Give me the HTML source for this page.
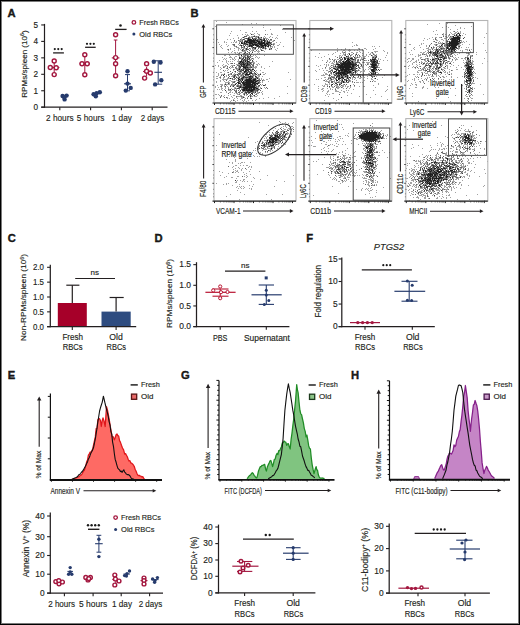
<!DOCTYPE html>
<html><head><meta charset="utf-8"><style>
html,body{margin:0;padding:0;background:#fff;}
body{width:520px;height:625px;overflow:hidden;}
svg{display:block;}
text{font-family:"Liberation Sans", sans-serif;fill:#231f20;stroke:#231f20;stroke-width:0.15px;}
text[font-weight=bold]{stroke:#000;stroke-width:0.35px;}
</style></head><body>
<svg width="520" height="625" viewBox="0 0 520 625">
<rect x="0" y="0" width="520" height="625" fill="#fff"/>
<text x="7.6" y="17.4" font-size="11.2" font-weight="bold" fill="#000">A</text>
<line x1="44.5" y1="23.9" x2="44.5" y2="107.8" stroke="#231f20" stroke-width="1.2"/>
<line x1="41.2" y1="107.2" x2="167.5" y2="107.2" stroke="#231f20" stroke-width="1.2"/>
<line x1="41.2" y1="107.2" x2="44.5" y2="107.2" stroke="#231f20" stroke-width="1.1"/>
<text x="38" y="110.1" font-size="8.2" text-anchor="end">0</text>
<line x1="41.2" y1="90.75" x2="44.5" y2="90.75" stroke="#231f20" stroke-width="1.1"/>
<text x="38" y="93.65" font-size="8.2" text-anchor="end">1</text>
<line x1="41.2" y1="74.3" x2="44.5" y2="74.3" stroke="#231f20" stroke-width="1.1"/>
<text x="38" y="77.2" font-size="8.2" text-anchor="end">2</text>
<line x1="41.2" y1="57.85" x2="44.5" y2="57.85" stroke="#231f20" stroke-width="1.1"/>
<text x="38" y="60.75" font-size="8.2" text-anchor="end">3</text>
<line x1="41.2" y1="41.4" x2="44.5" y2="41.4" stroke="#231f20" stroke-width="1.1"/>
<text x="38" y="44.3" font-size="8.2" text-anchor="end">4</text>
<line x1="41.2" y1="24.95" x2="44.5" y2="24.95" stroke="#231f20" stroke-width="1.1"/>
<text x="38" y="27.85" font-size="8.2" text-anchor="end">5</text>
<text x="26.6" y="64" font-size="7.9" text-anchor="middle" textLength="67.5" lengthAdjust="spacingAndGlyphs" transform="rotate(-90 26.6 64)">RPMs/spleen (10<tspan dy="-2.4" font-size="5.4">6</tspan><tspan dy="2.4">)</tspan></text>
<line x1="59.8" y1="107.2" x2="59.8" y2="110.2" stroke="#231f20" stroke-width="1.1"/>
<line x1="90.6" y1="107.2" x2="90.6" y2="110.2" stroke="#231f20" stroke-width="1.1"/>
<line x1="121.4" y1="107.2" x2="121.4" y2="110.2" stroke="#231f20" stroke-width="1.1"/>
<line x1="152.2" y1="107.2" x2="152.2" y2="110.2" stroke="#231f20" stroke-width="1.1"/>
<text x="59.8" y="120.8" font-size="9.4" text-anchor="middle" textLength="27.5" lengthAdjust="spacingAndGlyphs">2 hours</text>
<text x="90.6" y="120.8" font-size="9.4" text-anchor="middle" textLength="27.5" lengthAdjust="spacingAndGlyphs">5 hours</text>
<text x="121.8" y="120.8" font-size="9.4" text-anchor="middle" textLength="20" lengthAdjust="spacingAndGlyphs">1 day</text>
<text x="152.4" y="120.8" font-size="9.4" text-anchor="middle" textLength="23.5" lengthAdjust="spacingAndGlyphs">2 days</text>
<circle cx="133.9" cy="22.4" r="1.8" fill="#fff" stroke="#a3173f" stroke-width="1.3"/>
<text x="139.3" y="25.1" font-size="7.9" textLength="39.5" lengthAdjust="spacingAndGlyphs">Fresh RBCs</text>
<circle cx="133.9" cy="33.9" r="1.5" fill="#263b6d"/>
<text x="139.3" y="36.6" font-size="7.9" textLength="33" lengthAdjust="spacingAndGlyphs">Old RBCs</text>
<line x1="54.2" y1="61" x2="54.2" y2="74.6" stroke="#a3173f" stroke-width="1"/>
<line x1="54.2" y1="61" x2="54.2" y2="61" stroke="#a3173f" stroke-width="1"/>
<line x1="54.2" y1="74.6" x2="54.2" y2="74.6" stroke="#a3173f" stroke-width="1"/>
<line x1="49" y1="67.5" x2="59.4" y2="67.5" stroke="#a3173f" stroke-width="1.1"/>
<circle cx="54.2" cy="61" r="2" fill="#fff" stroke="#a3173f" stroke-width="1.45"/>
<circle cx="50.3" cy="67.4" r="2" fill="#fff" stroke="#a3173f" stroke-width="1.45"/>
<circle cx="56.2" cy="67.8" r="2" fill="#fff" stroke="#a3173f" stroke-width="1.45"/>
<circle cx="54.2" cy="74.6" r="2" fill="#fff" stroke="#a3173f" stroke-width="1.45"/>
<circle cx="62.6" cy="96" r="2.2" fill="#263b6d"/>
<circle cx="66.6" cy="95.6" r="2.2" fill="#263b6d"/>
<circle cx="64.6" cy="99.4" r="2.2" fill="#263b6d"/>
<circle cx="64.3" cy="97.2" r="2.2" fill="#263b6d"/>
<line x1="53.1" y1="52.9" x2="63.9" y2="52.9" stroke="#231f20" stroke-width="1.3"/>
<circle cx="54.8" cy="49.1" r="1.1" fill="#1a1a1a"/>
<circle cx="58.25" cy="49.1" r="1.1" fill="#1a1a1a"/>
<circle cx="61.7" cy="49.1" r="1.1" fill="#1a1a1a"/>
<line x1="84.8" y1="54.8" x2="84.8" y2="74.8" stroke="#a3173f" stroke-width="1"/>
<line x1="84.8" y1="54.8" x2="84.8" y2="54.8" stroke="#a3173f" stroke-width="1"/>
<line x1="84.8" y1="74.8" x2="84.8" y2="74.8" stroke="#a3173f" stroke-width="1"/>
<line x1="79.6" y1="63.7" x2="90" y2="63.7" stroke="#a3173f" stroke-width="1.1"/>
<circle cx="84.8" cy="54.8" r="2" fill="#fff" stroke="#a3173f" stroke-width="1.45"/>
<circle cx="82" cy="63.7" r="2" fill="#fff" stroke="#a3173f" stroke-width="1.45"/>
<circle cx="87.2" cy="63.7" r="2" fill="#fff" stroke="#a3173f" stroke-width="1.45"/>
<circle cx="84.8" cy="74.8" r="2" fill="#fff" stroke="#a3173f" stroke-width="1.45"/>
<circle cx="93.6" cy="94.3" r="2.2" fill="#263b6d"/>
<circle cx="96.6" cy="93.2" r="2.2" fill="#263b6d"/>
<circle cx="99.8" cy="92.2" r="2.2" fill="#263b6d"/>
<circle cx="95.8" cy="96.2" r="2.2" fill="#263b6d"/>
<line x1="85.1" y1="47.3" x2="95.7" y2="47.3" stroke="#231f20" stroke-width="1.3"/>
<circle cx="87" cy="43.8" r="1.1" fill="#1a1a1a"/>
<circle cx="90.4" cy="43.8" r="1.1" fill="#1a1a1a"/>
<circle cx="93.8" cy="43.8" r="1.1" fill="#1a1a1a"/>
<line x1="115.6" y1="40" x2="115.6" y2="75.8" stroke="#a3173f" stroke-width="1"/>
<line x1="113.8" y1="40" x2="117.4" y2="40" stroke="#a3173f" stroke-width="1"/>
<line x1="113.8" y1="75.8" x2="117.4" y2="75.8" stroke="#a3173f" stroke-width="1"/>
<line x1="111.8" y1="57.9" x2="119.4" y2="57.9" stroke="#a3173f" stroke-width="1.1"/>
<circle cx="115.6" cy="34.8" r="2" fill="#fff" stroke="#a3173f" stroke-width="1.45"/>
<circle cx="115.6" cy="57.6" r="2" fill="#fff" stroke="#a3173f" stroke-width="1.45"/>
<circle cx="115.6" cy="63.7" r="2" fill="#fff" stroke="#a3173f" stroke-width="1.45"/>
<circle cx="115.6" cy="75.8" r="2" fill="#fff" stroke="#a3173f" stroke-width="1.45"/>
<line x1="127.5" y1="74.6" x2="127.5" y2="90.8" stroke="#263b6d" stroke-width="1"/>
<line x1="125" y1="74.6" x2="130" y2="74.6" stroke="#263b6d" stroke-width="1"/>
<line x1="125" y1="90.8" x2="130" y2="90.8" stroke="#263b6d" stroke-width="1"/>
<line x1="124" y1="83.8" x2="131" y2="83.8" stroke="#263b6d" stroke-width="1.1"/>
<circle cx="127.5" cy="71.2" r="2.2" fill="#263b6d"/>
<circle cx="127.5" cy="83.6" r="2.2" fill="#263b6d"/>
<circle cx="130.7" cy="87.9" r="2.2" fill="#263b6d"/>
<circle cx="125.8" cy="90.6" r="2.2" fill="#263b6d"/>
<line x1="115.2" y1="29.4" x2="126.6" y2="29.4" stroke="#231f20" stroke-width="1.3"/>
<circle cx="120.5" cy="25.5" r="1.3" fill="#1a1a1a"/>
<line x1="146.6" y1="67" x2="146.6" y2="76.3" stroke="#a3173f" stroke-width="1"/>
<line x1="146.6" y1="67" x2="146.6" y2="67" stroke="#a3173f" stroke-width="1"/>
<line x1="146.6" y1="76.3" x2="146.6" y2="76.3" stroke="#a3173f" stroke-width="1"/>
<line x1="143.1" y1="71.5" x2="150.1" y2="71.5" stroke="#a3173f" stroke-width="1.1"/>
<circle cx="146.6" cy="63.7" r="2" fill="#fff" stroke="#a3173f" stroke-width="1.45"/>
<circle cx="146.6" cy="71.2" r="2" fill="#fff" stroke="#a3173f" stroke-width="1.45"/>
<circle cx="150.3" cy="72.9" r="2" fill="#fff" stroke="#a3173f" stroke-width="1.45"/>
<circle cx="144.6" cy="78.1" r="2" fill="#fff" stroke="#a3173f" stroke-width="1.45"/>
<line x1="158.2" y1="60.8" x2="158.2" y2="84.2" stroke="#263b6d" stroke-width="1"/>
<line x1="154.2" y1="60.8" x2="162.2" y2="60.8" stroke="#263b6d" stroke-width="1"/>
<line x1="154.2" y1="84.2" x2="162.2" y2="84.2" stroke="#263b6d" stroke-width="1"/>
<line x1="154.4" y1="72.3" x2="162" y2="72.3" stroke="#263b6d" stroke-width="1.1"/>
<circle cx="153.8" cy="61.7" r="2.2" fill="#263b6d"/>
<circle cx="160.5" cy="62.5" r="2.2" fill="#263b6d"/>
<circle cx="161.3" cy="80.2" r="2.2" fill="#263b6d"/>
<circle cx="155.1" cy="84.4" r="2.2" fill="#263b6d"/>
<text x="190.5" y="17.4" font-size="11.2" font-weight="bold" fill="#000">B</text>
<g transform="translate(214 20.5)"><path d="M2 1h1m9 1h1m24 1h1m4 0h1m-15 1h1m20 1h1m16 0h1m-66 1h1m36 1h1m10 0h1m6 2h1m11 0h1m-43 1h1m24 0h1m-35 1h1m20 0h1m3 0h1m-12 1h2m38 0h1m-56 1h1m19 0h1m3 0h1m2 0h1m13 0h1m-30 1h1m2 0h1m1 0h1m4 0h2m4 0h2m7 0h1m3 0h2m-44 1h1m7 0h1m8 0h3m5 0h1m4 0h1m17 0h1m-29 1h1m1 0h2m2 0h1m1 0h1m6 0h1m5 0h1m-33 1h1m3 0h1m1 0h1m5 0h2m3 0h3m1 0h2m2 0h1m1 0h1m3 0h1m2 0h1m3 0h1m14 0h1m-59 1h1m4 0h1m2 0h1m2 0h1m5 0h1m2 0h1m6 0h2m3 0h3m7 0h1m1 0h1m-61 1h1m9 0h1m2 0h1m10 0h2m9 0h1m3 0h1m5 0h1m-47 1h1m22 0h3m2 0h1m1 0h1m13 0h1m5 0h1m2 0h3m1 0h1m20 0h1m-71 1h1m9 0h1m1 0h1m2 0h1m1 0h1m24 0h1m1 0h1m3 0h2m-56 1h1m5 0h1m1 0h1m4 0h1m1 0h1m1 0h2m2 0h1m3 0h1m1 0h1m11 0h1m7 0h1m10 0h1m3 0h1m-34 1h2m22 0h1m1 0h2m-56 1h1m6 0h1m5 0h1m5 0h1m1 0h1m7 0h1m14 0h1m6 0h1m1 0h1m1 0h1m4 0h1m-59 1h1m6 0h1m4 0h1m5 0h1m2 0h1m4 0h2m5 0h1m4 0h1m7 0h1m5 0h1m3 0h2m-59 1h1m6 0h1m6 0h2m7 0h1m2 0h2m16 0h1m1 0h1m4 0h2m1 0h1m8 0h1m-68 1h1m4 0h1m14 0h3m4 0h1m7 0h1m4 0h1m7 0h1m3 0h1m1 0h1m1 0h1m1 0h1m-53 1h1m7 0h1m3 0h1m3 0h2m1 0h1m1 0h3m1 0h1m2 0h1m2 0h1m6 0h1m3 0h1m1 0h1m2 0h2m6 0h1m-51 1h1m2 0h1m7 0h1m1 0h1m4 0h1m4 0h1m1 0h4m1 0h1m2 0h2m3 0h1m4 0h2m3 0h1m-48 1h1m5 0h1m3 0h1m2 0h1m1 0h1m1 0h2m4 0h2m5 0h1m4 0h1m12 0h1m-45 1h1m9 0h4m4 0h1m1 0h1m1 0h2m1 0h3m4 0h1m-37 1h1m2 0h1m2 0h2m1 0h1m1 0h3m2 0h1m3 0h1m9 0h1m-24 1h1m2 0h1m4 0h1m1 0h2m4 0h1m5 0h1m1 0h1m-31 1h1m2 0h1m3 0h1m1 0h3m3 0h1m1 0h2m2 0h1m-27 1h2m3 0h1m8 0h2m3 0h2m1 0h1m1 0h1m4 0h1m1 0h1m8 0h1m-35 1h1m4 0h2m2 0h1m1 0h3m1 0h1m4 0h3m3 0h1m-35 1h1m6 0h3m2 0h1m5 0h2m2 0h1m1 0h1m2 0h1m5 0h1m1 0h1m1 0h1m-36 1h1m1 0h1m5 0h1m1 0h1m6 0h1m4 0h1m1 0h1m2 0h1m1 0h1m4 0h1m-36 1h1m1 0h1m4 0h1m1 0h2m1 0h1m2 0h1m4 0h1m2 0h1m3 0h2m1 0h1m-35 1h1m6 0h1m7 0h1m3 0h1m3 0h1m6 0h1m-28 1h1m3 0h1m1 0h1m1 0h1m1 0h1m4 0h2m5 0h1m1 0h1m6 0h1m2 0h1m15 0h1m-56 1h1m8 0h1m11 0h1m6 0h1m6 0h3m-28 1h1m2 0h1m20 0h1m2 0h1m3 0h1m-36 1h1m4 0h1m7 0h4m10 0h1m1 0h1m3 0h2m1 0h1m-45 1h1m2 0h1m3 0h1m2 0h2m4 0h3m6 0h1m1 0h1m14 0h1m-40 1h1m4 0h3m4 0h1m5 0h1m1 0h1m9 0h2m1 0h2m2 0h2m4 0h1m7 0h1m-50 1h1m3 0h1m2 0h1m3 0h3m2 0h1m1 0h1m13 0h5m4 0h1m-48 1h1m6 0h1m4 0h1m3 0h1m4 0h1m1 0h2m1 0h1m1 0h1m6 0h2m1 0h2m1 0h1m8 0h1m-45 1h1m7 0h1m5 0h1m1 0h2m2 0h1m1 0h1m1 0h1m6 0h1m-27 1h1m1 0h1m5 0h1m4 0h2m12 0h1m3 0h1m3 0h1m-37 1h1m9 0h1m3 0h1m4 0h1m3 0h1m2 0h1m1 0h2m-38 1h1m3 0h2m5 0h1m7 0h1m1 0h1m1 0h5m4 0h1m7 0h1m5 0h2m24 0h1m-71 1h1m5 0h1m5 0h1m3 0h1m9 0h2m7 0h1m3 0h1m2 0h1m4 0h1m-48 1h1m2 0h3m5 0h2m2 0h2m1 0h1m1 0h1m1 0h2m1 0h2m5 0h1m2 0h2m4 0h1m3 0h2m-47 1h1m7 0h1m5 0h2m3 0h1m2 0h1m1 0h1m8 0h2m1 0h2m1 0h3m-44 1h2m2 0h1m5 0h1m4 0h2m2 0h2m1 0h5m2 0h3m5 0h1m4 0h2m2 0h1m-44 1h1m3 0h2m12 0h2m2 0h1m11 0h1m1 0h1m2 0h1m-43 1h2m2 0h1m2 0h1m3 0h3m1 0h1m2 0h1m2 0h1m1 0h2m3 0h2m1 0h1m4 0h1m3 0h1m1 0h2m1 0h1m7 0h1m-48 1h6m5 0h1m2 0h1m6 0h2m11 0h1m1 0h1m2 0h1m1 0h1m2 0h2m22 0h1m-71 1h1m2 0h1m5 0h2m5 0h2m1 0h1m1 0h1m21 0h2m-49 1h1m3 0h1m3 0h1m3 0h1m2 0h3m1 0h1m4 0h1m17 0h1m3 0h1m5 0h1m-53 1h1m8 0h5m2 0h1m7 0h1m15 0h2m2 0h1m1 0h1m-38 1h1m3 0h1m2 0h1m2 0h1m15 0h1m7 0h1m-40 1h3m1 0h1m1 0h4m2 0h3m2 0h2m3 0h1m13 0h1m5 0h1m-46 1h1m3 0h2m1 0h1m1 0h1m3 0h3m3 0h1m2 0h1m2 0h1m13 0h1m4 0h1m3 0h1m-51 1h1m4 0h1m3 0h1m2 0h1m4 0h1m3 0h1m5 0h1m12 0h1m1 0h1m1 0h1m27 0h1m-73 1h1m2 0h1m2 0h1m3 0h1m2 0h1m5 0h2m2 0h1m18 0h2m1 0h1m3 0h1m-44 1h2m2 0h1m2 0h1m2 0h1m2 0h1m1 0h1m4 0h2m9 0h1m5 0h1m1 0h1m4 0h1m-49 1h1m1 0h1m1 0h1m2 0h1m4 0h1m3 0h2m1 0h1m2 0h1m-18 1h1m5 0h4m3 0h1m22 0h1m-33 1h1m3 0h1m8 0h2m1 0h1m1 0h1m1 0h1m7 0h1m1 0h1m5 0h1m-43 1h2m4 0h1m2 0h2m1 0h1m2 0h1m8 0h1m6 0h1m2 0h1m2 0h2m2 0h1m-28 1h1m1 0h2m1 0h2m2 0h1m1 0h1m3 0h1m4 0h1m1 0h3m3 0h1m24 0h1m-73 1h2m1 0h1m11 0h1m6 0h2m4 0h1m2 0h1m8 0h1m6 0h1m-44 1h1m4 0h1m3 0h1m4 0h2m5 0h2m2 0h1m1 0h1m2 0h1m1 0h1m1 0h1m3 0h1m-38 1h2m1 0h1m7 0h1m5 0h4m1 0h2m7 0h2m1 0h3m22 0h1m-53 1h1m4 0h1m3 0h1m4 0h2m1 0h1m2 0h1m2 0h1m17 0h1m-53 1h1m10 0h1m1 0h1m4 0h1m2 0h1m3 0h2m2 0h1m13 0h1m3 0h1m10 0h1m-42 1h1m6 0h1m3 0h1m11 0h1m-26 1h1m2 0h1m2 0h1m4 0h1m1 0h1m3 0h1m3 0h1m2 0h1m-26 1h1m4 0h1m7 0h1m2 0h1" stroke="#a2a2a2" stroke-width="1"/><path d="M51 14h1m-22 2h3m6 0h1m2 0h1m1 0h1m-11 1h2m2 0h1m-8 1h1m1 0h1m1 0h1m4 0h3m1 0h2m3 0h2m-25 1h1m3 0h1m2 0h1m6 0h1m2 0h3m3 0h1m2 0h1m1 0h1m1 0h2m-38 1h1m3 0h1m3 0h1m2 0h1m12 0h2m2 0h1m2 0h1m1 0h1m6 0h1m-35 1h1m1 0h1m5 0h1m6 0h2m3 0h1m1 0h1m2 0h1m3 0h1m-28 1h1m23 0h1m3 0h2m-33 1h1m3 0h1m2 0h1m6 0h1m2 0h1m8 0h1m3 0h1m-37 1h2m8 0h3m5 0h1m6 0h1m7 0h1m2 0h1m3 0h1m-40 1h1m5 0h1m2 0h1m1 0h1m23 0h1m-34 1h1m4 0h1m6 0h1m1 0h1m5 0h1m3 0h1m9 0h1m-30 1h2m1 0h1m2 0h1m4 0h1m1 0h1m3 0h3m1 0h1m2 0h1m-17 1h1m2 0h1m1 0h1m3 0h1m3 0h2m-36 1h1m13 0h2m3 0h2m-5 1h1m4 0h1m3 0h1m2 0h1m5 0h1m-16 1h1m1 1h1m-11 1h1m7 0h1m1 0h1m-13 1h1m10 0h1m2 0h1m-7 1h1m1 0h1m-4 1h1m3 0h2m-3 1h1m2 0h1m-11 1h1m1 0h1m9 0h1m-12 1h1m3 0h1m2 0h2m-6 1h1m1 0h1m3 0h1m-12 1h1m2 0h1m6 0h1m2 0h1m-14 1h1m1 0h1m2 0h1m1 0h1m1 0h1m1 0h2m-21 1h2m1 0h1m3 0h1m1 0h1m1 0h1m1 0h1m1 0h1m1 0h2m3 0h1m-9 1h2m4 0h1m1 0h1m-20 1h1m2 0h3m5 0h1m2 0h3m1 0h2m-27 1h1m4 0h1m7 0h2m5 0h1m2 0h1m2 0h1m-31 1h1m5 0h1m5 0h1m3 0h1m8 0h3m-24 1h1m8 0h1m6 0h2m1 0h3m-16 1h1m4 0h1m6 0h1m4 0h1m-28 1h1m16 0h2m9 0h1m-22 1h1m8 0h1m1 0h1m7 0h1m1 0h1m3 0h1m-28 1h1m3 0h1m12 0h2m2 0h1m4 0h1m-24 1h1m6 0h3m1 0h1m4 0h1m4 0h1m1 0h1m-27 1h1m2 0h1m3 0h1m3 0h1m2 0h1m9 0h1m2 0h1m2 0h1m-38 1h1m6 0h1m6 0h1m2 0h1m2 0h1m1 0h1m2 0h3m1 0h1m2 0h1m-30 1h1m4 0h1m3 0h1m14 0h1m7 0h1m-37 1h1m7 0h1m4 0h1m10 0h1m3 0h1m2 0h1m5 0h1m-26 1h1m2 0h1m7 0h1m2 0h1m1 0h1m4 0h2m-23 1h1m1 0h1m5 0h2m3 0h1m5 0h2m6 0h1m-34 1h1m17 0h1m11 0h1m2 0h2m1 0h1m-29 1h1m3 0h1m5 0h2m8 0h1m2 0h1m1 0h1m-27 1h2m4 0h1m1 0h1m17 0h1m-29 2h1m8 0h2m11 0h1m6 0h1m4 0h1m-33 1h2m2 0h2m1 0h2m16 0h1m-38 1h1m3 0h1m12 0h2m1 0h1m1 0h2m11 0h1m1 0h1m-18 1h1m14 0h1m9 0h1m-32 1h1m3 0h1m8 0h1m6 0h1m11 0h1m-40 1h1m3 0h1m8 0h1m13 0h3m1 0h1m-26 1h1m1 0h1m1 0h1m15 0h3m3 0h1m-26 1h2m6 0h1m1 0h1m3 0h1m3 0h1m1 0h1m1 0h1m-22 1h1m1 0h2m1 0h2m4 0h1m2 0h1m1 0h2m5 0h1m-32 1h1m15 0h1m3 0h1m-10 1h1m7 0h1m8 0h1m-36 1h1m28 0h1m-15 1h1m4 0h1m-22 1h1m3 0h1m1 0h1m20 1h1m2 0h2m-19 2h1" stroke="#666" stroke-width="1"/><path d="M37 14h1m2 2h1m-12 1h1m17 0h1m-16 1h1m-4 1h1m7 0h1m9 0h1m-15 1h1m7 0h1m5 0h1m-18 1h1m2 1h1m4 0h1m7 0h1m1 0h1m4 0h1m-23 1h1m8 0h2m1 0h1m10 0h1m1 0h1m-25 1h1m2 0h2m6 0h1m4 0h1m5 0h1m2 0h1m-20 1h1m7 0h1m5 0h1m3 0h1m-27 1h1m7 0h1m5 0h1m2 0h1m1 0h1m3 0h1m-13 1h1m-10 1h1m18 0h1m5 0h1m-26 1h1m22 0h1m-28 1h1m18 0h1m-17 2h1m6 0h1m-9 1h1m0 1h1m3 0h1m0 1h1m-4 1h1m-9 1h1m3 0h1m1 0h1m2 0h1m-10 1h1m3 0h1m1 0h1m1 0h1m-6 1h1m1 0h1m2 0h1m-7 1h1m1 0h1m1 0h1m1 0h1m4 0h1m-10 1h1m-1 1h1m3 0h1m1 0h1m-9 1h1m3 0h1m4 0h1m-11 1h3m5 0h2m-7 1h2m2 0h1m-9 1h1m2 0h1m1 0h3m-7 1h1m5 0h1m4 0h1m-13 1h1m1 1h1m1 0h1m3 0h2m4 0h1m-17 1h1m4 0h2m2 0h3m1 0h1m-16 1h1m4 0h1m5 0h1m1 0h1m-2 1h1m2 0h2m-9 1h1m5 0h2m4 0h1m-32 1h1m12 0h1m18 0h1m-23 1h1m10 0h1m-12 1h1m8 0h2m6 0h2m-19 1h1m1 0h1m2 0h1m2 0h1m2 0h3m1 0h2m1 0h1m3 0h1m-15 1h1m7 0h1m4 0h1m-18 1h1m1 1h1m11 0h1m2 0h1m2 0h1m-20 1h1m-3 1h1m6 0h1m13 0h1m-31 1h1m7 0h1m3 0h1m1 0h1m2 0h1m9 0h1m2 0h1m-34 1h1m31 0h1m-15 1h1m1 0h1m5 0h1m1 0h1m1 0h1m3 0h1m3 0h2m-35 1h1m2 0h1m3 0h1m1 1h1m2 0h1m-6 1h2m4 0h1m6 0h1m10 0h1m-32 1h1m11 0h1m2 0h1m1 0h1m2 0h1m7 0h1m-34 1h1m14 0h1m1 0h1m2 0h1m7 0h1m3 0h1m-11 1h2m1 0h1m1 0h1m-8 1h2m1 0h1m6 0h1m-10 1h1m5 0h1m-9 1h1m5 0h1m1 0h1m1 1h1m-7 1h1m1 0h1m-8 1h1" stroke="#3c3c3c" stroke-width="1"/><path d="M44 17h1m-11 1h1m3 0h1m-5 1h3m2 0h1m1 0h1m4 0h1m3 0h1m-17 1h7m1 0h2m5 0h2m-20 1h3m1 0h6m2 0h3m1 0h1m2 0h1m2 0h1m-27 1h1m2 0h1m1 0h1m1 0h4m1 0h4m1 0h2m1 0h1m1 0h2m3 0h2m-29 1h2m1 0h1m4 0h4m5 0h7m1 0h2m-21 1h1m4 0h5m2 0h3m2 0h2m1 0h1m-27 1h1m7 0h3m1 0h1m1 0h4m2 0h5m2 0h1m-20 1h1m1 0h1m5 0h1m1 0h1m2 0h1m2 0h1m2 0h1m-16 1h1m7 0h1m1 0h1m-9 1h1m-13 6h1m-3 1h1m7 3h1m-10 3h2m3 0h1m1 0h2m-9 1h1m1 0h1m-4 1h1m3 0h1m3 0h1m-5 1h2m2 0h1m-7 1h1m4 0h1m-4 1h1m-1 1h3m1 0h1m-3 1h1m-7 1h1m6 0h1m2 0h1m2 0h1m-8 1h1m8 0h1m-11 1h2m-2 1h1m1 1h1m4 0h1m-7 1h5m10 0h1m-38 1h1m25 1h2m4 0h1m-13 1h1m-14 1h1m7 0h1m2 0h1m7 0h1m1 0h1m5 0h1m-19 1h1m2 0h1m3 0h5m2 0h3m-18 1h1m3 0h1m2 0h7m1 0h2m2 0h1m-17 1h1m1 0h1m2 0h8m1 0h2m-19 1h1m3 0h2m1 0h11m-18 1h2m3 0h2m1 0h5m1 0h3m1 0h2m-23 1h1m7 0h10m1 0h2m-12 1h1m1 0h5m1 0h1m1 0h1m-15 1h1m4 0h10m-15 1h1m2 0h13m-12 1h4m1 0h1m1 0h1m1 0h2m1 0h2m-15 1h2m1 0h1m1 0h2m1 0h4m-12 1h2m1 0h7m-2 1h1m-3 1h1m1 1h1" stroke="#1e1e1e" stroke-width="1"/></g>
<rect x="214" y="20.5" width="82" height="82.5" fill="none" stroke="#b5b5b5" stroke-width="1.1"/>
<line x1="212.5" y1="103" x2="296" y2="103" stroke="#2a2a2a" stroke-width="1.15"/>
<line x1="212.4" y1="28.8" x2="214" y2="28.8" stroke="#333" stroke-width="0.9"/>
<line x1="213.1" y1="34.8" x2="214" y2="34.8" stroke="#555" stroke-width="0.7"/>
<line x1="213.1" y1="39.3" x2="214" y2="39.3" stroke="#555" stroke-width="0.7"/>
<line x1="213.1" y1="42.3" x2="214" y2="42.3" stroke="#555" stroke-width="0.7"/>
<line x1="212.4" y1="47.6" x2="214" y2="47.6" stroke="#333" stroke-width="0.9"/>
<line x1="213.1" y1="53.6" x2="214" y2="53.6" stroke="#555" stroke-width="0.7"/>
<line x1="213.1" y1="58.1" x2="214" y2="58.1" stroke="#555" stroke-width="0.7"/>
<line x1="213.1" y1="61.1" x2="214" y2="61.1" stroke="#555" stroke-width="0.7"/>
<line x1="212.4" y1="66.4" x2="214" y2="66.4" stroke="#333" stroke-width="0.9"/>
<line x1="213.1" y1="72.4" x2="214" y2="72.4" stroke="#555" stroke-width="0.7"/>
<line x1="213.1" y1="76.9" x2="214" y2="76.9" stroke="#555" stroke-width="0.7"/>
<line x1="213.1" y1="79.9" x2="214" y2="79.9" stroke="#555" stroke-width="0.7"/>
<line x1="212.4" y1="85.2" x2="214" y2="85.2" stroke="#333" stroke-width="0.9"/>
<line x1="213.1" y1="91.2" x2="214" y2="91.2" stroke="#555" stroke-width="0.7"/>
<line x1="213.1" y1="95.7" x2="214" y2="95.7" stroke="#555" stroke-width="0.7"/>
<line x1="213.1" y1="98.7" x2="214" y2="98.7" stroke="#555" stroke-width="0.7"/>
<line x1="214.5" y1="103" x2="214.5" y2="105" stroke="#222" stroke-width="1"/>
<line x1="220.4" y1="103" x2="220.4" y2="104.4" stroke="#333" stroke-width="0.7"/>
<line x1="223.9" y1="103" x2="223.9" y2="104.4" stroke="#333" stroke-width="0.7"/>
<line x1="226.3" y1="103" x2="226.3" y2="104.4" stroke="#333" stroke-width="0.7"/>
<line x1="228.2" y1="103" x2="228.2" y2="104.4" stroke="#333" stroke-width="0.7"/>
<line x1="229.8" y1="103" x2="229.8" y2="104.4" stroke="#333" stroke-width="0.7"/>
<line x1="231.1" y1="103" x2="231.1" y2="104.4" stroke="#333" stroke-width="0.7"/>
<line x1="232.3" y1="103" x2="232.3" y2="104.4" stroke="#333" stroke-width="0.7"/>
<line x1="234" y1="103" x2="234" y2="105" stroke="#222" stroke-width="1"/>
<line x1="239.9" y1="103" x2="239.9" y2="104.4" stroke="#333" stroke-width="0.7"/>
<line x1="243.4" y1="103" x2="243.4" y2="104.4" stroke="#333" stroke-width="0.7"/>
<line x1="245.8" y1="103" x2="245.8" y2="104.4" stroke="#333" stroke-width="0.7"/>
<line x1="247.7" y1="103" x2="247.7" y2="104.4" stroke="#333" stroke-width="0.7"/>
<line x1="249.3" y1="103" x2="249.3" y2="104.4" stroke="#333" stroke-width="0.7"/>
<line x1="250.6" y1="103" x2="250.6" y2="104.4" stroke="#333" stroke-width="0.7"/>
<line x1="251.8" y1="103" x2="251.8" y2="104.4" stroke="#333" stroke-width="0.7"/>
<line x1="253.5" y1="103" x2="253.5" y2="105" stroke="#222" stroke-width="1"/>
<line x1="259.4" y1="103" x2="259.4" y2="104.4" stroke="#333" stroke-width="0.7"/>
<line x1="262.9" y1="103" x2="262.9" y2="104.4" stroke="#333" stroke-width="0.7"/>
<line x1="265.3" y1="103" x2="265.3" y2="104.4" stroke="#333" stroke-width="0.7"/>
<line x1="267.2" y1="103" x2="267.2" y2="104.4" stroke="#333" stroke-width="0.7"/>
<line x1="268.8" y1="103" x2="268.8" y2="104.4" stroke="#333" stroke-width="0.7"/>
<line x1="270.1" y1="103" x2="270.1" y2="104.4" stroke="#333" stroke-width="0.7"/>
<line x1="271.3" y1="103" x2="271.3" y2="104.4" stroke="#333" stroke-width="0.7"/>
<line x1="273" y1="103" x2="273" y2="105" stroke="#222" stroke-width="1"/>
<line x1="278.9" y1="103" x2="278.9" y2="104.4" stroke="#333" stroke-width="0.7"/>
<line x1="282.4" y1="103" x2="282.4" y2="104.4" stroke="#333" stroke-width="0.7"/>
<line x1="284.8" y1="103" x2="284.8" y2="104.4" stroke="#333" stroke-width="0.7"/>
<line x1="286.7" y1="103" x2="286.7" y2="104.4" stroke="#333" stroke-width="0.7"/>
<line x1="288.3" y1="103" x2="288.3" y2="104.4" stroke="#333" stroke-width="0.7"/>
<line x1="289.6" y1="103" x2="289.6" y2="104.4" stroke="#333" stroke-width="0.7"/>
<line x1="290.8" y1="103" x2="290.8" y2="104.4" stroke="#333" stroke-width="0.7"/>
<line x1="292.5" y1="103" x2="292.5" y2="105" stroke="#222" stroke-width="1"/>
<rect x="216.6" y="24.9" width="76.8" height="29.4" fill="none" stroke="#555" stroke-width="1"/>
<g transform="translate(310 20.5)"><path d="M42 22h1m3 2h1m-3 1h1m1 0h2m-6 1h1m19 0h1m1 0h1m4 0h1m-43 2h1m7 0h1m12 0h2m4 0h2m9 0h1m-35 1h1m3 0h1m3 0h1m12 0h1m3 0h1m6 0h1m-63 1h1m25 0h1m5 0h2m3 0h3m3 0h1m2 0h1m4 0h1m20 0h1m-47 1h1m4 0h1m2 0h1m3 0h1m9 0h1m14 0h4m6 0h1m-50 1h1m6 0h2m1 0h1m5 0h2m3 0h2m2 0h1m7 0h1m2 0h1m3 0h1m11 0h1m-69 1h1m13 0h1m6 0h1m2 0h1m1 0h1m2 0h1m7 0h1m5 0h1m7 0h1m1 0h2m13 0h1m-60 1h1m3 0h1m10 0h2m2 0h1m3 0h2m2 0h1m2 0h1m7 0h1m2 0h2m3 0h1m1 0h1m-38 1h2m1 0h1m1 0h1m3 0h1m2 0h1m10 0h1m3 0h1m5 0h1m1 0h1m1 0h1m9 0h1m-72 1h1m8 0h1m10 0h1m3 0h1m1 0h1m8 0h1m4 0h1m1 0h1m1 0h2m3 0h2m2 0h1m3 0h4m-58 1h1m2 0h1m17 0h2m2 0h1m1 0h3m1 0h2m1 0h1m2 0h2m1 0h2m1 0h1m2 0h1m9 0h1m10 0h1m-46 1h1m5 0h1m2 0h1m4 0h1m1 0h1m4 0h1m3 0h1m7 0h1m4 0h1m-50 1h2m3 0h2m1 0h2m11 0h1m6 0h1m2 0h2m9 0h1m4 0h1m1 0h1m1 0h1m-59 1h1m4 0h1m5 0h1m2 0h1m6 0h2m6 0h4m10 0h2m8 0h1m7 0h1m3 0h1m-61 1h1m2 0h1m2 0h2m4 0h1m4 0h1m5 0h1m2 0h3m2 0h1m20 0h1m-51 1h1m2 0h1m1 0h1m2 0h2m3 0h1m11 0h1m7 0h1m1 0h1m1 0h4m-39 1h3m4 0h1m17 0h1m2 0h2m6 0h2m1 0h2m7 0h1m-56 1h1m1 0h1m1 0h1m4 0h3m22 0h1m1 0h1m4 0h1m2 0h1m9 0h1m-63 1h1m3 0h1m5 0h1m1 0h1m3 0h2m3 0h1m18 0h1m6 0h1m2 0h1m10 0h2m-61 1h1m7 0h1m3 0h1m3 0h1m1 0h1m18 0h1m4 0h3m7 0h1m-42 1h1m2 0h4m26 0h1m5 0h1m1 0h1m7 0h2m-58 1h1m2 0h1m3 0h1m6 0h1m13 0h1m6 0h1m2 0h1m8 0h2m5 0h1m-58 1h1m9 0h1m1 0h2m1 0h1m23 0h1m4 0h1m1 0h1m2 0h1m1 0h1m9 0h2m-67 1h1m7 0h1m2 0h2m2 0h1m6 0h1m13 0h1m5 0h1m1 0h1m4 0h1m11 0h2m-62 1h1m11 0h1m11 0h1m11 0h1m1 0h1m1 0h2m2 0h2m2 0h1m4 0h1m1 0h1m3 0h1m-52 1h1m3 0h1m1 0h1m4 0h1m16 0h1m1 0h1m1 0h1m3 0h1m10 0h2m1 0h1m1 0h2m-53 1h2m3 0h1m2 0h1m16 0h1m2 0h1m3 0h1m5 0h1m4 0h2m8 0h1m-56 1h1m1 0h3m3 0h1m1 0h1m1 0h1m1 0h1m9 0h1m1 0h1m3 0h1m2 0h2m2 0h1m10 0h1m2 0h1m2 0h1m-57 1h4m3 0h1m1 0h1m5 0h1m3 0h1m7 0h1m5 0h1m3 0h3m1 0h2m5 0h1m14 0h1m-56 1h1m2 0h3m5 0h1m2 0h2m3 0h1m2 0h1m11 0h1m3 0h1m5 0h1m2 0h1m-53 1h2m2 0h2m1 0h1m5 0h1m2 0h1m3 0h3m1 0h1m3 0h2m1 0h1m1 0h2m1 0h2m2 0h1m17 0h1m-62 1h1m7 0h1m1 0h1m1 0h2m1 0h1m4 0h1m4 0h1m5 0h1m2 0h1m3 0h2m6 0h1m3 0h1m2 0h1m-59 1h1m1 0h1m6 0h1m1 0h2m1 0h1m1 0h2m1 0h1m5 0h1m7 0h1m2 0h1m1 0h1m16 0h2m4 0h1m-55 1h1m2 0h1m2 0h3m2 0h1m4 0h3m2 0h2m2 0h1m1 0h1m5 0h1m7 0h1m8 0h1m-49 1h5m3 0h2m1 0h1m1 0h2m4 0h1m4 0h2m23 0h2m-47 1h1m4 0h3m2 0h2m1 0h1m2 0h2m5 0h1m3 0h3m1 0h1m1 0h1m-38 1h1m3 0h1m3 0h1m5 0h2m37 0h1m-65 1h1m10 0h3m1 0h1m4 0h1m1 0h1m6 0h1m9 0h1m24 0h1m-57 1h1m1 0h1m2 0h1m7 0h3m1 0h1m2 0h2m1 0h1m27 0h1m-56 1h1m4 0h2m6 0h2m3 0h3m1 0h1m1 0h2m1 0h1m1 0h2m1 0h1m3 0h1m4 0h1m3 0h2m22 0h1m-59 1h1m2 0h2m3 0h3m2 0h1m4 0h1m2 0h1m24 0h1m-58 1h1m3 0h2m3 0h1m2 0h1m4 0h1m1 0h2m4 0h1m5 0h1m-29 1h2m7 0h1m1 0h1m20 0h1m33 0h1m-70 1h1m4 0h1m4 0h1m6 0h2m4 0h1m4 0h1m1 0h1m24 0h1m12 0h1m-65 1h1m4 0h2m6 0h4m4 0h2m40 0h1m-59 1h1m11 0h2m3 0h1m2 0h1m-22 1h1m5 0h2m17 0h1m-25 1h1m1 0h1m36 0h1m8 0h1m-51 1h1m21 0h1m-20 1h1m30 0h1m21 0h1m-12 1h1m-38 1h1m4 1h1m48 0h1m-64 1h1m11 0h1" stroke="#a2a2a2" stroke-width="1"/><path d="M49 29h1m-16 3h1m27 0h1m-24 1h1m3 0h1m-9 1h1m27 0h1m-29 1h1m4 0h1m4 0h1m1 0h1m1 0h1m15 0h1m-29 1h2m4 0h1m-17 1h1m10 0h1m2 0h1m5 0h1m14 0h1m3 0h1m-48 1h1m9 0h1m2 0h1m12 0h1m7 0h2m7 0h1m1 0h1m-43 1h1m7 0h3m8 0h1m2 0h2m2 0h1m3 0h2m-30 1h1m4 0h3m7 0h1m5 0h1m1 0h2m1 0h1m3 0h1m3 0h1m1 0h1m1 0h1m3 0h1m-39 1h1m1 0h1m16 0h1m12 0h1m5 0h1m-51 1h1m9 0h1m2 0h3m9 0h1m1 0h1m1 0h5m3 0h1m7 0h1m3 0h1m-40 1h2m16 0h1m21 0h3m-39 1h1m20 0h1m5 0h1m2 0h1m-40 1h1m3 0h1m15 0h1m19 0h1m-39 1h1m17 0h1m2 0h1m3 0h1m10 0h1m5 0h3m-53 1h1m5 0h1m4 0h2m16 0h2m2 0h2m11 0h1m5 0h1m-48 1h1m4 0h1m2 0h2m4 0h1m9 0h2m3 0h1m-22 1h1m14 0h3m19 0h1m-45 1h2m17 0h1m3 0h3m1 0h1m16 0h1m-47 1h2m1 0h1m3 0h1m14 0h1m-21 1h1m4 0h1m14 0h1m18 0h1m-40 1h1m3 0h1m12 0h2m1 0h2m2 0h1m16 0h1m1 0h1m-46 1h1m4 0h1m4 0h1m2 0h1m7 0h2m6 0h2m12 0h1m2 0h1m-42 1h1m7 0h1m1 0h3m4 0h2m17 0h2m-41 1h1m4 0h1m4 0h1m4 0h1m11 0h1m12 0h2m-43 1h1m1 0h3m3 0h1m4 0h1m6 0h1m3 0h1m17 0h1m-45 1h1m6 0h1m6 0h1m5 0h1m1 0h1m-12 1h1m2 0h1m2 0h2m1 0h1m-25 1h1m22 0h1m1 0h1m-19 1h2m8 0h2m5 0h1m3 0h1m17 0h1m1 0h1m-45 1h1m2 0h2m4 0h2m2 0h1m2 0h1m2 0h2m5 0h1m-24 2h1m8 0h1m3 0h1m1 0h1m-6 1h1m12 0h1m-28 1h1m6 0h1m1 1h1m4 0h1m4 1h1m-12 1h1m3 5h1m1 3h1" stroke="#666" stroke-width="1"/><path d="M46 34h1m14 1h1m4 1h1m-36 1h1m12 0h1m18 0h1m1 0h1m-31 1h1m1 0h1m4 0h1m22 0h1m-32 1h1m7 0h1m17 0h1m4 0h1m-26 1h1m22 0h1m3 0h1m-36 1h1m4 0h1m3 0h1m19 0h2m4 0h1m-32 1h1m25 0h1m3 0h2m-38 1h2m9 0h3m1 0h1m17 0h3m-40 1h1m17 0h2m20 0h1m-39 1h2m3 0h1m6 0h1m3 0h2m1 0h2m2 0h1m14 0h1m-40 1h2m17 0h1m14 0h2m-21 1h2m22 0h1m-44 1h1m3 0h1m3 0h1m7 0h1m3 0h1m19 0h1m-38 1h1m3 0h1m11 0h1m18 0h1m2 0h1m3 0h1m-39 1h1m2 0h1m3 0h1m1 0h1m24 0h1m4 0h1m-46 1h1m3 0h1m2 0h3m4 0h1m-12 1h1m1 0h1m5 0h2m8 0h1m17 0h1m-37 1h1m3 0h1m4 0h1m26 0h1m-38 1h1m1 0h1m-10 1h1m5 0h1m1 0h2m4 0h1m6 0h1m-14 1h3m2 0h1m4 0h1m12 0h1m13 0h1m-36 1h1m-10 1h1m9 0h1m6 0h1m-17 1h1m4 0h1m-2 4h2m0 1h1m-7 1h1m18 0h1m-22 1h1" stroke="#3c3c3c" stroke-width="1"/><path d="M39 34h1m-4 2h1m-3 1h1m-1 1h1m3 0h1m1 0h2m-7 1h1m1 0h3m3 0h1m18 0h3m-29 1h3m22 0h1m2 0h1m-39 1h1m6 0h1m1 0h2m1 0h2m2 0h1m20 0h3m-33 1h3m1 0h4m1 0h1m20 0h2m-33 1h9m21 0h1m-36 1h3m1 0h13m2 0h1m14 0h5m-36 1h3m1 0h6m2 0h2m18 0h4m-41 1h1m3 0h12m1 0h2m19 0h2m-37 1h14m20 0h4m-42 1h1m5 0h1m1 0h2m1 0h4m2 0h2m3 0h1m17 0h2m-41 1h1m1 0h1m3 0h11m20 0h2m2 0h1m-41 1h1m1 0h2m1 0h2m1 0h3m1 0h1m3 0h2m17 0h3m-39 1h1m3 0h1m4 0h4m1 0h2m4 0h1m16 0h3m-42 1h2m3 0h1m1 0h5m2 0h4m2 0h1m21 0h1m-40 1h1m1 0h3m1 0h4m1 0h1m23 0h1m3 0h1m-36 1h2m1 0h4m5 0h1m20 0h1m-35 1h1m1 0h1m5 0h1m-3 1h1m7 0h1m-18 1h1m4 0h2m4 0h1m1 0h1m-12 1h2m3 0h1m31 0h1m-38 1h1m5 0h1m-9 1h2m4 0h1m3 0h1m-4 1h1m2 0h1m-4 1h1m-3 1h1m-10 1h1m6 0h1" stroke="#1e1e1e" stroke-width="1"/></g>
<rect x="309.8" y="20.5" width="82" height="82.5" fill="none" stroke="#b5b5b5" stroke-width="1.1"/>
<line x1="308.3" y1="103" x2="391.8" y2="103" stroke="#2a2a2a" stroke-width="1.15"/>
<line x1="308.2" y1="28.8" x2="309.8" y2="28.8" stroke="#333" stroke-width="0.9"/>
<line x1="308.9" y1="34.8" x2="309.8" y2="34.8" stroke="#555" stroke-width="0.7"/>
<line x1="308.9" y1="39.3" x2="309.8" y2="39.3" stroke="#555" stroke-width="0.7"/>
<line x1="308.9" y1="42.3" x2="309.8" y2="42.3" stroke="#555" stroke-width="0.7"/>
<line x1="308.2" y1="47.6" x2="309.8" y2="47.6" stroke="#333" stroke-width="0.9"/>
<line x1="308.9" y1="53.6" x2="309.8" y2="53.6" stroke="#555" stroke-width="0.7"/>
<line x1="308.9" y1="58.1" x2="309.8" y2="58.1" stroke="#555" stroke-width="0.7"/>
<line x1="308.9" y1="61.1" x2="309.8" y2="61.1" stroke="#555" stroke-width="0.7"/>
<line x1="308.2" y1="66.4" x2="309.8" y2="66.4" stroke="#333" stroke-width="0.9"/>
<line x1="308.9" y1="72.4" x2="309.8" y2="72.4" stroke="#555" stroke-width="0.7"/>
<line x1="308.9" y1="76.9" x2="309.8" y2="76.9" stroke="#555" stroke-width="0.7"/>
<line x1="308.9" y1="79.9" x2="309.8" y2="79.9" stroke="#555" stroke-width="0.7"/>
<line x1="308.2" y1="85.2" x2="309.8" y2="85.2" stroke="#333" stroke-width="0.9"/>
<line x1="308.9" y1="91.2" x2="309.8" y2="91.2" stroke="#555" stroke-width="0.7"/>
<line x1="308.9" y1="95.7" x2="309.8" y2="95.7" stroke="#555" stroke-width="0.7"/>
<line x1="308.9" y1="98.7" x2="309.8" y2="98.7" stroke="#555" stroke-width="0.7"/>
<line x1="310.3" y1="103" x2="310.3" y2="105" stroke="#222" stroke-width="1"/>
<line x1="316.2" y1="103" x2="316.2" y2="104.4" stroke="#333" stroke-width="0.7"/>
<line x1="319.7" y1="103" x2="319.7" y2="104.4" stroke="#333" stroke-width="0.7"/>
<line x1="322.1" y1="103" x2="322.1" y2="104.4" stroke="#333" stroke-width="0.7"/>
<line x1="324" y1="103" x2="324" y2="104.4" stroke="#333" stroke-width="0.7"/>
<line x1="325.6" y1="103" x2="325.6" y2="104.4" stroke="#333" stroke-width="0.7"/>
<line x1="326.9" y1="103" x2="326.9" y2="104.4" stroke="#333" stroke-width="0.7"/>
<line x1="328.1" y1="103" x2="328.1" y2="104.4" stroke="#333" stroke-width="0.7"/>
<line x1="329.8" y1="103" x2="329.8" y2="105" stroke="#222" stroke-width="1"/>
<line x1="335.7" y1="103" x2="335.7" y2="104.4" stroke="#333" stroke-width="0.7"/>
<line x1="339.2" y1="103" x2="339.2" y2="104.4" stroke="#333" stroke-width="0.7"/>
<line x1="341.6" y1="103" x2="341.6" y2="104.4" stroke="#333" stroke-width="0.7"/>
<line x1="343.5" y1="103" x2="343.5" y2="104.4" stroke="#333" stroke-width="0.7"/>
<line x1="345.1" y1="103" x2="345.1" y2="104.4" stroke="#333" stroke-width="0.7"/>
<line x1="346.4" y1="103" x2="346.4" y2="104.4" stroke="#333" stroke-width="0.7"/>
<line x1="347.6" y1="103" x2="347.6" y2="104.4" stroke="#333" stroke-width="0.7"/>
<line x1="349.3" y1="103" x2="349.3" y2="105" stroke="#222" stroke-width="1"/>
<line x1="355.2" y1="103" x2="355.2" y2="104.4" stroke="#333" stroke-width="0.7"/>
<line x1="358.7" y1="103" x2="358.7" y2="104.4" stroke="#333" stroke-width="0.7"/>
<line x1="361.1" y1="103" x2="361.1" y2="104.4" stroke="#333" stroke-width="0.7"/>
<line x1="363" y1="103" x2="363" y2="104.4" stroke="#333" stroke-width="0.7"/>
<line x1="364.6" y1="103" x2="364.6" y2="104.4" stroke="#333" stroke-width="0.7"/>
<line x1="365.9" y1="103" x2="365.9" y2="104.4" stroke="#333" stroke-width="0.7"/>
<line x1="367.1" y1="103" x2="367.1" y2="104.4" stroke="#333" stroke-width="0.7"/>
<line x1="368.8" y1="103" x2="368.8" y2="105" stroke="#222" stroke-width="1"/>
<line x1="374.7" y1="103" x2="374.7" y2="104.4" stroke="#333" stroke-width="0.7"/>
<line x1="378.2" y1="103" x2="378.2" y2="104.4" stroke="#333" stroke-width="0.7"/>
<line x1="380.6" y1="103" x2="380.6" y2="104.4" stroke="#333" stroke-width="0.7"/>
<line x1="382.5" y1="103" x2="382.5" y2="104.4" stroke="#333" stroke-width="0.7"/>
<line x1="384.1" y1="103" x2="384.1" y2="104.4" stroke="#333" stroke-width="0.7"/>
<line x1="385.4" y1="103" x2="385.4" y2="104.4" stroke="#333" stroke-width="0.7"/>
<line x1="386.6" y1="103" x2="386.6" y2="104.4" stroke="#333" stroke-width="0.7"/>
<line x1="388.3" y1="103" x2="388.3" y2="105" stroke="#222" stroke-width="1"/>
<line x1="309.8" y1="49.9" x2="363.2" y2="49.9" stroke="#555" stroke-width="1"/>
<line x1="363.2" y1="49.9" x2="363.2" y2="103" stroke="#555" stroke-width="1"/>
<g transform="translate(406 20.5)"><path d="M33 3h1m7 0h1m-21 1h1m27 1h1m-10 1h1m24 0h1m-30 1h1m5 0h1m11 0h1m-1 1h1m3 0h1m-15 1h1m6 0h1m-22 1h1m-4 1h1m19 0h1m3 0h1m2 0h1m-11 1h1m4 0h2m1 0h1m1 0h1m-18 1h1m7 0h1m2 0h2m3 0h2m2 0h1m22 0h1m-52 1h1m1 0h1m5 0h1m1 0h1m6 0h3m2 0h1m7 0h1m-23 1h1m4 0h2m5 0h1m1 0h2m3 0h1m-18 1h2m1 0h1m2 0h1m3 0h2m2 0h2m-29 1h1m2 0h2m2 0h2m5 0h2m1 0h4m7 0h1m23 0h1m-61 1h1m4 0h1m14 0h2m3 0h2m9 0h1m-34 1h1m5 0h1m2 0h1m4 0h2m-20 1h1m12 0h2m5 0h1m2 0h2m10 0h1m2 0h1m-29 1h1m5 0h1m6 0h1m1 0h1m1 0h1m10 0h1m1 0h1m2 0h1m-32 1h1m2 0h1m1 0h1m1 0h1m3 0h2m13 0h2m1 0h1m-44 1h1m1 0h1m14 0h5m3 0h1m13 0h1m22 0h1m-75 1h2m10 0h1m8 0h1m3 0h2m1 0h1m3 0h1m2 0h2m13 0h1m2 0h1m6 0h1m3 0h1m-55 1h1m6 0h1m8 0h1m3 0h1m2 0h1m2 0h1m11 0h4m-35 1h1m6 0h1m3 0h3m1 0h1m2 0h2m4 0h1m5 0h1m-43 1h1m5 0h1m7 0h1m5 0h1m5 0h4m14 0h2m1 0h1m4 0h1m1 0h1m-56 1h1m12 0h3m2 0h3m4 0h1m16 0h1m2 0h2m-46 1h1m8 0h1m4 0h3m3 0h2m2 0h1m1 0h1m1 0h3m13 0h1m6 0h3m1 0h1m1 0h1m-61 1h1m15 0h2m1 0h1m2 0h1m1 0h1m3 0h1m4 0h1m5 0h1m5 0h1m3 0h1m1 0h1m4 0h1m17 0h1m-61 1h1m5 0h2m3 0h1m7 0h2m1 0h1m5 0h1m8 0h1m7 0h1m-62 1h1m10 0h2m1 0h2m2 0h2m3 0h1m5 0h1m2 0h2m1 0h1m2 0h1m4 0h1m9 0h1m3 0h1m1 0h1m7 0h1m9 0h1m-65 1h2m2 0h1m4 0h2m9 0h2m1 0h1m2 0h3m2 0h1m5 0h1m6 0h2m1 0h1m-60 1h1m1 0h1m5 0h1m1 0h1m2 0h1m1 0h2m2 0h2m2 0h1m3 0h3m2 0h1m1 0h3m1 0h2m4 0h1m2 0h1m10 0h2m6 0h1m-59 1h3m5 0h2m2 0h1m1 0h1m5 0h1m4 0h1m5 0h2m1 0h1m2 0h1m11 0h2m1 0h2m-57 1h1m2 0h1m6 0h1m3 0h1m1 0h1m2 0h1m3 0h4m2 0h1m1 0h1m4 0h1m15 0h1m3 0h2m-53 1h2m10 0h1m1 0h1m3 0h1m4 0h1m5 0h1m3 0h1m1 0h1m2 0h1m7 0h1m1 0h1m-61 1h2m2 0h2m6 0h1m4 0h2m1 0h1m3 0h3m5 0h1m1 0h1m5 0h1m1 0h1m3 0h1m1 0h1m4 0h2m1 0h2m6 0h1m11 0h1m-78 1h1m4 0h2m4 0h1m4 0h1m1 0h1m1 0h2m6 0h3m6 0h1m4 0h1m5 0h3m7 0h1m3 0h2m-60 1h1m4 0h1m1 0h1m5 0h2m5 0h1m1 0h1m1 0h2m3 0h1m1 0h3m7 0h1m2 0h1m7 0h1m2 0h2m1 0h1m2 0h1m-65 1h1m1 0h1m4 0h2m4 0h1m3 0h2m2 0h2m1 0h2m5 0h1m7 0h1m1 0h1m1 0h1m14 0h2m4 0h2m13 0h1m-81 1h1m5 0h2m1 0h1m4 0h2m1 0h1m2 0h1m4 0h1m3 0h1m1 0h1m1 0h2m3 0h1m1 0h1m2 0h1m2 0h1m9 0h1m1 0h1m3 0h1m1 0h2m-61 1h1m14 0h2m1 0h1m3 0h1m4 0h1m1 0h2m4 0h1m16 0h1m5 0h1m1 0h1m9 0h1m-71 1h1m3 0h1m2 0h1m2 0h2m1 0h2m7 0h4m1 0h1m2 0h1m2 0h1m5 0h1m13 0h1m5 0h3m-65 1h1m7 0h1m10 0h1m1 0h2m3 0h2m4 0h2m3 0h2m5 0h1m4 0h1m5 0h1m4 0h1m-62 1h1m4 0h1m2 0h1m2 0h1m4 0h1m6 0h1m1 0h2m4 0h2m6 0h1m2 0h1m13 0h2m7 0h1m-62 1h1m1 0h1m8 0h1m2 0h1m1 0h1m1 0h1m2 0h2m8 0h2m2 0h1m8 0h1m4 0h1m3 0h2m6 0h1m-66 1h1m6 0h1m2 0h1m3 0h4m1 0h1m1 0h2m2 0h1m3 0h1m1 0h1m1 0h1m2 0h2m1 0h1m24 0h2m-53 1h2m2 0h1m2 0h1m2 0h1m1 0h1m1 0h1m1 0h2m3 0h2m5 0h1m6 0h2m5 0h1m1 0h2m7 0h1m-57 1h4m1 0h2m5 0h1m1 0h1m2 0h1m1 0h1m1 0h1m2 0h1m9 0h1m12 0h2m-50 1h1m7 0h1m4 0h2m4 0h1m3 0h1m2 0h1m1 0h1m3 0h1m-33 1h2m2 0h2m1 0h1m2 0h1m2 0h1m3 0h3m1 0h1m5 0h2m1 0h1m1 0h1m24 0h1m-50 1h3m7 0h1m11 0h1m3 0h1m12 0h1m1 0h1m5 0h2m1 0h1m-67 1h1m3 0h2m2 0h1m1 0h1m8 0h1m1 0h1m3 0h3m3 0h1m4 0h1m2 0h1m2 0h1m13 0h1m2 0h1m-62 1h1m13 0h2m3 0h1m1 0h2m6 0h1m1 0h1m25 0h2m1 0h1m4 0h2m-68 1h1m8 0h1m1 0h1m13 0h3m2 0h1m2 0h1m2 0h2m2 0h1m4 0h1m10 0h1m2 0h2m3 0h1m1 0h1m-57 1h1m10 0h1m1 0h1m13 0h2m6 0h1m5 0h1m14 0h1m2 0h1m-62 1h1m6 0h1m3 0h1m1 0h1m6 0h1m30 0h1m5 0h1m5 0h1m-66 1h1m1 0h1m3 0h1m5 0h1m13 0h1m2 0h1m1 0h1m5 0h1m1 0h1m21 0h1m-66 1h1m5 0h1m11 0h1m5 0h1m1 0h1m10 0h1m5 0h1m12 0h1m-58 1h1m11 0h2m2 0h1m4 0h1m14 0h1m20 0h1m3 0h1m2 0h1m-57 1h1m4 0h1m2 0h1m16 0h1m7 0h1m15 0h1m4 0h1m2 0h1m-62 1h1m26 0h1m25 0h1m6 0h4m-63 1h1m2 0h2m16 0h2m36 0h1m8 0h1m-71 1h1m5 0h1m17 0h1m4 0h1m22 0h1m3 0h3m-46 1h1m10 0h1m14 0h1m-35 1h2m5 0h2m11 0h1m2 0h1m27 0h2m1 0h1m2 0h1m-64 1h1m12 0h1m4 0h1m22 0h1m4 0h1m8 0h1m7 0h1m1 0h1m-7 1h1m1 0h1m-4 1h1m2 0h2m-35 1h1m27 0h2m3 0h2m-4 1h1m2 0h1m-60 1h1m56 0h2m-3 1h1m14 0h1m-29 1h1m9 0h1m3 0h2m1 0h1m-61 1h1m53 0h2m-20 1h1m21 0h1m-35 1h1m27 0h1m2 0h1m3 0h2m-5 1h1m-2 1h1m3 0h1m-54 1h1m31 0h1" stroke="#a2a2a2" stroke-width="1"/><path d="M48 11h1m2 2h1m-16 1h1m6 0h1m-7 2h1m6 0h1m1 0h1m-12 1h1m22 0h1m-30 1h1m-1 1h1m24 1h1m-27 1h1m1 1h1m21 0h2m-29 1h1m12 0h1m2 0h1m11 0h1m-24 1h1m9 0h1m1 0h1m9 0h1m-30 1h1m6 0h1m7 0h1m1 0h1m-18 1h1m12 0h1m5 0h1m9 0h1m-26 1h1m2 0h1m2 0h1m8 0h1m-13 1h1m3 0h1m1 0h3m1 0h1m2 0h1m6 0h1m-25 1h1m8 0h1m8 0h1m-14 1h2m1 0h1m5 0h1m1 0h2m2 0h2m-26 1h1m11 0h2m6 0h3m3 0h2m-25 1h1m4 0h1m2 0h2m4 0h2m6 0h1m16 0h1m-43 1h1m1 0h1m3 0h1m1 0h1m1 0h2m1 0h1m4 0h2m4 0h1m15 0h1m-47 1h1m1 0h1m7 0h1m17 0h2m-23 1h1m3 0h2m1 0h1m2 0h1m1 0h1m5 0h2m23 0h1m-46 1h1m17 0h1m2 0h1m1 0h1m1 0h1m17 0h1m-34 1h1m1 0h1m2 0h1m2 0h2m1 0h1m16 0h1m1 0h1m-41 1h1m9 0h1m7 0h2m2 0h1m20 0h1m-50 1h2m1 0h1m5 0h1m3 0h1m4 0h1m12 0h1m15 0h1m-42 1h2m3 0h1m1 0h1m4 0h1m5 0h1m22 0h1m-35 1h1m2 0h1m3 0h1m1 0h2m3 0h1m21 0h1m-52 1h1m15 0h1m10 0h1m20 0h2m-48 1h1m2 0h1m1 0h1m2 0h1m2 0h1m4 0h1m5 0h1m1 0h1m3 0h1m16 0h1m1 0h2m1 0h1m-44 1h1m2 0h2m8 0h1m24 0h1m2 0h1m-45 1h1m1 0h1m-8 1h1m4 0h1m3 0h1m6 0h2m3 0h1m24 0h2m-53 1h1m1 0h1m6 0h1m4 0h1m6 0h3m1 0h1m30 0h1m-52 1h1m11 0h1m3 0h1m33 0h2m-49 1h1m3 0h1m1 0h1m6 0h1m35 0h1m-48 1h1m3 0h1m8 0h1m5 0h1m6 0h1m17 0h1m1 0h1m-45 1h3m3 0h2m2 0h2m26 0h1m7 0h1m-42 1h2m5 0h1m24 0h1m2 0h1m3 0h1m-50 1h1m10 0h2m1 0h1m4 0h1m-10 1h1m31 0h1m2 0h1m4 0h1m-49 1h1m7 0h1m38 0h1m-51 1h1m49 0h1m-54 1h1m21 0h1m23 0h1m2 0h3m3 0h1m-42 1h1m5 0h1m28 0h1m4 0h1m-47 1h1m6 0h1m34 0h2m1 0h1m-50 1h1m48 0h1m1 0h1m-9 1h1m1 0h1m1 0h2m2 0h1m-8 1h2m-44 1h1m24 0h1m17 0h1m2 0h1m-39 1h1m32 0h3m1 0h1m-1 1h1m-2 1h2m0 1h1m-5 1h1m3 0h1m-5 1h1m5 0h1m-5 1h1m-1 1h1m3 0h1m-7 3h1m4 0h1m-3 2h1m-2 2h1m-1 3h1" stroke="#666" stroke-width="1"/><path d="M50 14h1m-3 1h1m3 1h1m-8 2h1m11 0h1m-16 1h1m1 0h2m4 0h1m-6 1h1m-5 1h1m1 0h1m10 1h1m-13 1h1m-7 1h1m4 0h1m2 0h1m-4 1h2m-9 1h1m6 0h1m11 0h1m-29 1h1m19 0h1m-11 1h1m6 0h1m2 0h1m5 0h1m-22 1h2m1 0h1m8 0h1m4 0h3m-20 1h1m6 0h1m1 0h1m1 0h1m21 0h1m-40 1h1m4 0h1m2 0h1m3 0h2m2 0h1m5 0h1m-24 1h1m3 0h3m7 0h1m11 0h1m-23 1h1m1 0h1m1 0h1m13 0h1m-18 1h2m4 0h1m6 0h1m-13 1h1m4 0h1m1 0h1m2 0h1m-4 1h2m-4 1h1m3 0h1m25 0h1m-36 1h2m1 0h1m4 0h1m-3 1h1m1 0h1m23 0h1m-31 1h1m8 0h1m23 0h1m-43 1h1m7 0h1m31 0h2m-37 1h1m9 0h1m22 0h1m3 0h1m-48 1h1m7 0h1m1 0h1m2 0h1m1 0h1m1 0h1m9 0h1m16 1h2m1 0h1m-45 1h1m2 0h1m7 0h1m2 0h1m24 0h1m1 0h1m3 0h1m-27 1h1m24 1h1m-36 1h1m5 1h1m29 0h1m-46 1h1m44 1h1m-31 1h1m24 0h1m5 0h1m-8 1h1m4 0h2m-50 1h1m26 0h1m14 2h1m2 0h1m-2 1h1m3 0h1m-41 2h1m35 0h1m1 1h1m-3 1h1m1 2h2m-4 3h1m1 1h1m2 1h1m-3 1h1m-3 3h1m1 0h1" stroke="#3c3c3c" stroke-width="1"/><path d="M52 13h1m0 1h1m-4 1h1m2 0h2m-8 1h1m3 0h1m-5 1h7m-8 1h8m-8 1h4m1 0h3m-8 1h6m1 0h1m-9 1h9m-11 1h9m-15 1h1m5 0h10m-10 1h1m1 0h7m-17 1h1m7 0h8m-8 1h1m1 0h5m-10 1h2m2 0h1m1 0h5m-10 1h1m2 0h1m1 0h3m-9 1h1m2 0h1m1 0h2m-2 1h1m2 0h1m-18 1h1m13 0h1m-22 1h1m6 0h1m12 0h1m-7 1h1m-9 1h1m4 0h1m-5 1h1m-2 1h2m3 1h1m2 1h1m22 0h2m-37 1h2m4 0h1m1 0h1m-1 2h1m-11 1h1m6 0h1m-3 1h1m31 0h1m-28 1h1m25 1h1m1 0h1m-39 1h1m37 0h4m-33 1h1m27 0h3m2 0h1m-35 1h1m27 0h4m-3 1h4m-4 1h2m1 0h1m-4 1h4m-31 1h1m27 0h3m-4 1h3m-1 1h3m-6 1h1m1 0h3m-3 1h2m-2 2h3m-1 1h1m-5 1h2m1 0h2m-1 2h1m-1 3h1m-2 5h1m-1 1h1" stroke="#1e1e1e" stroke-width="1"/></g>
<rect x="405.8" y="20.5" width="82" height="82.5" fill="none" stroke="#b5b5b5" stroke-width="1.1"/>
<line x1="404.3" y1="103" x2="487.8" y2="103" stroke="#2a2a2a" stroke-width="1.15"/>
<line x1="404.2" y1="28.8" x2="405.8" y2="28.8" stroke="#333" stroke-width="0.9"/>
<line x1="404.9" y1="34.8" x2="405.8" y2="34.8" stroke="#555" stroke-width="0.7"/>
<line x1="404.9" y1="39.3" x2="405.8" y2="39.3" stroke="#555" stroke-width="0.7"/>
<line x1="404.9" y1="42.3" x2="405.8" y2="42.3" stroke="#555" stroke-width="0.7"/>
<line x1="404.2" y1="47.6" x2="405.8" y2="47.6" stroke="#333" stroke-width="0.9"/>
<line x1="404.9" y1="53.6" x2="405.8" y2="53.6" stroke="#555" stroke-width="0.7"/>
<line x1="404.9" y1="58.1" x2="405.8" y2="58.1" stroke="#555" stroke-width="0.7"/>
<line x1="404.9" y1="61.1" x2="405.8" y2="61.1" stroke="#555" stroke-width="0.7"/>
<line x1="404.2" y1="66.4" x2="405.8" y2="66.4" stroke="#333" stroke-width="0.9"/>
<line x1="404.9" y1="72.4" x2="405.8" y2="72.4" stroke="#555" stroke-width="0.7"/>
<line x1="404.9" y1="76.9" x2="405.8" y2="76.9" stroke="#555" stroke-width="0.7"/>
<line x1="404.9" y1="79.9" x2="405.8" y2="79.9" stroke="#555" stroke-width="0.7"/>
<line x1="404.2" y1="85.2" x2="405.8" y2="85.2" stroke="#333" stroke-width="0.9"/>
<line x1="404.9" y1="91.2" x2="405.8" y2="91.2" stroke="#555" stroke-width="0.7"/>
<line x1="404.9" y1="95.7" x2="405.8" y2="95.7" stroke="#555" stroke-width="0.7"/>
<line x1="404.9" y1="98.7" x2="405.8" y2="98.7" stroke="#555" stroke-width="0.7"/>
<line x1="406.3" y1="103" x2="406.3" y2="105" stroke="#222" stroke-width="1"/>
<line x1="412.2" y1="103" x2="412.2" y2="104.4" stroke="#333" stroke-width="0.7"/>
<line x1="415.7" y1="103" x2="415.7" y2="104.4" stroke="#333" stroke-width="0.7"/>
<line x1="418.1" y1="103" x2="418.1" y2="104.4" stroke="#333" stroke-width="0.7"/>
<line x1="420" y1="103" x2="420" y2="104.4" stroke="#333" stroke-width="0.7"/>
<line x1="421.6" y1="103" x2="421.6" y2="104.4" stroke="#333" stroke-width="0.7"/>
<line x1="422.9" y1="103" x2="422.9" y2="104.4" stroke="#333" stroke-width="0.7"/>
<line x1="424.1" y1="103" x2="424.1" y2="104.4" stroke="#333" stroke-width="0.7"/>
<line x1="425.8" y1="103" x2="425.8" y2="105" stroke="#222" stroke-width="1"/>
<line x1="431.7" y1="103" x2="431.7" y2="104.4" stroke="#333" stroke-width="0.7"/>
<line x1="435.2" y1="103" x2="435.2" y2="104.4" stroke="#333" stroke-width="0.7"/>
<line x1="437.6" y1="103" x2="437.6" y2="104.4" stroke="#333" stroke-width="0.7"/>
<line x1="439.5" y1="103" x2="439.5" y2="104.4" stroke="#333" stroke-width="0.7"/>
<line x1="441.1" y1="103" x2="441.1" y2="104.4" stroke="#333" stroke-width="0.7"/>
<line x1="442.4" y1="103" x2="442.4" y2="104.4" stroke="#333" stroke-width="0.7"/>
<line x1="443.6" y1="103" x2="443.6" y2="104.4" stroke="#333" stroke-width="0.7"/>
<line x1="445.3" y1="103" x2="445.3" y2="105" stroke="#222" stroke-width="1"/>
<line x1="451.2" y1="103" x2="451.2" y2="104.4" stroke="#333" stroke-width="0.7"/>
<line x1="454.7" y1="103" x2="454.7" y2="104.4" stroke="#333" stroke-width="0.7"/>
<line x1="457.1" y1="103" x2="457.1" y2="104.4" stroke="#333" stroke-width="0.7"/>
<line x1="459" y1="103" x2="459" y2="104.4" stroke="#333" stroke-width="0.7"/>
<line x1="460.6" y1="103" x2="460.6" y2="104.4" stroke="#333" stroke-width="0.7"/>
<line x1="461.9" y1="103" x2="461.9" y2="104.4" stroke="#333" stroke-width="0.7"/>
<line x1="463.1" y1="103" x2="463.1" y2="104.4" stroke="#333" stroke-width="0.7"/>
<line x1="464.8" y1="103" x2="464.8" y2="105" stroke="#222" stroke-width="1"/>
<line x1="470.7" y1="103" x2="470.7" y2="104.4" stroke="#333" stroke-width="0.7"/>
<line x1="474.2" y1="103" x2="474.2" y2="104.4" stroke="#333" stroke-width="0.7"/>
<line x1="476.6" y1="103" x2="476.6" y2="104.4" stroke="#333" stroke-width="0.7"/>
<line x1="478.5" y1="103" x2="478.5" y2="104.4" stroke="#333" stroke-width="0.7"/>
<line x1="480.1" y1="103" x2="480.1" y2="104.4" stroke="#333" stroke-width="0.7"/>
<line x1="481.4" y1="103" x2="481.4" y2="104.4" stroke="#333" stroke-width="0.7"/>
<line x1="482.6" y1="103" x2="482.6" y2="104.4" stroke="#333" stroke-width="0.7"/>
<line x1="484.3" y1="103" x2="484.3" y2="105" stroke="#222" stroke-width="1"/>
<rect x="446.2" y="22.6" width="27.2" height="30" fill="none" stroke="#555" stroke-width="1"/>
<text x="442.3" y="86.2" font-size="8.2" text-anchor="middle" textLength="24.5" lengthAdjust="spacingAndGlyphs">Inverted</text>
<text x="442.3" y="95" font-size="8.2" text-anchor="middle" textLength="13" lengthAdjust="spacingAndGlyphs">gate</text>
<g transform="translate(214 119.5)"><path d="M65 2h1m-21 1h1m20 0h1m4 0h1m7 0h1m-12 1h1m5 0h1m3 0h1m-8 1h3m-20 1h1m10 0h1m5 0h1m2 0h1m-6 1h1m1 0h1m3 0h1m1 0h2m-12 1h1m4 0h1m6 0h1m-19 1h1m7 0h1m4 0h2m2 0h1m-15 1h1m5 0h2m1 0h1m1 0h3m-19 1h1m3 0h1m4 0h2m-4 1h1m1 0h2m1 0h1m4 0h1m2 0h1m-27 1h1m1 0h1m6 0h1m3 0h2m5 0h1m-16 1h2m1 0h1m3 0h2m3 0h2m1 0h2m2 0h1m-73 1h1m45 0h2m2 0h1m1 0h1m2 0h1m1 0h1m9 0h2m-19 1h1m10 0h2m1 0h1m-19 1h1m1 0h1m4 0h1m1 0h1m7 0h1m2 0h1m3 0h2m-43 1h1m17 0h1m4 0h1m11 0h1m1 0h1m2 0h1m-25 1h1m1 0h1m10 0h1m2 0h1m1 0h1m1 0h1m-24 1h1m5 0h3m13 0h1m1 0h1m2 0h1m-25 1h3m1 0h1m5 0h1m5 0h1m1 0h1m2 0h1m-29 1h1m2 0h1m1 0h1m3 0h1m10 0h3m2 0h1m-28 1h1m7 0h1m1 0h1m1 0h1m6 0h1m3 0h3m-22 1h1m1 0h1m5 0h1m1 0h1m1 0h1m1 0h1m1 0h1m3 0h1m3 0h2m-27 1h1m6 0h1m1 0h1m1 0h1m1 0h1m2 0h2m1 0h2m6 0h1m-70 1h1m42 0h1m5 0h2m1 0h2m5 0h1m5 0h1m-24 1h2m2 0h2m2 0h2m2 0h1m1 0h2m4 0h1m-16 1h1m7 0h3m-19 1h1m2 0h1m2 0h1m3 0h1m1 0h4m1 0h1m4 0h1m-20 1h1m4 0h4m3 0h1m-55 1h1m36 0h1m1 0h1m6 0h1m6 0h2m1 0h1m-40 1h1m36 0h1m-19 1h1m7 0h1m4 0h1m1 0h1m-41 1h1m10 0h1m6 0h1m5 0h1m4 0h1m2 0h1m2 0h1m-4 1h1m2 0h1m24 0h1m-54 1h1m15 0h1m2 0h1m11 0h1m-37 1h1m24 0h1m2 0h1m1 0h1m5 0h1m-32 1h1m12 1h1m-22 1h1m8 0h1m-1 1h1m-1 1h1m-7 1h1m2 0h1m8 0h2m1 0h1m5 0h1m-19 1h1m5 0h1m1 0h1m-6 2h2m3 0h1m2 0h1m2 0h2m-15 1h1m15 0h1m1 0h1m-20 1h1m5 0h1m9 0h1m2 0h1m-17 1h1m3 0h1m2 0h1m-10 1h1m7 0h1m4 0h1m3 0h1m-16 1h1m1 0h1m3 0h1m-23 1h1m13 0h1m2 0h2m11 0h1m9 0h1m-38 1h1m10 0h1m1 0h1m2 0h1m4 0h1m-16 1h1m17 0h1m-3 1h1m5 0h1m-31 1h1m25 0h1m20 0h1m25 0h1m-68 1h1m10 0h2m5 0h1m2 0h1m-24 1h1m6 0h2m13 0h1m6 0h1m-18 1h1m17 0h1m-12 1h2m15 0h1m-24 1h1m2 0h1m2 0h1m32 0h1m-41 1h1m5 0h1m1 0h1m2 0h1m3 0h1m32 0h1m-50 1h2m-21 1h1m9 0h1m1 0h1m-6 1h1m2 0h1m12 0h1m13 0h1m-22 1h1m16 0h1m-13 1h1m1 0h1m1 0h1m1 0h1m8 0h1m21 0h1m-39 1h1m3 0h1m3 0h1m-7 1h1m2 0h1m1 0h1m5 0h1m1 0h1m-1 1h1m-15 1h1m2 2h1m-11 2h1m13 0h1m21 0h1m15 0h1m-57 2h1m12 3h1m31 0h1" stroke="#a2a2a2" stroke-width="1"/><path d="M66 9h1m0 1h1m11 0h1m-7 1h2m-12 1h1m3 0h1m4 0h1m-15 1h1m2 0h1m1 0h1m-2 1h1m4 0h1m1 0h1m2 0h1m-14 1h1m1 0h1m1 0h3m2 0h2m7 0h1m-22 1h3m9 0h1m1 0h2m-16 1h1m8 0h3m1 0h1m-8 1h1m2 0h2m3 0h1m1 0h1m2 0h1m-12 1h1m4 0h1m-6 1h1m1 0h1m3 0h1m-15 1h2m5 0h3m-13 1h1m3 0h1m3 0h2m-15 1h1m3 0h1m10 0h1m-16 1h1m1 0h1m5 0h1m3 0h1m3 0h1m2 0h1m-19 1h1m2 0h1m1 0h1m1 0h1m1 0h1m3 0h1m-15 1h1m1 1h2m2 0h1m2 0h1m2 0h1m-17 1h1m2 0h1m2 0h1m2 0h1m6 0h1m-13 1h2m10 0h1m-4 1h1m-7 2h1m1 0h1m-40 15h1m16 2h1m-14 4h1m9 4h1" stroke="#666" stroke-width="1"/><path d="M62 12h1m7 0h1m-7 1h1m4 0h1m-7 1h1m2 1h1m-7 1h1m1 0h1m-6 1h1m4 0h1m1 0h1m-7 1h2m1 0h1m1 0h1m4 0h1m-14 1h2m8 0h1m2 1h1m-2 1h1m-8 1h1m5 0h1m-11 1h1m5 0h1m5 0h1m-15 1h1m3 0h1m-9 1h1m-2 1h1m6 0h1m2 0h1m-15 3h1m8 2h1m-34 30h1" stroke="#3c3c3c" stroke-width="1"/><path d="M70 13h1m0 2h1m-11 1h1m1 0h1m1 0h1m-5 1h1m1 0h1m6 0h1m-16 1h2m3 0h1m3 0h1m-8 1h6m4 0h1m-12 1h8m-11 1h1m1 0h1m2 0h2m1 0h2m-8 1h2m1 0h2m-6 1h2m1 0h3m1 0h1m-10 1h1m6 1h1m-13 1h1m2 0h1m6 0h2m-4 1h1m1 2h1" stroke="#1e1e1e" stroke-width="1"/></g>
<rect x="214" y="118.6" width="82" height="82.5" fill="none" stroke="#b5b5b5" stroke-width="1.1"/>
<line x1="212.5" y1="201.1" x2="296" y2="201.1" stroke="#2a2a2a" stroke-width="1.15"/>
<line x1="212.4" y1="126.9" x2="214" y2="126.9" stroke="#333" stroke-width="0.9"/>
<line x1="213.1" y1="132.9" x2="214" y2="132.9" stroke="#555" stroke-width="0.7"/>
<line x1="213.1" y1="137.4" x2="214" y2="137.4" stroke="#555" stroke-width="0.7"/>
<line x1="213.1" y1="140.4" x2="214" y2="140.4" stroke="#555" stroke-width="0.7"/>
<line x1="212.4" y1="145.7" x2="214" y2="145.7" stroke="#333" stroke-width="0.9"/>
<line x1="213.1" y1="151.7" x2="214" y2="151.7" stroke="#555" stroke-width="0.7"/>
<line x1="213.1" y1="156.2" x2="214" y2="156.2" stroke="#555" stroke-width="0.7"/>
<line x1="213.1" y1="159.2" x2="214" y2="159.2" stroke="#555" stroke-width="0.7"/>
<line x1="212.4" y1="164.5" x2="214" y2="164.5" stroke="#333" stroke-width="0.9"/>
<line x1="213.1" y1="170.5" x2="214" y2="170.5" stroke="#555" stroke-width="0.7"/>
<line x1="213.1" y1="175" x2="214" y2="175" stroke="#555" stroke-width="0.7"/>
<line x1="213.1" y1="178" x2="214" y2="178" stroke="#555" stroke-width="0.7"/>
<line x1="212.4" y1="183.3" x2="214" y2="183.3" stroke="#333" stroke-width="0.9"/>
<line x1="213.1" y1="189.3" x2="214" y2="189.3" stroke="#555" stroke-width="0.7"/>
<line x1="213.1" y1="193.8" x2="214" y2="193.8" stroke="#555" stroke-width="0.7"/>
<line x1="213.1" y1="196.8" x2="214" y2="196.8" stroke="#555" stroke-width="0.7"/>
<line x1="214.5" y1="201.1" x2="214.5" y2="203.1" stroke="#222" stroke-width="1"/>
<line x1="220.4" y1="201.1" x2="220.4" y2="202.5" stroke="#333" stroke-width="0.7"/>
<line x1="223.9" y1="201.1" x2="223.9" y2="202.5" stroke="#333" stroke-width="0.7"/>
<line x1="226.3" y1="201.1" x2="226.3" y2="202.5" stroke="#333" stroke-width="0.7"/>
<line x1="228.2" y1="201.1" x2="228.2" y2="202.5" stroke="#333" stroke-width="0.7"/>
<line x1="229.8" y1="201.1" x2="229.8" y2="202.5" stroke="#333" stroke-width="0.7"/>
<line x1="231.1" y1="201.1" x2="231.1" y2="202.5" stroke="#333" stroke-width="0.7"/>
<line x1="232.3" y1="201.1" x2="232.3" y2="202.5" stroke="#333" stroke-width="0.7"/>
<line x1="234" y1="201.1" x2="234" y2="203.1" stroke="#222" stroke-width="1"/>
<line x1="239.9" y1="201.1" x2="239.9" y2="202.5" stroke="#333" stroke-width="0.7"/>
<line x1="243.4" y1="201.1" x2="243.4" y2="202.5" stroke="#333" stroke-width="0.7"/>
<line x1="245.8" y1="201.1" x2="245.8" y2="202.5" stroke="#333" stroke-width="0.7"/>
<line x1="247.7" y1="201.1" x2="247.7" y2="202.5" stroke="#333" stroke-width="0.7"/>
<line x1="249.3" y1="201.1" x2="249.3" y2="202.5" stroke="#333" stroke-width="0.7"/>
<line x1="250.6" y1="201.1" x2="250.6" y2="202.5" stroke="#333" stroke-width="0.7"/>
<line x1="251.8" y1="201.1" x2="251.8" y2="202.5" stroke="#333" stroke-width="0.7"/>
<line x1="253.5" y1="201.1" x2="253.5" y2="203.1" stroke="#222" stroke-width="1"/>
<line x1="259.4" y1="201.1" x2="259.4" y2="202.5" stroke="#333" stroke-width="0.7"/>
<line x1="262.9" y1="201.1" x2="262.9" y2="202.5" stroke="#333" stroke-width="0.7"/>
<line x1="265.3" y1="201.1" x2="265.3" y2="202.5" stroke="#333" stroke-width="0.7"/>
<line x1="267.2" y1="201.1" x2="267.2" y2="202.5" stroke="#333" stroke-width="0.7"/>
<line x1="268.8" y1="201.1" x2="268.8" y2="202.5" stroke="#333" stroke-width="0.7"/>
<line x1="270.1" y1="201.1" x2="270.1" y2="202.5" stroke="#333" stroke-width="0.7"/>
<line x1="271.3" y1="201.1" x2="271.3" y2="202.5" stroke="#333" stroke-width="0.7"/>
<line x1="273" y1="201.1" x2="273" y2="203.1" stroke="#222" stroke-width="1"/>
<line x1="278.9" y1="201.1" x2="278.9" y2="202.5" stroke="#333" stroke-width="0.7"/>
<line x1="282.4" y1="201.1" x2="282.4" y2="202.5" stroke="#333" stroke-width="0.7"/>
<line x1="284.8" y1="201.1" x2="284.8" y2="202.5" stroke="#333" stroke-width="0.7"/>
<line x1="286.7" y1="201.1" x2="286.7" y2="202.5" stroke="#333" stroke-width="0.7"/>
<line x1="288.3" y1="201.1" x2="288.3" y2="202.5" stroke="#333" stroke-width="0.7"/>
<line x1="289.6" y1="201.1" x2="289.6" y2="202.5" stroke="#333" stroke-width="0.7"/>
<line x1="290.8" y1="201.1" x2="290.8" y2="202.5" stroke="#333" stroke-width="0.7"/>
<line x1="292.5" y1="201.1" x2="292.5" y2="203.1" stroke="#222" stroke-width="1"/>
<ellipse cx="274.3" cy="139.6" rx="20.5" ry="10.2" transform="rotate(-42 274.3 139.6)" fill="none" stroke="#333" stroke-width="1.0"/>
<text x="221.4" y="148.2" font-size="8.2" textLength="24.5" lengthAdjust="spacingAndGlyphs">Inverted</text>
<text x="221.4" y="156.8" font-size="8.2" textLength="30.3" lengthAdjust="spacingAndGlyphs">RPM gate</text>
<g transform="translate(310 119.5)"><path d="M6 1h1m20 0h1m15 3h1m18 0h1m-34 1h1m1 0h1m-28 2h1m57 0h1m-31 1h1m26 1h1m-27 1h1m19 0h1m1 0h2m2 0h1m1 0h1m1 0h1m-44 1h1m28 0h1m1 0h1m3 0h2m2 0h2m2 0h1m1 0h1m5 0h1m-61 1h1m16 0h1m21 0h4m13 0h1m2 0h1m-66 1h1m40 0h1m2 0h2m4 0h1m11 0h2m-56 1h1m8 0h1m15 0h1m11 0h2m15 0h1m4 0h2m-29 1h1m4 0h1m16 0h1m3 0h1m1 0h1m3 0h1m-62 1h1m1 0h1m1 0h1m14 0h1m1 0h1m7 0h1m24 0h1m4 0h1m1 0h1m-77 1h1m14 0h1m12 0h2m7 0h1m5 0h1m3 0h1m24 0h1m2 0h1m3 0h1m-67 1h1m12 0h1m15 0h1m3 0h1m25 0h1m-69 1h1m7 0h1m9 0h1m6 0h1m1 0h1m12 0h2m1 0h1m17 0h1m3 0h1m2 0h2m1 0h1m-52 1h1m2 0h1m17 0h2m20 0h2m-69 1h1m16 0h1m1 0h1m8 0h1m11 0h1m9 0h1m1 0h1m13 0h1m1 0h1m-57 1h2m10 0h1m1 0h1m5 0h1m18 0h2m2 0h1m9 0h2m2 0h1m-69 1h1m13 0h1m39 0h1m4 0h1m2 0h2m2 0h1m-58 1h1m14 0h1m14 0h1m10 0h1m1 0h1m2 0h1m1 0h1m2 0h3m-50 1h2m3 0h1m1 0h1m5 0h1m3 0h1m2 0h1m12 0h1m6 0h1m1 0h2m4 0h1m1 0h3m-67 1h1m17 0h1m4 0h1m29 0h2m2 0h1m4 0h1m-61 1h3m11 0h1m8 0h2m26 0h2m1 0h1m3 0h1m1 0h2m-51 1h1m47 0h3m1 0h1m-54 1h1m4 0h1m18 0h1m15 0h2m3 0h1m2 0h1m2 0h3m-56 1h1m11 0h1m29 0h1m1 0h1m1 0h2m4 0h1m-50 1h1m7 0h1m12 0h1m18 0h2m8 0h1m7 0h1m-57 1h1m1 0h1m2 0h1m10 0h1m12 0h1m9 0h2m5 0h1m3 0h2m-57 1h1m17 0h1m2 0h1m11 0h1m7 0h1m3 0h1m8 0h1m3 0h1m4 0h1m4 0h1m-63 1h1m8 0h1m8 0h1m7 0h1m9 0h1m2 0h3m2 0h1m1 0h1m-43 1h1m2 0h2m2 0h1m3 0h1m5 0h1m17 0h1m6 0h2m-31 1h2m4 0h1m13 0h1m8 0h1m4 0h2m-50 1h1m2 0h1m3 0h2m1 0h1m2 0h2m9 0h2m8 0h1m3 0h1m5 0h1m-51 1h1m5 0h1m7 0h1m3 0h1m1 0h1m1 0h2m2 0h1m1 0h1m8 0h1m2 0h2m3 0h1m17 0h1m-58 1h1m2 0h1m8 0h5m3 0h1m10 0h1m1 0h1m2 0h1m3 0h1m1 0h3m2 0h1m-60 1h1m12 0h1m3 0h1m1 0h3m8 0h3m17 0h1m3 0h1m1 0h1m1 0h1m-42 1h1m1 0h1m5 0h1m4 0h1m7 0h1m6 0h1m1 0h1m11 0h1m-65 1h1m2 0h1m13 0h1m8 0h1m6 0h2m1 0h2m13 0h1m5 0h2m4 0h1m-47 1h1m2 0h2m4 0h1m1 0h2m4 0h2m1 0h1m1 0h1m10 0h1m7 0h1m1 0h2m-44 1h2m2 0h1m1 0h1m5 0h3m2 0h1m2 0h1m11 0h1m1 0h2m6 0h1m1 0h1m-54 1h1m8 0h1m3 0h1m1 0h2m8 0h1m17 0h1m1 0h1m1 0h1m1 0h1m3 0h1m1 0h1m-48 1h1m1 0h3m4 0h1m2 0h3m2 0h4m1 0h1m3 0h1m9 0h2m1 0h1m3 0h1m2 0h1m-48 1h1m4 0h1m1 0h1m1 0h4m7 0h1m2 0h1m10 0h1m2 0h1m6 0h1m1 0h2m-51 1h3m1 0h2m1 0h1m2 0h2m1 0h1m3 0h2m6 0h2m11 0h3m5 0h1m2 0h1m-46 1h2m3 0h1m3 0h1m1 0h1m1 0h1m2 0h1m4 0h1m16 0h1m1 0h2m2 0h1m1 0h1m-46 1h2m1 0h1m1 0h1m3 0h3m1 0h1m7 0h1m6 0h1m8 0h1m1 0h1m3 0h2m-53 1h1m6 0h1m2 0h1m4 0h3m2 0h1m4 0h2m1 0h2m3 0h1m12 0h2m2 0h1m-42 1h1m1 0h2m5 0h3m1 0h2m3 0h1m2 0h1m9 0h3m2 0h1m4 0h1m1 0h1m-45 1h1m2 0h1m6 0h1m3 0h1m1 0h1m1 0h2m1 0h1m1 0h1m1 0h1m7 0h3m2 0h1m9 0h1m-44 1h2m2 0h3m3 0h2m4 0h1m2 0h1m12 0h1m1 0h1m1 0h1m-56 1h1m10 0h1m11 0h2m1 0h2m1 0h1m1 0h3m11 0h1m7 0h1m2 0h1m-45 1h1m8 0h2m1 0h1m3 0h1m4 0h1m1 0h4m1 0h1m1 0h1m3 0h1m1 0h2m1 0h1m1 0h1m3 0h1m1 0h1m-41 1h1m3 0h3m1 0h1m2 0h1m6 0h1m11 0h1m4 0h3m-44 1h1m3 0h1m5 0h1m3 0h2m1 0h3m12 0h1m1 0h1m7 0h1m-40 1h1m1 0h1m7 0h2m18 0h4m3 0h1m1 0h2m16 0h1m-59 1h1m1 0h1m1 0h1m3 0h1m5 0h1m1 0h1m19 0h4m1 0h1m-38 1h1m4 0h1m2 0h1m1 0h1m18 0h2m3 0h2m1 0h1m1 0h1m-38 1h2m2 0h2m1 0h1m4 0h1m2 0h1m9 0h1m2 0h1m1 0h1m2 0h3m3 0h1m-36 1h1m23 0h1m1 0h2m2 0h2m1 0h1m1 0h1m-38 1h1m22 0h1m4 0h1m-2 1h2m3 0h1m1 0h1m1 0h1m-9 1h2m2 0h2m2 0h1m-45 1h1m15 0h1m20 0h1m1 1h1m11 0h1m-22 1h1m3 0h1m1 0h1m1 0h1m-15 1h1m4 0h1m3 0h1m1 0h1m4 0h1m-12 1h1m6 0h1m1 0h2m4 0h1m-8 1h1m6 1h1m-39 1h1m30 0h1m-5 1h1m-53 1h1m61 1h1m-6 1h1m1 0h1" stroke="#a2a2a2" stroke-width="1"/><path d="M60 6h1m-4 5h1m3 0h2m-9 1h1m1 0h1m4 0h1m2 0h2m-18 1h1m3 0h3m13 1h3m-2 1h2m-2 2h1m2 0h1m-24 1h1m19 0h1m1 0h1m-28 1h1m4 0h2m21 0h1m-22 1h2m14 0h1m-2 1h1m-12 1h1m1 0h2m3 0h1m5 0h1m-10 1h1m-4 1h1m1 0h1m2 0h1m8 0h1m-12 1h1m1 0h1m-44 1h1m34 0h1m3 0h1m1 0h1m2 0h1m3 1h1m-12 1h1m2 0h1m0 2h1m4 0h1m-3 1h2m-7 1h1m5 0h1m0 1h1m1 0h2m-8 1h1m1 0h1m-5 1h1m-26 1h1m21 0h2m1 0h1m-3 1h2m3 0h2m-36 1h1m11 0h1m23 0h3m-36 1h1m24 0h1m1 0h1m1 0h1m1 0h1m-31 1h1m2 0h1m22 0h1m1 0h1m1 0h1m-39 1h1m6 0h1m27 0h1m1 0h2m-31 1h1m2 0h1m3 0h1m14 0h1m4 0h1m3 0h4m-41 1h1m7 0h1m10 0h1m7 0h1m1 0h2m1 0h1m4 0h1m2 0h1m-43 1h1m13 0h1m16 0h1m2 0h1m-39 1h1m14 0h1m3 0h3m1 0h1m15 0h1m1 0h1m1 0h1m-37 1h3m1 0h2m26 0h1m1 0h1m4 0h1m-41 1h1m1 0h1m4 0h1m2 0h1m4 0h1m14 0h1m4 0h1m1 0h1m-38 1h1m2 0h1m2 0h1m6 0h1m18 0h3m1 0h1m1 0h1m-45 1h1m2 0h1m7 0h1m1 0h1m18 0h1m4 0h1m2 0h1m3 0h1m-31 1h1m1 0h2m1 0h1m1 0h1m2 0h1m12 0h1m4 0h1m-36 1h1m5 0h1m1 0h1m26 0h1m-36 1h2m1 0h1m7 0h1m3 0h1m14 0h1m2 0h1m-42 1h1m6 0h1m2 0h1m28 0h2m5 0h1m-44 1h1m3 0h1m3 0h1m9 0h1m19 0h1m1 0h1m1 0h2m-33 1h1m2 0h1m7 0h1m12 0h1m-32 1h1m4 0h1m2 0h1m4 0h1m22 0h1m1 0h1m-7 1h1m2 0h1m6 0h1m-39 1h1m29 0h1m1 0h1m-27 1h1m-4 2h1m29 0h1m-8 4h1m5 1h1m2 0h1" stroke="#666" stroke-width="1"/><path d="M57 12h1m-6 2h2m11 0h2m-19 1h1m3 0h1m15 0h1m-1 1h1m4 0h1m-4 1h1m-1 1h1m1 0h1m-6 1h3m-17 1h1m10 0h1m-10 1h3m3 0h1m1 0h1m1 0h1m-6 1h1m8 0h1m-10 2h1m4 0h1m-4 1h1m-3 1h1m-5 1h1m2 0h1m2 0h1m-7 2h2m2 0h1m-1 1h3m-5 2h3m-4 1h1m1 0h1m1 0h2m-8 1h1m3 0h1m-1 1h1m1 0h1m-5 1h1m3 0h2m-3 1h1m-5 1h3m2 0h2m-5 1h1m6 0h1m-10 2h2m4 0h1m-31 1h2m-4 1h1m4 0h1m3 0h1m18 1h1m-30 1h1m2 0h2m1 0h1m20 0h1m4 1h2m-6 1h1m1 0h1m4 1h1m-37 1h1m5 0h1m5 0h1m-14 1h3m25 0h1m3 0h1m2 0h1m-27 1h1m21 0h1m3 0h1m-42 1h1m8 0h1m3 0h1m27 0h1m-36 1h1m2 0h1m3 0h1m27 0h1m-35 1h1m28 1h1m1 2h1m1 7h1" stroke="#3c3c3c" stroke-width="1"/><path d="M55 12h1m3 0h1m2 0h1m-7 1h11m2 0h1m-16 1h11m-14 1h1m1 0h14m-18 1h19m1 0h1m-21 1h20m-19 1h19m-18 1h15m5 0h1m-18 1h10m1 0h2m-13 1h1m3 0h3m1 0h1m1 0h1m-6 1h1m1 0h1m1 0h1m1 0h1m-6 3h1m0 1h1m-4 1h1m1 0h1m-5 1h2m2 0h2m-3 1h1m2 0h1m-6 2h1m1 0h3m-1 1h1m-4 1h1m1 0h1m-4 2h1m4 0h1m-4 1h2m-2 1h1m0 1h1m-6 2h1m4 0h1m2 0h1m-5 1h1m-4 1h1m-23 1h1m21 0h1m1 0h3m-2 1h4m0 1h1m-30 2h1m26 0h1m-30 1h1m3 0h2m19 2h1m2 3h1" stroke="#1e1e1e" stroke-width="1"/></g>
<rect x="309.8" y="118.6" width="82" height="82.5" fill="none" stroke="#b5b5b5" stroke-width="1.1"/>
<line x1="308.3" y1="201.1" x2="391.8" y2="201.1" stroke="#2a2a2a" stroke-width="1.15"/>
<line x1="308.2" y1="126.9" x2="309.8" y2="126.9" stroke="#333" stroke-width="0.9"/>
<line x1="308.9" y1="132.9" x2="309.8" y2="132.9" stroke="#555" stroke-width="0.7"/>
<line x1="308.9" y1="137.4" x2="309.8" y2="137.4" stroke="#555" stroke-width="0.7"/>
<line x1="308.9" y1="140.4" x2="309.8" y2="140.4" stroke="#555" stroke-width="0.7"/>
<line x1="308.2" y1="145.7" x2="309.8" y2="145.7" stroke="#333" stroke-width="0.9"/>
<line x1="308.9" y1="151.7" x2="309.8" y2="151.7" stroke="#555" stroke-width="0.7"/>
<line x1="308.9" y1="156.2" x2="309.8" y2="156.2" stroke="#555" stroke-width="0.7"/>
<line x1="308.9" y1="159.2" x2="309.8" y2="159.2" stroke="#555" stroke-width="0.7"/>
<line x1="308.2" y1="164.5" x2="309.8" y2="164.5" stroke="#333" stroke-width="0.9"/>
<line x1="308.9" y1="170.5" x2="309.8" y2="170.5" stroke="#555" stroke-width="0.7"/>
<line x1="308.9" y1="175" x2="309.8" y2="175" stroke="#555" stroke-width="0.7"/>
<line x1="308.9" y1="178" x2="309.8" y2="178" stroke="#555" stroke-width="0.7"/>
<line x1="308.2" y1="183.3" x2="309.8" y2="183.3" stroke="#333" stroke-width="0.9"/>
<line x1="308.9" y1="189.3" x2="309.8" y2="189.3" stroke="#555" stroke-width="0.7"/>
<line x1="308.9" y1="193.8" x2="309.8" y2="193.8" stroke="#555" stroke-width="0.7"/>
<line x1="308.9" y1="196.8" x2="309.8" y2="196.8" stroke="#555" stroke-width="0.7"/>
<line x1="310.3" y1="201.1" x2="310.3" y2="203.1" stroke="#222" stroke-width="1"/>
<line x1="316.2" y1="201.1" x2="316.2" y2="202.5" stroke="#333" stroke-width="0.7"/>
<line x1="319.7" y1="201.1" x2="319.7" y2="202.5" stroke="#333" stroke-width="0.7"/>
<line x1="322.1" y1="201.1" x2="322.1" y2="202.5" stroke="#333" stroke-width="0.7"/>
<line x1="324" y1="201.1" x2="324" y2="202.5" stroke="#333" stroke-width="0.7"/>
<line x1="325.6" y1="201.1" x2="325.6" y2="202.5" stroke="#333" stroke-width="0.7"/>
<line x1="326.9" y1="201.1" x2="326.9" y2="202.5" stroke="#333" stroke-width="0.7"/>
<line x1="328.1" y1="201.1" x2="328.1" y2="202.5" stroke="#333" stroke-width="0.7"/>
<line x1="329.8" y1="201.1" x2="329.8" y2="203.1" stroke="#222" stroke-width="1"/>
<line x1="335.7" y1="201.1" x2="335.7" y2="202.5" stroke="#333" stroke-width="0.7"/>
<line x1="339.2" y1="201.1" x2="339.2" y2="202.5" stroke="#333" stroke-width="0.7"/>
<line x1="341.6" y1="201.1" x2="341.6" y2="202.5" stroke="#333" stroke-width="0.7"/>
<line x1="343.5" y1="201.1" x2="343.5" y2="202.5" stroke="#333" stroke-width="0.7"/>
<line x1="345.1" y1="201.1" x2="345.1" y2="202.5" stroke="#333" stroke-width="0.7"/>
<line x1="346.4" y1="201.1" x2="346.4" y2="202.5" stroke="#333" stroke-width="0.7"/>
<line x1="347.6" y1="201.1" x2="347.6" y2="202.5" stroke="#333" stroke-width="0.7"/>
<line x1="349.3" y1="201.1" x2="349.3" y2="203.1" stroke="#222" stroke-width="1"/>
<line x1="355.2" y1="201.1" x2="355.2" y2="202.5" stroke="#333" stroke-width="0.7"/>
<line x1="358.7" y1="201.1" x2="358.7" y2="202.5" stroke="#333" stroke-width="0.7"/>
<line x1="361.1" y1="201.1" x2="361.1" y2="202.5" stroke="#333" stroke-width="0.7"/>
<line x1="363" y1="201.1" x2="363" y2="202.5" stroke="#333" stroke-width="0.7"/>
<line x1="364.6" y1="201.1" x2="364.6" y2="202.5" stroke="#333" stroke-width="0.7"/>
<line x1="365.9" y1="201.1" x2="365.9" y2="202.5" stroke="#333" stroke-width="0.7"/>
<line x1="367.1" y1="201.1" x2="367.1" y2="202.5" stroke="#333" stroke-width="0.7"/>
<line x1="368.8" y1="201.1" x2="368.8" y2="203.1" stroke="#222" stroke-width="1"/>
<line x1="374.7" y1="201.1" x2="374.7" y2="202.5" stroke="#333" stroke-width="0.7"/>
<line x1="378.2" y1="201.1" x2="378.2" y2="202.5" stroke="#333" stroke-width="0.7"/>
<line x1="380.6" y1="201.1" x2="380.6" y2="202.5" stroke="#333" stroke-width="0.7"/>
<line x1="382.5" y1="201.1" x2="382.5" y2="202.5" stroke="#333" stroke-width="0.7"/>
<line x1="384.1" y1="201.1" x2="384.1" y2="202.5" stroke="#333" stroke-width="0.7"/>
<line x1="385.4" y1="201.1" x2="385.4" y2="202.5" stroke="#333" stroke-width="0.7"/>
<line x1="386.6" y1="201.1" x2="386.6" y2="202.5" stroke="#333" stroke-width="0.7"/>
<line x1="388.3" y1="201.1" x2="388.3" y2="203.1" stroke="#222" stroke-width="1"/>
<rect x="353.2" y="128" width="36.6" height="72.2" fill="none" stroke="#444" stroke-width="1"/>
<text x="325.8" y="130" font-size="8.2" text-anchor="middle" textLength="24.5" lengthAdjust="spacingAndGlyphs">Inverted</text>
<text x="325.8" y="138.6" font-size="8.2" text-anchor="middle" textLength="13" lengthAdjust="spacingAndGlyphs">gate</text>
<g transform="translate(406 119.5)"><path d="M26 2h1m-5 2h1m19 0h1m-15 1h1m-26 1h1m31 0h1m19 0h1m1 0h1m7 1h1m-11 2h1m-55 1h1m49 0h1m7 0h1m2 0h1m-56 1h1m41 0h1m2 0h1m1 0h1m3 0h1m3 0h1m7 0h1m-12 1h4m1 0h1m2 0h1m-19 1h1m13 0h1m3 0h1m-18 1h1m1 0h1m2 0h4m2 0h1m4 0h1m-21 1h1m1 0h1m2 0h3m1 0h1m1 0h1m5 0h2m1 0h1m-22 1h1m11 0h1m1 0h1m1 0h1m2 0h5m4 0h1m-35 1h1m11 0h1m1 0h1m3 0h1m6 0h1m1 0h2m-37 1h1m9 0h1m4 0h1m2 0h1m1 0h1m3 0h2m6 0h2m1 0h1m1 0h1m1 0h1m-24 1h1m6 0h1m9 0h1m2 0h3m-22 1h1m8 0h1m8 0h2m-19 1h1m4 0h3m-10 1h1m2 0h2m1 0h1m3 0h2m2 0h1m2 0h1m3 0h2m1 0h1m3 0h1m3 0h1m-46 1h1m16 0h1m2 0h2m5 0h1m7 0h1m2 0h1m-42 1h1m4 0h1m11 0h1m3 0h1m5 0h1m7 0h3m1 0h1m1 0h1m1 0h1m-69 1h1m28 0h1m1 0h1m15 0h1m1 0h1m2 0h4m2 0h1m3 0h1m-57 1h1m11 0h1m6 0h1m3 0h1m5 0h1m10 0h1m4 0h1m3 0h1m5 0h1m5 0h1m-39 1h1m3 0h1m5 0h3m3 0h4m2 0h1m1 0h1m1 0h1m1 0h1m4 0h1m1 0h1m-64 1h1m17 0h1m21 0h1m2 0h1m2 0h2m4 0h1m1 0h1m18 0h1m-76 1h1m10 0h1m16 0h1m3 0h2m1 0h1m3 0h2m4 0h1m3 0h1m2 0h1m4 0h3m3 0h1m5 0h1m3 0h1m-54 1h1m1 0h1m1 0h1m3 0h1m1 0h2m1 0h1m3 0h1m8 0h1m1 0h1m3 0h2m5 0h1m1 0h3m9 0h1m-55 1h1m7 0h1m14 0h1m5 0h1m6 0h2m-39 1h1m12 0h1m7 0h1m1 0h1m2 0h3m9 0h1m5 0h1m-37 1h1m8 0h1m1 0h1m6 0h3m2 0h1m1 0h3m14 0h1m-38 1h1m2 0h2m1 0h1m11 0h1m1 0h2m6 0h1m3 0h1m-53 1h1m13 0h1m1 0h1m6 0h2m5 0h3m6 0h4m10 0h1m1 0h1m6 0h1m-59 1h1m1 0h1m6 0h2m8 0h2m2 0h2m2 0h2m4 0h1m2 0h1m5 0h1m4 0h1m6 0h1m-71 1h1m8 0h1m5 0h1m1 0h1m8 0h1m1 0h1m1 0h1m6 0h1m1 0h1m9 0h1m2 0h1m2 0h1m-43 1h1m3 0h1m4 0h1m2 0h2m9 0h1m4 0h3m3 0h1m19 0h1m2 0h1m-55 1h1m2 0h3m3 0h1m1 0h4m1 0h2m1 0h1m2 0h3m3 0h1m6 0h1m1 0h1m3 0h1m2 0h1m2 0h1m-51 1h2m5 0h1m4 0h1m1 0h2m9 0h3m2 0h2m5 0h1m7 0h1m-56 1h1m2 0h1m1 0h1m1 0h1m1 0h1m4 0h2m3 0h2m1 0h1m1 0h2m1 0h2m2 0h1m6 0h1m3 0h2m1 0h3m1 0h1m5 0h1m-54 1h2m1 0h3m2 0h1m9 0h2m10 0h3m1 0h1m2 0h1m2 0h2m2 0h1m2 0h1m4 0h1m5 0h1m13 0h1m-66 1h1m2 0h2m6 0h1m4 0h1m1 0h1m3 0h2m6 0h1m2 0h1m1 0h3m1 0h1m6 0h2m-63 1h1m1 0h1m6 0h2m2 0h2m1 0h4m3 0h2m3 0h1m1 0h1m1 0h1m1 0h2m1 0h2m2 0h1m2 0h2m4 0h2m1 0h1m2 0h1m4 0h2m1 0h1m-52 1h2m4 0h1m1 0h1m2 0h1m1 0h1m2 0h2m6 0h1m4 0h1m3 0h1m2 0h1m4 0h1m1 0h1m11 0h1m-69 1h1m6 0h1m3 0h1m6 0h1m1 0h2m6 0h1m4 0h1m6 0h1m4 0h1m2 0h2m3 0h2m1 0h1m1 0h1m1 0h1m-53 1h1m5 0h2m3 0h1m4 0h2m3 0h1m1 0h1m3 0h2m8 0h2m1 0h1m1 0h1m3 0h4m-51 1h1m3 0h1m2 0h1m1 0h1m2 0h1m12 0h1m5 0h1m1 0h1m3 0h1m2 0h1m1 0h2m1 0h1m2 0h3m9 0h1m-69 1h1m4 0h1m15 0h2m7 0h1m3 0h1m6 0h1m4 0h1m7 0h2m6 0h1m-60 1h1m2 0h3m1 0h1m6 0h2m10 0h2m4 0h1m1 0h2m2 0h1m2 0h3m6 0h1m3 0h2m3 0h1m15 0h1m-74 1h2m1 0h1m7 0h1m1 0h1m1 0h1m7 0h1m12 0h1m11 0h1m3 0h1m3 0h2m2 0h1m-61 1h1m1 0h1m4 0h1m8 0h1m29 0h1m3 0h1m3 0h1m4 0h1m-62 1h1m3 0h2m2 0h2m2 0h2m3 0h2m9 0h1m3 0h1m5 0h1m1 0h1m7 0h2m3 0h1m1 0h2m8 0h1m-66 1h1m2 0h2m2 0h2m1 0h3m1 0h1m1 0h1m1 0h1m11 0h2m1 0h1m9 0h1m2 0h2m3 0h2m5 0h1m17 0h1m-76 1h2m1 0h2m1 0h2m1 0h1m13 0h1m4 0h1m13 0h3m2 0h1m8 0h2m-57 1h2m3 0h1m4 0h1m4 0h1m6 0h1m4 0h1m6 0h1m1 0h3m1 0h4m4 0h1m7 0h1m1 0h1m-60 1h1m4 0h1m5 0h4m12 0h1m3 0h1m2 0h1m6 0h1m4 0h1m4 0h1m1 0h2m4 0h1m9 0h1m-71 1h1m2 0h1m5 0h3m1 0h2m7 0h1m5 0h1m6 0h1m3 0h2m3 0h1m1 0h1m2 0h2m2 0h1m1 0h1m-59 1h2m6 0h1m5 0h1m22 0h1m3 0h2m1 0h1m2 0h1m2 0h3m9 0h1m-57 1h3m1 0h1m1 0h1m3 0h1m8 0h1m1 0h1m1 0h1m1 0h1m2 0h1m1 0h1m6 0h2m4 0h2m1 0h1m-48 1h3m1 0h1m3 0h1m1 0h1m14 0h1m5 0h1m3 0h1m2 0h2m2 0h1m8 0h1m-57 1h1m6 0h1m4 0h1m4 0h2m7 0h1m1 0h1m4 0h1m1 0h1m4 0h1m1 0h1m3 0h3m-45 1h2m3 0h1m2 0h1m1 0h1m18 0h1m2 0h1m2 0h2m1 0h1m4 0h1m2 0h1m2 0h2m-53 1h1m1 0h2m6 0h1m1 0h1m3 0h2m15 0h1m3 0h3m1 0h1m1 0h2m1 0h1m4 0h1m-51 1h1m3 0h2m2 0h1m1 0h1m1 0h1m2 0h1m1 0h1m4 0h1m3 0h2m1 0h1m1 0h1m8 0h1m2 0h2m1 0h1m2 0h1m2 0h1m-55 1h1m1 0h2m2 0h1m1 0h2m3 0h1m1 0h1m5 0h2m5 0h1m4 0h3m1 0h1m1 0h1m2 0h1m11 0h1m6 0h1m15 0h1m-78 1h1m4 0h1m1 0h1m1 0h1m1 0h1m3 0h1m13 0h2m6 0h2m2 0h2m3 0h1m29 0h1m-69 1h2m1 0h1m3 0h2m1 0h1m5 0h1m1 0h1m3 0h1m6 0h1m1 0h2m1 0h1m1 0h1m1 0h1m2 0h1m-46 1h1m8 0h3m6 0h2m4 0h1m2 0h1m3 0h2m3 0h1m3 0h1m2 0h1m5 0h1m-55 1h1m2 0h1m3 0h1m1 0h1m2 0h1m7 0h2m2 0h1m2 0h1m1 0h4m1 0h1m2 0h1m1 0h3m3 0h1m-44 1h1m12 0h2m5 0h3m5 0h4m2 0h1m3 0h1m4 0h1m-41 1h2m4 0h1m1 0h3m1 0h1m2 0h1m1 0h3m1 0h2m5 0h1m2 0h1m2 0h3m-39 1h1m3 0h1m2 0h1m2 0h2m1 0h1m2 0h1m1 0h1m1 0h1m3 0h1m3 0h1m4 0h1m3 0h1m1 0h1m6 0h1m-45 1h1m5 0h1m6 0h1m2 0h1m6 0h1m2 0h3m-28 1h2m4 0h1m2 0h3m3 0h1m5 0h1m2 0h2m4 0h1m6 0h1m27 0h1m-68 1h1m8 0h3m1 0h3m6 0h1m13 0h1m1 0h2m16 0h1m-50 1h1m4 0h1m2 0h1m2 0h1m5 0h1m4 0h1m2 0h1m-30 1h1m2 0h3m5 0h2m11 0h1m5 0h1m2 0h1m3 0h1m-33 1h1m5 0h2m2 0h1m7 0h2m3 0h1m4 0h1m-27 1h1m36 0h1m11 0h1m-61 1h1m7 0h3m64 0h1" stroke="#a2a2a2" stroke-width="1"/><path d="M53 8h1m-3 4h1m11 0h1m-14 1h1m15 0h1m-8 1h1m4 0h1m-7 1h1m3 0h1m7 0h1m-13 1h1m4 0h1m-9 1h2m6 0h1m-10 1h1m2 0h2m6 0h1m-18 1h1m7 0h2m7 0h1m-13 1h1m2 0h1m4 0h1m1 0h1m-7 1h2m3 0h1m3 0h1m1 0h1m-15 1h1m1 0h1m2 0h2m2 0h1m10 0h1m-26 1h1m10 0h1m5 0h1m-12 1h1m3 0h1m3 0h1m1 1h1m1 0h1m-19 1h1m3 0h1m11 0h1m-2 1h1m-7 1h1m-17 1h1m16 0h2m-11 1h1m10 0h1m1 0h1m4 1h1m-15 1h1m4 0h1m-25 1h2m18 0h1m8 0h1m-34 1h1m5 0h2m7 0h1m3 1h1m-27 1h1m9 0h1m6 0h2m3 0h1m-10 1h1m4 0h1m2 0h1m1 0h1m3 0h1m13 0h1m-48 1h1m14 0h1m2 0h1m2 0h1m-10 1h1m14 0h1m5 0h2m-32 1h1m3 0h2m1 0h1m8 0h1m7 0h1m9 0h1m-48 1h1m14 0h1m1 0h1m10 0h2m1 0h1m1 0h1m1 0h1m2 0h1m-27 1h1m24 0h1m9 0h1m-42 1h1m6 0h1m9 0h1m1 0h1m1 0h1m1 0h1m3 0h1m1 0h1m3 0h1m-27 1h1m1 0h1m6 0h1m6 0h1m6 0h1m2 0h2m7 0h1m-39 1h1m2 0h1m1 0h1m2 0h1m6 0h1m1 0h3m3 0h1m2 0h2m-29 1h1m7 0h1m2 0h1m10 0h1m2 0h1m4 0h2m2 0h1m-33 1h1m1 0h1m2 0h1m3 0h1m4 0h3m3 0h2m2 0h1m1 0h1m4 0h1m1 0h1m6 0h1m-46 1h1m3 0h1m3 0h3m1 0h1m1 0h1m2 0h1m2 0h1m3 0h1m1 0h1m8 0h1m4 0h2m-42 1h1m8 0h2m1 0h2m4 0h2m2 0h1m3 0h1m4 0h1m3 0h1m2 0h1m4 0h1m1 0h1m-44 1h1m4 0h1m4 0h2m11 0h1m11 0h1m2 0h1m-42 1h2m6 0h2m1 0h1m1 0h1m2 0h1m6 0h2m1 0h1m2 0h1m5 0h1m3 0h1m-44 1h1m1 0h1m10 0h1m3 0h2m1 0h2m6 0h1m1 0h1m1 0h1m2 0h1m1 0h1m2 0h2m1 0h3m1 0h1m-44 1h1m3 0h3m3 0h1m1 0h1m8 0h1m5 0h1m6 0h4m4 0h1m-38 1h1m1 0h1m11 0h1m2 0h1m1 0h1m1 0h1m2 0h2m3 0h1m-31 1h1m1 0h1m15 0h1m3 0h2m1 0h2m-28 1h1m1 0h1m11 0h1m2 0h1m2 0h1m13 0h1m-44 1h1m3 0h1m1 0h2m6 0h1m1 0h1m2 0h1m6 0h1m3 0h1m1 0h1m2 0h2m2 0h4m4 0h1m-47 1h1m9 0h1m3 0h1m5 0h2m2 0h1m6 0h1m1 0h1m8 0h2m-47 1h1m6 0h2m6 0h2m3 0h1m12 0h3m5 0h1m-38 1h1m5 0h1m1 0h2m11 0h1m2 0h1m7 0h1m5 0h1m-34 1h1m5 0h1m5 0h1m6 0h2m7 0h1m-33 1h1m2 0h1m5 0h1m3 0h1m5 0h1m14 0h1m-32 1h1m2 0h1m3 0h1m1 0h1m1 0h1m2 0h2m12 0h1m1 0h1m2 0h1m2 0h1m-35 1h1m10 0h1m5 0h1m3 0h1m-27 1h1m3 0h1m2 0h1m1 0h1m1 0h1m5 0h2m11 0h3m1 0h1m-28 1h2m1 0h1m4 0h1m2 0h1m-27 1h1m12 0h1m2 0h1m5 0h1m1 0h1m1 0h1m4 0h2m9 0h1m-31 1h2m2 0h1m13 0h1m2 0h1m-18 1h2m1 0h1m3 0h1m1 0h2m1 0h1m2 0h1m-21 1h1m3 0h1m1 0h1m6 0h1m9 0h1m1 0h1m3 0h1m-36 1h1m3 0h1m9 0h1m4 0h2m-19 1h1m8 0h1m9 0h1m-14 1h1m9 0h1m6 0h1m-21 1h1m1 0h1m5 0h1m3 0h2m3 0h1m-21 1h1m11 1h1m-1 1h1m1 2h1" stroke="#666" stroke-width="1"/><path d="M61 15h1m-8 1h1m5 0h1m-3 1h1m6 0h1m-16 1h1m1 0h1m7 1h1m-2 1h1m4 0h2m-5 1h1m3 0h1m3 0h1m-8 1h1m3 0h1m-4 1h2m-9 1h1m6 1h1m-19 1h1m20 1h1m-11 1h1m6 0h1m-3 1h1m-38 9h1m9 0h1m5 1h1m-12 3h1m6 0h1m-12 1h2m2 0h2m9 0h1m9 0h1m-23 1h1m3 0h1m7 0h1m-12 1h1m18 0h1m-23 1h2m2 0h1m2 0h1m1 0h1m4 0h1m2 0h1m-17 1h1m1 0h1m14 0h1m-18 1h1m9 0h1m5 0h2m-29 1h1m1 0h1m1 0h1m10 0h1m5 0h1m1 0h1m3 0h1m-30 1h1m8 0h1m1 0h1m2 0h1m2 0h1m11 0h1m3 0h3m2 0h1m6 0h1m-30 1h1m1 0h1m1 0h1m15 0h1m-34 1h1m2 0h1m2 0h1m1 0h1m12 0h1m4 0h1m1 0h1m1 0h1m-24 1h1m1 0h3m8 0h3m2 0h1m2 0h1m-34 1h1m10 0h1m1 0h2m1 0h2m15 0h1m10 0h1m-42 1h2m3 0h1m9 0h2m5 0h2m5 0h2m3 0h2m-34 1h1m1 0h1m2 0h1m2 0h1m5 0h1m5 0h1m6 0h1m-26 1h1m8 0h2m4 0h1m-20 1h1m3 0h3m2 0h1m2 0h1m8 0h2m8 0h1m7 0h1m-32 1h1m3 0h1m6 0h3m-26 1h1m7 0h2m14 0h1m2 0h2m5 0h1m-34 1h1m3 0h1m1 0h1m3 0h1m2 0h1m6 0h1m4 0h1m-24 1h3m4 0h1m2 0h1m5 0h1m3 0h1m-18 1h1m7 0h1m6 0h1m1 0h1m3 0h1m-19 1h2m3 0h1m1 0h2m1 0h2m-6 1h1m6 0h1m1 0h1m-10 1h2m2 0h1m1 0h1m-13 1h4m1 0h1m3 0h1m-10 1h2m2 0h1m1 1h1m-4 1h1m-6 1h1m1 0h1m14 0h1m-24 2h1m15 3h1" stroke="#3c3c3c" stroke-width="1"/><path d="M59 15h1m2 1h1m-4 1h2m1 0h1m-4 1h4m-4 1h1m1 0h3m-6 1h1m3 0h1m-4 1h2m2 0h2m2 0h1m-10 2h2m2 0h1m2 0h1m-5 1h1m2 0h2m-25 15h1m-1 1h1m-14 3h1m7 0h1m6 1h1m2 1h1m2 0h1m-12 1h1m-8 1h1m9 0h2m-13 1h1m1 0h1m13 0h2m-23 1h1m2 0h2m5 0h1m2 0h1m5 0h1m6 0h1m-30 1h1m1 0h1m7 0h3m1 0h1m-20 1h1m1 0h1m3 0h1m1 0h1m1 0h1m3 0h1m3 0h1m4 0h1m3 0h3m-28 1h1m4 0h1m3 0h1m2 0h5m4 0h1m1 0h1m5 0h1m-20 1h2m1 0h2m2 0h1m9 0h1m-25 1h1m1 0h1m2 0h1m2 0h2m6 0h1m1 0h1m-29 1h1m5 0h1m2 0h6m1 0h2m3 0h2m1 0h1m4 0h1m-21 1h1m1 0h2m1 0h1m1 0h2m4 0h2m2 0h1m1 0h1m-19 1h1m1 0h2m1 0h1m2 0h1m1 0h1m7 0h2m-19 1h1m2 0h1m3 0h1m2 0h3m4 0h1m3 0h1m-30 1h2m1 0h2m2 0h1m1 0h1m1 0h1m1 0h6m-13 1h4m1 0h1m1 0h1m3 0h1m4 0h1m2 0h1m-24 1h1m1 0h1m1 0h1m1 0h2m2 0h3m1 0h1m3 0h1m-16 1h1m1 0h1m2 0h1m1 0h1m3 0h2m-14 1h1m1 0h1m1 0h1m5 0h1m1 0h1m-16 1h1m5 0h3m4 0h1m-7 1h2m-12 1h1m5 0h1m13 0h1m-20 1h1m10 3h1" stroke="#1e1e1e" stroke-width="1"/></g>
<rect x="405.8" y="118.6" width="82" height="82.5" fill="none" stroke="#b5b5b5" stroke-width="1.1"/>
<line x1="404.3" y1="201.1" x2="487.8" y2="201.1" stroke="#2a2a2a" stroke-width="1.15"/>
<line x1="404.2" y1="126.9" x2="405.8" y2="126.9" stroke="#333" stroke-width="0.9"/>
<line x1="404.9" y1="132.9" x2="405.8" y2="132.9" stroke="#555" stroke-width="0.7"/>
<line x1="404.9" y1="137.4" x2="405.8" y2="137.4" stroke="#555" stroke-width="0.7"/>
<line x1="404.9" y1="140.4" x2="405.8" y2="140.4" stroke="#555" stroke-width="0.7"/>
<line x1="404.2" y1="145.7" x2="405.8" y2="145.7" stroke="#333" stroke-width="0.9"/>
<line x1="404.9" y1="151.7" x2="405.8" y2="151.7" stroke="#555" stroke-width="0.7"/>
<line x1="404.9" y1="156.2" x2="405.8" y2="156.2" stroke="#555" stroke-width="0.7"/>
<line x1="404.9" y1="159.2" x2="405.8" y2="159.2" stroke="#555" stroke-width="0.7"/>
<line x1="404.2" y1="164.5" x2="405.8" y2="164.5" stroke="#333" stroke-width="0.9"/>
<line x1="404.9" y1="170.5" x2="405.8" y2="170.5" stroke="#555" stroke-width="0.7"/>
<line x1="404.9" y1="175" x2="405.8" y2="175" stroke="#555" stroke-width="0.7"/>
<line x1="404.9" y1="178" x2="405.8" y2="178" stroke="#555" stroke-width="0.7"/>
<line x1="404.2" y1="183.3" x2="405.8" y2="183.3" stroke="#333" stroke-width="0.9"/>
<line x1="404.9" y1="189.3" x2="405.8" y2="189.3" stroke="#555" stroke-width="0.7"/>
<line x1="404.9" y1="193.8" x2="405.8" y2="193.8" stroke="#555" stroke-width="0.7"/>
<line x1="404.9" y1="196.8" x2="405.8" y2="196.8" stroke="#555" stroke-width="0.7"/>
<line x1="406.3" y1="201.1" x2="406.3" y2="203.1" stroke="#222" stroke-width="1"/>
<line x1="412.2" y1="201.1" x2="412.2" y2="202.5" stroke="#333" stroke-width="0.7"/>
<line x1="415.7" y1="201.1" x2="415.7" y2="202.5" stroke="#333" stroke-width="0.7"/>
<line x1="418.1" y1="201.1" x2="418.1" y2="202.5" stroke="#333" stroke-width="0.7"/>
<line x1="420" y1="201.1" x2="420" y2="202.5" stroke="#333" stroke-width="0.7"/>
<line x1="421.6" y1="201.1" x2="421.6" y2="202.5" stroke="#333" stroke-width="0.7"/>
<line x1="422.9" y1="201.1" x2="422.9" y2="202.5" stroke="#333" stroke-width="0.7"/>
<line x1="424.1" y1="201.1" x2="424.1" y2="202.5" stroke="#333" stroke-width="0.7"/>
<line x1="425.8" y1="201.1" x2="425.8" y2="203.1" stroke="#222" stroke-width="1"/>
<line x1="431.7" y1="201.1" x2="431.7" y2="202.5" stroke="#333" stroke-width="0.7"/>
<line x1="435.2" y1="201.1" x2="435.2" y2="202.5" stroke="#333" stroke-width="0.7"/>
<line x1="437.6" y1="201.1" x2="437.6" y2="202.5" stroke="#333" stroke-width="0.7"/>
<line x1="439.5" y1="201.1" x2="439.5" y2="202.5" stroke="#333" stroke-width="0.7"/>
<line x1="441.1" y1="201.1" x2="441.1" y2="202.5" stroke="#333" stroke-width="0.7"/>
<line x1="442.4" y1="201.1" x2="442.4" y2="202.5" stroke="#333" stroke-width="0.7"/>
<line x1="443.6" y1="201.1" x2="443.6" y2="202.5" stroke="#333" stroke-width="0.7"/>
<line x1="445.3" y1="201.1" x2="445.3" y2="203.1" stroke="#222" stroke-width="1"/>
<line x1="451.2" y1="201.1" x2="451.2" y2="202.5" stroke="#333" stroke-width="0.7"/>
<line x1="454.7" y1="201.1" x2="454.7" y2="202.5" stroke="#333" stroke-width="0.7"/>
<line x1="457.1" y1="201.1" x2="457.1" y2="202.5" stroke="#333" stroke-width="0.7"/>
<line x1="459" y1="201.1" x2="459" y2="202.5" stroke="#333" stroke-width="0.7"/>
<line x1="460.6" y1="201.1" x2="460.6" y2="202.5" stroke="#333" stroke-width="0.7"/>
<line x1="461.9" y1="201.1" x2="461.9" y2="202.5" stroke="#333" stroke-width="0.7"/>
<line x1="463.1" y1="201.1" x2="463.1" y2="202.5" stroke="#333" stroke-width="0.7"/>
<line x1="464.8" y1="201.1" x2="464.8" y2="203.1" stroke="#222" stroke-width="1"/>
<line x1="470.7" y1="201.1" x2="470.7" y2="202.5" stroke="#333" stroke-width="0.7"/>
<line x1="474.2" y1="201.1" x2="474.2" y2="202.5" stroke="#333" stroke-width="0.7"/>
<line x1="476.6" y1="201.1" x2="476.6" y2="202.5" stroke="#333" stroke-width="0.7"/>
<line x1="478.5" y1="201.1" x2="478.5" y2="202.5" stroke="#333" stroke-width="0.7"/>
<line x1="480.1" y1="201.1" x2="480.1" y2="202.5" stroke="#333" stroke-width="0.7"/>
<line x1="481.4" y1="201.1" x2="481.4" y2="202.5" stroke="#333" stroke-width="0.7"/>
<line x1="482.6" y1="201.1" x2="482.6" y2="202.5" stroke="#333" stroke-width="0.7"/>
<line x1="484.3" y1="201.1" x2="484.3" y2="203.1" stroke="#222" stroke-width="1"/>
<rect x="448.5" y="118.9" width="38" height="36.5" fill="none" stroke="#555" stroke-width="1"/>
<text x="424.2" y="127.8" font-size="8.2" text-anchor="middle" textLength="24.5" lengthAdjust="spacingAndGlyphs">Inverted</text>
<text x="424.2" y="136.4" font-size="8.2" text-anchor="middle" textLength="13" lengthAdjust="spacingAndGlyphs">gate</text>
<line x1="203.4" y1="82.6" x2="203.4" y2="27.1" stroke="#231f20" stroke-width="1.1"/>
<path d="M203.4 24L205.3 27.6L201.5 27.6Z" fill="#231f20"/>
<text x="205.7" y="97.7" font-size="8.2" textLength="12.1" lengthAdjust="spacingAndGlyphs" transform="rotate(-90 205.7 97.7)">GFP</text>
<text x="215" y="114.1" font-size="8.2" textLength="20.4" lengthAdjust="spacingAndGlyphs">CD115</text>
<line x1="238.5" y1="111.2" x2="290.4" y2="111.2" stroke="#231f20" stroke-width="1.1"/>
<path d="M293.5 111.2L289.9 113.1L289.9 109.3Z" fill="#231f20"/>
<line x1="304.2" y1="82.5" x2="304.2" y2="36.1" stroke="#231f20" stroke-width="1.1"/>
<path d="M304.2 33L306.1 36.6L302.3 36.6Z" fill="#231f20"/>
<text x="306.5" y="102" font-size="8.2" textLength="16" lengthAdjust="spacingAndGlyphs" transform="rotate(-90 306.5 102)">CD3e</text>
<text x="315" y="114.1" font-size="8.2" textLength="16.5" lengthAdjust="spacingAndGlyphs">CD19</text>
<line x1="334.5" y1="111.2" x2="382.4" y2="111.2" stroke="#231f20" stroke-width="1.1"/>
<path d="M385.5 111.2L381.9 113.1L381.9 109.3Z" fill="#231f20"/>
<line x1="401.1" y1="82.2" x2="401.1" y2="33.1" stroke="#231f20" stroke-width="1.1"/>
<path d="M401.1 30L403 33.6L399.2 33.6Z" fill="#231f20"/>
<text x="403.4" y="100.1" font-size="8.2" textLength="14.4" lengthAdjust="spacingAndGlyphs" transform="rotate(-90 403.4 100.1)">Ly6G</text>
<text x="409.7" y="114.7" font-size="8.2" textLength="14.6" lengthAdjust="spacingAndGlyphs">Ly6C</text>
<line x1="427.5" y1="111.8" x2="473.9" y2="111.8" stroke="#231f20" stroke-width="1.1"/>
<path d="M477 111.8L473.4 113.7L473.4 109.9Z" fill="#231f20"/>
<line x1="203.6" y1="178.5" x2="203.6" y2="126.9" stroke="#231f20" stroke-width="1.1"/>
<path d="M203.6 123.8L205.5 127.4L201.7 127.4Z" fill="#231f20"/>
<text x="205.9" y="197" font-size="8.2" textLength="16.3" lengthAdjust="spacingAndGlyphs" transform="rotate(-90 205.9 197)">F4/80</text>
<text x="216" y="213.9" font-size="8.2" textLength="24.5" lengthAdjust="spacingAndGlyphs">VCAM-1</text>
<line x1="243" y1="211" x2="290.4" y2="211" stroke="#231f20" stroke-width="1.1"/>
<path d="M293.5 211L289.9 212.9L289.9 209.1Z" fill="#231f20"/>
<line x1="304" y1="180.7" x2="304" y2="127.9" stroke="#231f20" stroke-width="1.1"/>
<path d="M304 124.8L305.9 128.4L302.1 128.4Z" fill="#231f20"/>
<text x="306.3" y="198" font-size="8.2" textLength="13.8" lengthAdjust="spacingAndGlyphs" transform="rotate(-90 306.3 198)">Ly6C</text>
<text x="310.2" y="213.9" font-size="8.2" textLength="20.8" lengthAdjust="spacingAndGlyphs">CD11b</text>
<line x1="334" y1="211" x2="382.4" y2="211" stroke="#231f20" stroke-width="1.1"/>
<path d="M385.5 211L381.9 212.9L381.9 209.1Z" fill="#231f20"/>
<line x1="400.4" y1="171.5" x2="400.4" y2="125.1" stroke="#231f20" stroke-width="1.1"/>
<path d="M400.4 122L402.3 125.6L398.5 125.6Z" fill="#231f20"/>
<text x="402.7" y="193.8" font-size="8.2" textLength="19.8" lengthAdjust="spacingAndGlyphs" transform="rotate(-90 402.7 193.8)">CD11c</text>
<text x="409.2" y="214.1" font-size="8.2" textLength="18" lengthAdjust="spacingAndGlyphs">MHCII</text>
<line x1="430" y1="211.2" x2="480.4" y2="211.2" stroke="#231f20" stroke-width="1.1"/>
<path d="M483.5 211.2L479.9 213.1L479.9 209.3Z" fill="#231f20"/>
<line x1="282.8" y1="28.8" x2="330.5" y2="28.8" stroke="#231f20" stroke-width="1.2"/>
<path d="M334 28.8L330 30.8L330 26.8Z" fill="#231f20"/>
<line x1="353" y1="74.9" x2="396.2" y2="74.9" stroke="#231f20" stroke-width="1.2"/>
<path d="M399.7 74.9L395.7 76.9L395.7 72.9Z" fill="#231f20"/>
<line x1="461.6" y1="84" x2="461.6" y2="111.9" stroke="#231f20" stroke-width="1.2"/>
<path d="M461.6 115.4L459.6 111.4L463.6 111.4Z" fill="#231f20"/>
<line x1="423" y1="139.2" x2="396" y2="139.2" stroke="#231f20" stroke-width="1.2"/>
<path d="M392.5 139.2L396.5 137.2L396.5 141.2Z" fill="#231f20"/>
<line x1="336.3" y1="154.6" x2="288.5" y2="154.6" stroke="#231f20" stroke-width="1.2"/>
<path d="M285 154.6L289 152.6L289 156.6Z" fill="#231f20"/>
<text x="7.7" y="242.3" font-size="11.2" font-weight="bold" fill="#000">C</text>
<rect x="57.8" y="303" width="29" height="23.7" fill="#a60029"/>
<rect x="101.5" y="311.6" width="29.2" height="15.1" fill="#2e4c80"/>
<line x1="72.3" y1="303" x2="72.3" y2="285.2" stroke="#231f20" stroke-width="1.2"/>
<line x1="66.3" y1="285.2" x2="79.4" y2="285.2" stroke="#231f20" stroke-width="1.2"/>
<line x1="116.1" y1="311.6" x2="116.1" y2="297.5" stroke="#231f20" stroke-width="1.2"/>
<line x1="109.6" y1="297.5" x2="123.7" y2="297.5" stroke="#231f20" stroke-width="1.2"/>
<line x1="50.3" y1="264.8" x2="50.3" y2="327.3" stroke="#231f20" stroke-width="1.25"/>
<line x1="47.1" y1="326.7" x2="50.3" y2="326.7" stroke="#231f20" stroke-width="1.1"/>
<text x="44" y="329.5" font-size="8.4" text-anchor="end" textLength="11" lengthAdjust="spacingAndGlyphs">0.0</text>
<line x1="47.1" y1="311.85" x2="50.3" y2="311.85" stroke="#231f20" stroke-width="1.1"/>
<text x="44" y="314.65" font-size="8.4" text-anchor="end" textLength="11" lengthAdjust="spacingAndGlyphs">0.5</text>
<line x1="47.1" y1="297" x2="50.3" y2="297" stroke="#231f20" stroke-width="1.1"/>
<text x="44" y="299.8" font-size="8.4" text-anchor="end" textLength="11" lengthAdjust="spacingAndGlyphs">1.0</text>
<line x1="47.1" y1="282.15" x2="50.3" y2="282.15" stroke="#231f20" stroke-width="1.1"/>
<text x="44" y="284.95" font-size="8.4" text-anchor="end" textLength="11" lengthAdjust="spacingAndGlyphs">1.5</text>
<line x1="47.1" y1="267.3" x2="50.3" y2="267.3" stroke="#231f20" stroke-width="1.1"/>
<text x="44" y="270.1" font-size="8.4" text-anchor="end" textLength="11" lengthAdjust="spacingAndGlyphs">2.0</text>
<line x1="47.1" y1="326.7" x2="136.2" y2="326.7" stroke="#231f20" stroke-width="1.3"/>
<line x1="72.3" y1="326.7" x2="72.3" y2="329.9" stroke="#231f20" stroke-width="1.1"/>
<line x1="116.1" y1="326.7" x2="116.1" y2="329.9" stroke="#231f20" stroke-width="1.1"/>
<line x1="75.2" y1="278.5" x2="115" y2="278.5" stroke="#231f20" stroke-width="1.2"/>
<text x="94.8" y="275.3" font-size="8" text-anchor="middle">ns</text>
<text x="72.7" y="340.4" font-size="8.3" text-anchor="middle" textLength="20.6" lengthAdjust="spacingAndGlyphs">Fresh</text>
<text x="72.7" y="350.4" font-size="8.3" text-anchor="middle" textLength="20" lengthAdjust="spacingAndGlyphs">RBCs</text>
<text x="116" y="340.4" font-size="8.3" text-anchor="middle" textLength="13.5" lengthAdjust="spacingAndGlyphs">Old</text>
<text x="116.3" y="350.4" font-size="8.3" text-anchor="middle" textLength="19.5" lengthAdjust="spacingAndGlyphs">RBCs</text>
<text x="25.9" y="297.4" font-size="7.4" text-anchor="middle" textLength="87" lengthAdjust="spacingAndGlyphs" transform="rotate(-90 25.9 297.4)">Non-RPMs/spleen (10<tspan dy="-2.2" font-size="5">6</tspan><tspan dy="2.2">)</tspan></text>
<text x="154.6" y="242.3" font-size="11.2" font-weight="bold" fill="#000">D</text>
<line x1="196.5" y1="262.2" x2="196.5" y2="327.2" stroke="#231f20" stroke-width="1.25"/>
<line x1="193.3" y1="326.6" x2="196.5" y2="326.6" stroke="#231f20" stroke-width="1.1"/>
<text x="191" y="329.4" font-size="8.4" text-anchor="end" textLength="11.8" lengthAdjust="spacingAndGlyphs">0.0</text>
<line x1="193.3" y1="305.95" x2="196.5" y2="305.95" stroke="#231f20" stroke-width="1.1"/>
<text x="191" y="308.75" font-size="8.4" text-anchor="end" textLength="11.8" lengthAdjust="spacingAndGlyphs">0.5</text>
<line x1="193.3" y1="285.3" x2="196.5" y2="285.3" stroke="#231f20" stroke-width="1.1"/>
<text x="191" y="288.1" font-size="8.4" text-anchor="end" textLength="11.8" lengthAdjust="spacingAndGlyphs">1.0</text>
<line x1="193.3" y1="264.65" x2="196.5" y2="264.65" stroke="#231f20" stroke-width="1.1"/>
<text x="191" y="267.45" font-size="8.4" text-anchor="end" textLength="11.8" lengthAdjust="spacingAndGlyphs">1.5</text>
<line x1="193.3" y1="326.6" x2="289.4" y2="326.6" stroke="#231f20" stroke-width="1.3"/>
<line x1="220.2" y1="326.6" x2="220.2" y2="329.8" stroke="#231f20" stroke-width="1.1"/>
<line x1="266.3" y1="326.6" x2="266.3" y2="329.8" stroke="#231f20" stroke-width="1.1"/>
<text x="171.8" y="293.4" font-size="7.6" text-anchor="middle" textLength="69" lengthAdjust="spacingAndGlyphs" transform="rotate(-90 171.8 293.4)">RPMs/spleen (10<tspan dy="-2.2" font-size="5">6</tspan><tspan dy="2.2">)</tspan></text>
<line x1="225" y1="271.2" x2="265.4" y2="271.2" stroke="#231f20" stroke-width="1.2"/>
<text x="245.2" y="268" font-size="8" text-anchor="middle">ns</text>
<line x1="205.4" y1="292.3" x2="235.6" y2="292.3" stroke="#b81431" stroke-width="1.2"/>
<line x1="212.5" y1="289" x2="228.5" y2="289" stroke="#b81431" stroke-width="1.1"/>
<line x1="212.5" y1="296.2" x2="228.5" y2="296.2" stroke="#b81431" stroke-width="1.1"/>
<line x1="220.2" y1="289" x2="220.2" y2="296.2" stroke="#b81431" stroke-width="1.1"/>
<circle cx="220.2" cy="286.5" r="1.6" fill="#fff" stroke="#b81431" stroke-width="1"/>
<circle cx="213.2" cy="290.4" r="1.6" fill="#fff" stroke="#b81431" stroke-width="1"/>
<circle cx="221" cy="292.2" r="1.6" fill="#fff" stroke="#b81431" stroke-width="1"/>
<circle cx="227.5" cy="292" r="1.6" fill="#fff" stroke="#b81431" stroke-width="1"/>
<circle cx="220.2" cy="298.2" r="1.6" fill="#fff" stroke="#b81431" stroke-width="1"/>
<line x1="251.5" y1="294.8" x2="281.7" y2="294.8" stroke="#263b6d" stroke-width="1.2"/>
<line x1="258.7" y1="285" x2="274" y2="285" stroke="#263b6d" stroke-width="1.1"/>
<line x1="258.7" y1="304.4" x2="274" y2="304.4" stroke="#263b6d" stroke-width="1.1"/>
<line x1="266.3" y1="285" x2="266.3" y2="304.4" stroke="#263b6d" stroke-width="1.1"/>
<rect x="264.7" y="276.4" width="3" height="3" fill="#263b6d"/>
<circle cx="266.3" cy="290.2" r="1.5" fill="#263b6d"/>
<circle cx="266.3" cy="295" r="1.5" fill="#263b6d"/>
<circle cx="268.8" cy="300.4" r="1.5" fill="#263b6d"/>
<circle cx="264.3" cy="304.6" r="1.5" fill="#263b6d"/>
<text x="220.2" y="340.6" font-size="8.3" text-anchor="middle" textLength="14.5" lengthAdjust="spacingAndGlyphs">PBS</text>
<text x="266.9" y="340.6" font-size="8.3" text-anchor="middle" textLength="46" lengthAdjust="spacingAndGlyphs">Supernatant</text>
<text x="306.3" y="242.3" font-size="11.2" font-weight="bold" fill="#000">F</text>
<text x="389" y="249.5" font-size="9.8" text-anchor="middle" font-style="italic" textLength="30.5" lengthAdjust="spacingAndGlyphs">PTGS2</text>
<line x1="341.8" y1="257.6" x2="341.8" y2="327.2" stroke="#231f20" stroke-width="1.25"/>
<line x1="338.6" y1="326.6" x2="341.8" y2="326.6" stroke="#231f20" stroke-width="1.1"/>
<text x="337.6" y="329.4" font-size="8.4" text-anchor="end">0</text>
<line x1="338.6" y1="304.05" x2="341.8" y2="304.05" stroke="#231f20" stroke-width="1.1"/>
<text x="337.6" y="306.85" font-size="8.4" text-anchor="end">5</text>
<line x1="338.6" y1="281.5" x2="341.8" y2="281.5" stroke="#231f20" stroke-width="1.1"/>
<text x="337.6" y="284.3" font-size="8.4" text-anchor="end">10</text>
<line x1="338.6" y1="258.95" x2="341.8" y2="258.95" stroke="#231f20" stroke-width="1.1"/>
<text x="337.6" y="261.75" font-size="8.4" text-anchor="end">15</text>
<line x1="338.6" y1="326.6" x2="434.8" y2="326.6" stroke="#231f20" stroke-width="1.3"/>
<line x1="365" y1="326.6" x2="365" y2="329.8" stroke="#231f20" stroke-width="1.1"/>
<line x1="412.3" y1="326.6" x2="412.3" y2="329.8" stroke="#231f20" stroke-width="1.1"/>
<text x="321.4" y="291.2" font-size="8.8" text-anchor="middle" textLength="52.5" lengthAdjust="spacingAndGlyphs" transform="rotate(-90 321.4 291.2)">Fold regulation</text>
<line x1="361.8" y1="269.8" x2="411.9" y2="269.8" stroke="#231f20" stroke-width="1.3"/>
<circle cx="383.3" cy="265.2" r="1.1" fill="#1a1a1a"/>
<circle cx="386.75" cy="265.2" r="1.1" fill="#1a1a1a"/>
<circle cx="390.2" cy="265.2" r="1.1" fill="#1a1a1a"/>
<line x1="350" y1="322.6" x2="380" y2="322.6" stroke="#a3173f" stroke-width="1.2"/>
<circle cx="357.8" cy="322.6" r="1.7" fill="#a3173f"/>
<circle cx="362.6" cy="322.6" r="1.7" fill="#a3173f"/>
<circle cx="367.4" cy="322.6" r="1.7" fill="#a3173f"/>
<circle cx="372.2" cy="322.6" r="1.7" fill="#a3173f"/>
<line x1="394.4" y1="291.3" x2="425.2" y2="291.3" stroke="#263b6d" stroke-width="1.2"/>
<line x1="401.5" y1="281.3" x2="417.5" y2="281.3" stroke="#263b6d" stroke-width="1.1"/>
<line x1="401.5" y1="301.2" x2="417.5" y2="301.2" stroke="#263b6d" stroke-width="1.1"/>
<line x1="409.2" y1="281.3" x2="409.2" y2="301.2" stroke="#263b6d" stroke-width="1.1"/>
<circle cx="407.4" cy="281" r="1.5" fill="#263b6d"/>
<circle cx="412.2" cy="285.2" r="1.5" fill="#263b6d"/>
<circle cx="407.4" cy="300.2" r="1.5" fill="#263b6d"/>
<circle cx="411.6" cy="300.4" r="1.5" fill="#263b6d"/>
<text x="365" y="340.4" font-size="8.3" text-anchor="middle" textLength="20.6" lengthAdjust="spacingAndGlyphs">Fresh</text>
<text x="365" y="350.4" font-size="8.3" text-anchor="middle" textLength="20" lengthAdjust="spacingAndGlyphs">RBCs</text>
<text x="412.7" y="340.4" font-size="8.3" text-anchor="middle" textLength="13.5" lengthAdjust="spacingAndGlyphs">Old</text>
<text x="412.9" y="350.4" font-size="8.3" text-anchor="middle" textLength="19.5" lengthAdjust="spacingAndGlyphs">RBCs</text>
<text x="7.7" y="378.9" font-size="11.2" font-weight="bold" fill="#000">E</text>
<path d="M71.9 479.3 L72.72 479.04 L73.54 478.78 L74.36 478.52 L75.18 478.26 L76 478 L76.9 477.56 L77.8 476.93 L78.7 476.85 L79.6 476.06 L80.5 475.16 L81.4 475 L82.45 473.29 L83.5 471 L84.27 470.47 L85.03 468.36 L85.8 465.5 L86.65 461.85 L87.5 460 L88.35 455.24 L89.2 454.2 L90.1 452.1 L91 452 L91.85 450.57 L92.7 449 L94 443 L95.3 436.9 L96.15 428.65 L97 428.3 L97.9 419.6 L98.75 418.78 L99.6 418.7 L100.45 420.48 L101.3 426.5 L102.15 420.96 L103 417.9 L104 421 L105.2 426.5 L106.5 406.6 L107.4 409.57 L108.3 414.4 L109.3 419.91 L110.3 426.5 L111.07 430.67 L111.83 435.21 L112.6 436.9 L113.47 436.98 L114.33 439.82 L115.2 437.8 L116.1 434.77 L117 434 L117.85 435.6 L118.7 436 L119.55 440.59 L120.4 442.1 L121.45 445.21 L122.5 448 L123.6 449.87 L124.7 454.2 L125.57 453.65 L126.43 455.24 L127.3 456.8 L128.15 459.21 L129 461 L129.9 460.63 L130.8 462.9 L131.65 463.19 L132.5 464 L133.35 464.96 L134.2 466.3 L135.1 469.21 L136 471 L136.85 473.17 L137.7 475 L138.47 475.56 L139.23 475.26 L140 476 L140.97 476.16 L141.93 476.9 L142.9 476.7 L143.75 478.59 L144.6 479.3 L144.6 479.6 L71.9 479.6 Z" fill="#fe6a64"/>
<path d="M71.9 479.3 L72.72 479.04 L73.54 478.78 L74.36 478.52 L75.18 478.26 L76 478 L76.9 477.56 L77.8 476.93 L78.7 476.85 L79.6 476.06 L80.5 475.16 L81.4 475 L82.45 473.29 L83.5 471 L84.27 470.47 L85.03 468.36 L85.8 465.5 L86.65 461.85 L87.5 460 L88.35 455.24 L89.2 454.2 L90.1 452.1 L91 452 L91.85 450.57 L92.7 449 L94 443 L95.3 436.9 L96.15 428.65 L97 428.3 L97.9 419.6 L98.75 418.78 L99.6 418.7 L100.45 420.48 L101.3 426.5 L102.15 420.96 L103 417.9 L104 421 L105.2 426.5 L106.5 406.6 L107.4 409.57 L108.3 414.4 L109.3 419.91 L110.3 426.5 L111.07 430.67 L111.83 435.21 L112.6 436.9 L113.47 436.98 L114.33 439.82 L115.2 437.8 L116.1 434.77 L117 434 L117.85 435.6 L118.7 436 L119.55 440.59 L120.4 442.1 L121.45 445.21 L122.5 448 L123.6 449.87 L124.7 454.2 L125.57 453.65 L126.43 455.24 L127.3 456.8 L128.15 459.21 L129 461 L129.9 460.63 L130.8 462.9 L131.65 463.19 L132.5 464 L133.35 464.96 L134.2 466.3 L135.1 469.21 L136 471 L136.85 473.17 L137.7 475 L138.47 475.56 L139.23 475.26 L140 476 L140.97 476.16 L141.93 476.9 L142.9 476.7 L143.75 478.59 L144.6 479.3" fill="none" stroke="#e0161b" stroke-width="1.25" stroke-linejoin="round"/>
<path d="M71.9 479.3 L72.75 478.92 L73.6 478.53 L74.45 478.15 L75.3 477.84 L76.15 477.56 L77 477 L77.88 476.17 L78.77 474.77 L79.65 474.56 L80.53 473.5 L81.42 472.21 L82.3 471.5 L83.22 470.14 L84.15 468.43 L85.08 466.78 L86 465 L86.8 463.19 L87.6 461.69 L88.4 459.04 L89.2 457.7 L89.97 455.68 L90.73 453.54 L91.5 452 L92.55 450.13 L93.6 447.3 L94.55 442.68 L95.5 438 L96.25 432.92 L97 428.3 L97.75 422.52 L98.5 418 L99.6 411 L100.3 408.29 L101 406 L102.2 402.3 L103.4 396.2 L104.3 400 L105.2 404 L106.3 408.36 L107.4 412.7 L108.27 416.51 L109.13 421.8 L110 424.8 L110.87 431.37 L111.73 434.16 L112.6 442.1 L113.47 446.36 L114.33 453.5 L115.2 459.4 L116.07 462.04 L116.93 465.32 L117.8 468.1 L118.65 469.05 L119.5 469.8 L120.37 471.59 L121.23 471.07 L122.1 472.4 L122.95 470.94 L123.8 469.8 L124.67 472.1 L125.53 472.92 L126.4 474.1 L127.27 474.62 L128.13 474.53 L129 475 L129.87 475.72 L130.73 477.37 L131.6 478.5 L132.4 478.77 L133.2 479.03 L134 479.3" fill="none" stroke="#111" stroke-width="1.1" stroke-linejoin="round"/>
<line x1="50.4" y1="393.4" x2="50.4" y2="480.2" stroke="#111" stroke-width="1.2"/>
<line x1="49.8" y1="480" x2="162" y2="480" stroke="#111" stroke-width="1.9"/>
<line x1="47.8" y1="458.8" x2="50.4" y2="458.8" stroke="#111" stroke-width="1"/>
<line x1="47.8" y1="438" x2="50.4" y2="438" stroke="#111" stroke-width="1"/>
<line x1="47.8" y1="417.2" x2="50.4" y2="417.2" stroke="#111" stroke-width="1"/>
<line x1="47.8" y1="396.4" x2="50.4" y2="396.4" stroke="#111" stroke-width="1"/>
<line x1="51.4" y1="479.6" x2="51.4" y2="481.8" stroke="#111" stroke-width="0.9"/>
<line x1="57.74" y1="479.6" x2="57.74" y2="480.9" stroke="#111" stroke-width="0.7"/>
<line x1="61.45" y1="479.6" x2="61.45" y2="480.9" stroke="#111" stroke-width="0.7"/>
<line x1="64.08" y1="479.6" x2="64.08" y2="480.9" stroke="#111" stroke-width="0.7"/>
<line x1="66.12" y1="479.6" x2="66.12" y2="480.9" stroke="#111" stroke-width="0.7"/>
<line x1="67.79" y1="479.6" x2="67.79" y2="480.9" stroke="#111" stroke-width="0.7"/>
<line x1="69.19" y1="479.6" x2="69.19" y2="480.9" stroke="#111" stroke-width="0.7"/>
<line x1="70.42" y1="479.6" x2="70.42" y2="480.9" stroke="#111" stroke-width="0.7"/>
<line x1="71.49" y1="479.6" x2="71.49" y2="480.9" stroke="#111" stroke-width="0.7"/>
<line x1="72.46" y1="479.6" x2="72.46" y2="481.8" stroke="#111" stroke-width="0.9"/>
<line x1="78.8" y1="479.6" x2="78.8" y2="480.9" stroke="#111" stroke-width="0.7"/>
<line x1="82.5" y1="479.6" x2="82.5" y2="480.9" stroke="#111" stroke-width="0.7"/>
<line x1="85.13" y1="479.6" x2="85.13" y2="480.9" stroke="#111" stroke-width="0.7"/>
<line x1="87.17" y1="479.6" x2="87.17" y2="480.9" stroke="#111" stroke-width="0.7"/>
<line x1="88.84" y1="479.6" x2="88.84" y2="480.9" stroke="#111" stroke-width="0.7"/>
<line x1="90.25" y1="479.6" x2="90.25" y2="480.9" stroke="#111" stroke-width="0.7"/>
<line x1="91.47" y1="479.6" x2="91.47" y2="480.9" stroke="#111" stroke-width="0.7"/>
<line x1="92.55" y1="479.6" x2="92.55" y2="480.9" stroke="#111" stroke-width="0.7"/>
<line x1="93.51" y1="479.6" x2="93.51" y2="481.8" stroke="#111" stroke-width="0.9"/>
<line x1="99.85" y1="479.6" x2="99.85" y2="480.9" stroke="#111" stroke-width="0.7"/>
<line x1="103.56" y1="479.6" x2="103.56" y2="480.9" stroke="#111" stroke-width="0.7"/>
<line x1="106.19" y1="479.6" x2="106.19" y2="480.9" stroke="#111" stroke-width="0.7"/>
<line x1="108.23" y1="479.6" x2="108.23" y2="480.9" stroke="#111" stroke-width="0.7"/>
<line x1="109.9" y1="479.6" x2="109.9" y2="480.9" stroke="#111" stroke-width="0.7"/>
<line x1="111.31" y1="479.6" x2="111.31" y2="480.9" stroke="#111" stroke-width="0.7"/>
<line x1="112.53" y1="479.6" x2="112.53" y2="480.9" stroke="#111" stroke-width="0.7"/>
<line x1="113.61" y1="479.6" x2="113.61" y2="480.9" stroke="#111" stroke-width="0.7"/>
<line x1="114.57" y1="479.6" x2="114.57" y2="481.8" stroke="#111" stroke-width="0.9"/>
<line x1="120.91" y1="479.6" x2="120.91" y2="480.9" stroke="#111" stroke-width="0.7"/>
<line x1="124.62" y1="479.6" x2="124.62" y2="480.9" stroke="#111" stroke-width="0.7"/>
<line x1="127.25" y1="479.6" x2="127.25" y2="480.9" stroke="#111" stroke-width="0.7"/>
<line x1="129.29" y1="479.6" x2="129.29" y2="480.9" stroke="#111" stroke-width="0.7"/>
<line x1="130.96" y1="479.6" x2="130.96" y2="480.9" stroke="#111" stroke-width="0.7"/>
<line x1="132.36" y1="479.6" x2="132.36" y2="480.9" stroke="#111" stroke-width="0.7"/>
<line x1="133.59" y1="479.6" x2="133.59" y2="480.9" stroke="#111" stroke-width="0.7"/>
<line x1="134.66" y1="479.6" x2="134.66" y2="480.9" stroke="#111" stroke-width="0.7"/>
<line x1="135.63" y1="479.6" x2="135.63" y2="481.8" stroke="#111" stroke-width="0.9"/>
<line x1="141.97" y1="479.6" x2="141.97" y2="480.9" stroke="#111" stroke-width="0.7"/>
<line x1="145.67" y1="479.6" x2="145.67" y2="480.9" stroke="#111" stroke-width="0.7"/>
<line x1="148.3" y1="479.6" x2="148.3" y2="480.9" stroke="#111" stroke-width="0.7"/>
<line x1="150.34" y1="479.6" x2="150.34" y2="480.9" stroke="#111" stroke-width="0.7"/>
<line x1="152.01" y1="479.6" x2="152.01" y2="480.9" stroke="#111" stroke-width="0.7"/>
<line x1="153.42" y1="479.6" x2="153.42" y2="480.9" stroke="#111" stroke-width="0.7"/>
<line x1="154.64" y1="479.6" x2="154.64" y2="480.9" stroke="#111" stroke-width="0.7"/>
<line x1="155.72" y1="479.6" x2="155.72" y2="480.9" stroke="#111" stroke-width="0.7"/>
<line x1="156.68" y1="479.6" x2="156.68" y2="481.8" stroke="#111" stroke-width="0.9"/>
<line x1="39.2" y1="446.7" x2="39.2" y2="400.1" stroke="#231f20" stroke-width="1.1"/>
<path d="M39.2 396.4L41.4 400.6L37 400.6Z" fill="#231f20"/>
<text x="41.3" y="478.4" font-size="8" textLength="27.7" lengthAdjust="spacingAndGlyphs" transform="rotate(-90 41.3 478.4)">% of Max</text>
<text x="50.5" y="493.7" font-size="8.4" textLength="29.5" lengthAdjust="spacingAndGlyphs">Annexin V</text>
<line x1="83.5" y1="490.7" x2="153.2" y2="490.7" stroke="#231f20" stroke-width="1.1"/>
<path d="M156.3 490.7L152.7 492.5L152.7 488.9Z" fill="#231f20"/>
<line x1="130.6" y1="384.9" x2="137.8" y2="384.9" stroke="#222" stroke-width="1.5"/>
<text x="141" y="387.2" font-size="8" textLength="18.8" lengthAdjust="spacingAndGlyphs">Fresh</text>
<rect x="131.5" y="394.1" width="5.2" height="5.2" fill="#e86a6a" stroke="#5a1616" stroke-width="1.3"/>
<text x="141" y="398.9" font-size="8" textLength="12.4" lengthAdjust="spacingAndGlyphs">Old</text>
<line x1="50.3" y1="512.4" x2="50.3" y2="593.7" stroke="#231f20" stroke-width="1.25"/>
<line x1="47.1" y1="593.1" x2="50.3" y2="593.1" stroke="#231f20" stroke-width="1.1"/>
<text x="44.7" y="595.9" font-size="8.4" text-anchor="end">0</text>
<line x1="47.1" y1="574.2" x2="50.3" y2="574.2" stroke="#231f20" stroke-width="1.1"/>
<text x="44.7" y="577" font-size="8.4" text-anchor="end">10</text>
<line x1="47.1" y1="555.5" x2="50.3" y2="555.5" stroke="#231f20" stroke-width="1.1"/>
<text x="44.7" y="558.3" font-size="8.4" text-anchor="end">20</text>
<line x1="47.1" y1="536.7" x2="50.3" y2="536.7" stroke="#231f20" stroke-width="1.1"/>
<text x="44.7" y="539.5" font-size="8.4" text-anchor="end">30</text>
<line x1="47.1" y1="516" x2="50.3" y2="516" stroke="#231f20" stroke-width="1.1"/>
<text x="44.7" y="518.8" font-size="8.4" text-anchor="end">40</text>
<line x1="47.1" y1="593.1" x2="163" y2="593.1" stroke="#231f20" stroke-width="1.3"/>
<line x1="64.4" y1="593.1" x2="64.4" y2="596.3" stroke="#231f20" stroke-width="1.1"/>
<line x1="93.1" y1="593.1" x2="93.1" y2="596.3" stroke="#231f20" stroke-width="1.1"/>
<line x1="121.2" y1="593.1" x2="121.2" y2="596.3" stroke="#231f20" stroke-width="1.1"/>
<line x1="149.6" y1="593.1" x2="149.6" y2="596.3" stroke="#231f20" stroke-width="1.1"/>
<text x="61.6" y="606.8" font-size="9.4" text-anchor="middle" textLength="26.8" lengthAdjust="spacingAndGlyphs">2 hours</text>
<text x="93.1" y="606.8" font-size="9.4" text-anchor="middle" textLength="28.2" lengthAdjust="spacingAndGlyphs">5 hours</text>
<text x="122" y="606.8" font-size="9.4" text-anchor="middle" textLength="20" lengthAdjust="spacingAndGlyphs">1 day</text>
<text x="150.4" y="606.8" font-size="9.4" text-anchor="middle" textLength="23.5" lengthAdjust="spacingAndGlyphs">2 days</text>
<text x="28.6" y="548.6" font-size="8.6" text-anchor="middle" textLength="57.5" lengthAdjust="spacingAndGlyphs" transform="rotate(-90 28.6 548.6)">Annexin V<tspan dy="-2.6" font-size="5.6">+</tspan><tspan dy="2.6"> (%)</tspan></text>
<circle cx="115.6" cy="517.6" r="1.8" fill="#fff" stroke="#a3173f" stroke-width="1.3"/>
<text x="121" y="520.4" font-size="7.9" textLength="40" lengthAdjust="spacingAndGlyphs">Fresh RBCs</text>
<circle cx="115.6" cy="529.6" r="1.5" fill="#263b6d"/>
<text x="121" y="532.4" font-size="7.9" textLength="33.6" lengthAdjust="spacingAndGlyphs">Old RBCs</text>
<circle cx="55.8" cy="581.6" r="1.9" fill="#fff" stroke="#a3173f" stroke-width="1.45"/>
<circle cx="59" cy="583.8" r="1.9" fill="#fff" stroke="#a3173f" stroke-width="1.45"/>
<circle cx="62.4" cy="582" r="1.9" fill="#fff" stroke="#a3173f" stroke-width="1.45"/>
<circle cx="58.8" cy="580.6" r="1.9" fill="#fff" stroke="#a3173f" stroke-width="1.45"/>
<circle cx="70.2" cy="567.6" r="1.7" fill="#263b6d"/>
<circle cx="70.2" cy="572" r="1.7" fill="#263b6d"/>
<circle cx="68.6" cy="574.2" r="1.7" fill="#263b6d"/>
<circle cx="71.8" cy="574.2" r="1.7" fill="#263b6d"/>
<line x1="67.4" y1="571.4" x2="73" y2="571.4" stroke="#263b6d" stroke-width="1"/>
<circle cx="85.8" cy="577.4" r="1.9" fill="#fff" stroke="#a3173f" stroke-width="1.45"/>
<circle cx="88" cy="580" r="1.9" fill="#fff" stroke="#a3173f" stroke-width="1.45"/>
<circle cx="90.4" cy="577.4" r="1.9" fill="#fff" stroke="#a3173f" stroke-width="1.45"/>
<circle cx="88.8" cy="578.6" r="1.9" fill="#fff" stroke="#a3173f" stroke-width="1.45"/>
<line x1="98.9" y1="535.3" x2="98.9" y2="552.2" stroke="#263b6d" stroke-width="1"/>
<line x1="96.5" y1="535.3" x2="101.3" y2="535.3" stroke="#263b6d" stroke-width="1"/>
<line x1="96.5" y1="552.2" x2="101.3" y2="552.2" stroke="#263b6d" stroke-width="1"/>
<line x1="95.1" y1="543.7" x2="102.7" y2="543.7" stroke="#263b6d" stroke-width="1.1"/>
<circle cx="98.9" cy="539.3" r="1.7" fill="#263b6d"/>
<circle cx="98.9" cy="556.6" r="1.7" fill="#263b6d"/>
<line x1="88" y1="529.3" x2="99.4" y2="529.3" stroke="#231f20" stroke-width="1.4"/>
<circle cx="88" cy="525.3" r="1.2" fill="#1a1a1a"/>
<circle cx="91.6" cy="525.3" r="1.2" fill="#1a1a1a"/>
<circle cx="95.2" cy="525.3" r="1.2" fill="#1a1a1a"/>
<circle cx="98.8" cy="525.3" r="1.2" fill="#1a1a1a"/>
<line x1="115.8" y1="575.5" x2="115.8" y2="584" stroke="#a3173f" stroke-width="1"/>
<line x1="115.8" y1="575.5" x2="115.8" y2="575.5" stroke="#a3173f" stroke-width="1"/>
<line x1="115.8" y1="584" x2="115.8" y2="584" stroke="#a3173f" stroke-width="1"/>
<line x1="112.3" y1="579.5" x2="119.3" y2="579.5" stroke="#a3173f" stroke-width="1.1"/>
<circle cx="114.8" cy="575" r="1.9" fill="#fff" stroke="#a3173f" stroke-width="1.45"/>
<circle cx="115.4" cy="579" r="1.9" fill="#fff" stroke="#a3173f" stroke-width="1.45"/>
<circle cx="119" cy="581" r="1.9" fill="#fff" stroke="#a3173f" stroke-width="1.45"/>
<circle cx="114.8" cy="585" r="1.9" fill="#fff" stroke="#a3173f" stroke-width="1.45"/>
<circle cx="124.6" cy="575.6" r="1.7" fill="#263b6d"/>
<circle cx="127" cy="573.6" r="1.7" fill="#263b6d"/>
<circle cx="129.5" cy="571" r="1.7" fill="#263b6d"/>
<circle cx="126.4" cy="576" r="1.7" fill="#263b6d"/>
<line x1="123.5" y1="574" x2="130" y2="574" stroke="#263b6d" stroke-width="1"/>
<line x1="144" y1="578" x2="144" y2="584" stroke="#a3173f" stroke-width="1"/>
<line x1="144" y1="578" x2="144" y2="578" stroke="#a3173f" stroke-width="1"/>
<line x1="144" y1="584" x2="144" y2="584" stroke="#a3173f" stroke-width="1"/>
<line x1="140.5" y1="580.6" x2="147.5" y2="580.6" stroke="#a3173f" stroke-width="1.1"/>
<circle cx="144" cy="578" r="1.9" fill="#fff" stroke="#a3173f" stroke-width="1.45"/>
<circle cx="144" cy="580.6" r="1.9" fill="#fff" stroke="#a3173f" stroke-width="1.45"/>
<circle cx="144" cy="584" r="1.9" fill="#fff" stroke="#a3173f" stroke-width="1.45"/>
<circle cx="152.6" cy="579" r="1.7" fill="#263b6d"/>
<circle cx="155" cy="580.6" r="1.7" fill="#263b6d"/>
<circle cx="157.4" cy="577.6" r="1.7" fill="#263b6d"/>
<circle cx="154.6" cy="582.2" r="1.7" fill="#263b6d"/>
<line x1="151" y1="579.6" x2="158.6" y2="579.6" stroke="#263b6d" stroke-width="1"/>
<text x="181" y="379.1" font-size="11.2" font-weight="bold" fill="#000">G</text>
<path d="M247 478.6 L247.9 477.59 L248.8 476.4 L249.7 475.4 L250.57 474.94 L251.43 473.68 L252.3 472.7 L253.2 473.51 L254.1 475.34 L255 476.3 L255.85 477.77 L256.7 478 L257.6 475.16 L258.5 471 L259.37 468.84 L260.23 466.74 L261.1 466.6 L262 465.29 L262.9 465.45 L263.8 464.8 L264.67 464.3 L265.53 468.71 L266.4 471 L267.3 467.08 L268.2 464.89 L269.1 463.1 L269.95 461.04 L270.8 460.4 L271.7 463.11 L272.6 466.6 L273.45 463.57 L274.3 459.5 L275.2 458.99 L276.1 455.24 L277 453.4 L277.87 454.7 L278.73 450.51 L279.6 450.7 L280.5 448.66 L281.4 446.97 L282.3 442.8 L283.17 442.66 L284.03 440.94 L284.9 441.9 L285.8 442.08 L286.7 445.4 L287.55 443.77 L288.4 443.7 L289.3 446.72 L290.2 449 L291.1 439.33 L292 433.1 L292.85 425.69 L293.7 419 L294.6 409.93 L295.5 401.4 L296.7 384.7 L297.4 389.57 L298.1 392.6 L299 401.76 L299.9 410.2 L300.77 413.74 L301.63 414.96 L302.5 419 L303.4 422.91 L304.3 428.6 L305.2 431.4 L306.07 436.87 L306.93 435.13 L307.8 440.2 L308.67 445.71 L309.53 448.35 L310.4 449 L311.3 458.05 L312.2 464.8 L313.1 469.46 L314 473.6 L315.05 469.8 L316.1 466.6 L316.8 469.86 L317.5 470.1 L318.4 475.08 L319.3 477.1 L320.17 478.17 L321.03 478.16 L321.9 477.99 L322.77 478.1 L323.63 478.35 L324.5 478.6 L324.5 479.5 L247 479.5 Z" fill="#80c480"/>
<path d="M247 478.6 L247.9 477.59 L248.8 476.4 L249.7 475.4 L250.57 474.94 L251.43 473.68 L252.3 472.7 L253.2 473.51 L254.1 475.34 L255 476.3 L255.85 477.77 L256.7 478 L257.6 475.16 L258.5 471 L259.37 468.84 L260.23 466.74 L261.1 466.6 L262 465.29 L262.9 465.45 L263.8 464.8 L264.67 464.3 L265.53 468.71 L266.4 471 L267.3 467.08 L268.2 464.89 L269.1 463.1 L269.95 461.04 L270.8 460.4 L271.7 463.11 L272.6 466.6 L273.45 463.57 L274.3 459.5 L275.2 458.99 L276.1 455.24 L277 453.4 L277.87 454.7 L278.73 450.51 L279.6 450.7 L280.5 448.66 L281.4 446.97 L282.3 442.8 L283.17 442.66 L284.03 440.94 L284.9 441.9 L285.8 442.08 L286.7 445.4 L287.55 443.77 L288.4 443.7 L289.3 446.72 L290.2 449 L291.1 439.33 L292 433.1 L292.85 425.69 L293.7 419 L294.6 409.93 L295.5 401.4 L296.7 384.7 L297.4 389.57 L298.1 392.6 L299 401.76 L299.9 410.2 L300.77 413.74 L301.63 414.96 L302.5 419 L303.4 422.91 L304.3 428.6 L305.2 431.4 L306.07 436.87 L306.93 435.13 L307.8 440.2 L308.67 445.71 L309.53 448.35 L310.4 449 L311.3 458.05 L312.2 464.8 L313.1 469.46 L314 473.6 L315.05 469.8 L316.1 466.6 L316.8 469.86 L317.5 470.1 L318.4 475.08 L319.3 477.1 L320.17 478.17 L321.03 478.16 L321.9 477.99 L322.77 478.1 L323.63 478.35 L324.5 478.6" fill="none" stroke="#1f8c25" stroke-width="1.25" stroke-linejoin="round"/>
<path d="M268.2 478.9 L269.08 478.32 L269.97 477.8 L270.85 477.33 L271.73 476.65 L272.62 475.63 L273.5 475.4 L274.38 474.29 L275.26 472.73 L276.14 470.91 L277.02 469.99 L277.9 468.3 L278.77 465 L279.65 461.48 L280.52 457.82 L281.4 454.3 L282.25 446.79 L283.1 438.4 L284 423.71 L284.9 410.2 L285.8 402.17 L286.7 394.4 L287.55 388.71 L288.4 383.8 L289.3 388.68 L290.2 392.6 L291.07 398.5 L291.93 404.1 L292.8 410.2 L293.7 414.87 L294.6 420.59 L295.5 426.1 L296.38 430.06 L297.25 433.78 L298.12 438.99 L299 441.9 L299.88 446.23 L300.75 446.78 L301.62 451.04 L302.5 456 L303.38 458.53 L304.25 461.04 L305.12 464.07 L306 466.6 L306.88 468.11 L307.76 470.38 L308.64 470.32 L309.52 472.05 L310.4 473.6 L311.28 475.15 L312.16 475.55 L313.04 476.41 L313.92 477 L314.8 478" fill="none" stroke="#111" stroke-width="1.1" stroke-linejoin="round"/>
<line x1="219" y1="380.4" x2="219" y2="480.1" stroke="#111" stroke-width="1.2"/>
<line x1="218.4" y1="479.9" x2="334.5" y2="479.9" stroke="#111" stroke-width="1.9"/>
<line x1="217.2" y1="474.55" x2="219" y2="474.55" stroke="#111" stroke-width="1"/>
<line x1="217.2" y1="469.59" x2="219" y2="469.59" stroke="#111" stroke-width="1"/>
<line x1="217.2" y1="464.63" x2="219" y2="464.63" stroke="#111" stroke-width="1"/>
<line x1="216.4" y1="459.68" x2="219" y2="459.68" stroke="#111" stroke-width="1"/>
<line x1="217.2" y1="454.73" x2="219" y2="454.73" stroke="#111" stroke-width="1"/>
<line x1="217.2" y1="449.77" x2="219" y2="449.77" stroke="#111" stroke-width="1"/>
<line x1="217.2" y1="444.81" x2="219" y2="444.81" stroke="#111" stroke-width="1"/>
<line x1="216.4" y1="439.86" x2="219" y2="439.86" stroke="#111" stroke-width="1"/>
<line x1="217.2" y1="434.9" x2="219" y2="434.9" stroke="#111" stroke-width="1"/>
<line x1="217.2" y1="429.95" x2="219" y2="429.95" stroke="#111" stroke-width="1"/>
<line x1="217.2" y1="425" x2="219" y2="425" stroke="#111" stroke-width="1"/>
<line x1="216.4" y1="420.04" x2="219" y2="420.04" stroke="#111" stroke-width="1"/>
<line x1="217.2" y1="415.08" x2="219" y2="415.08" stroke="#111" stroke-width="1"/>
<line x1="217.2" y1="410.13" x2="219" y2="410.13" stroke="#111" stroke-width="1"/>
<line x1="217.2" y1="405.17" x2="219" y2="405.17" stroke="#111" stroke-width="1"/>
<line x1="216.4" y1="400.22" x2="219" y2="400.22" stroke="#111" stroke-width="1"/>
<line x1="217.2" y1="395.26" x2="219" y2="395.26" stroke="#111" stroke-width="1"/>
<line x1="217.2" y1="390.31" x2="219" y2="390.31" stroke="#111" stroke-width="1"/>
<line x1="217.2" y1="385.35" x2="219" y2="385.35" stroke="#111" stroke-width="1"/>
<line x1="216.4" y1="380.4" x2="219" y2="380.4" stroke="#111" stroke-width="1"/>
<line x1="220" y1="479.5" x2="220" y2="481.7" stroke="#111" stroke-width="0.9"/>
<line x1="226.56" y1="479.5" x2="226.56" y2="480.8" stroke="#111" stroke-width="0.7"/>
<line x1="230.4" y1="479.5" x2="230.4" y2="480.8" stroke="#111" stroke-width="0.7"/>
<line x1="233.12" y1="479.5" x2="233.12" y2="480.8" stroke="#111" stroke-width="0.7"/>
<line x1="235.23" y1="479.5" x2="235.23" y2="480.8" stroke="#111" stroke-width="0.7"/>
<line x1="236.96" y1="479.5" x2="236.96" y2="480.8" stroke="#111" stroke-width="0.7"/>
<line x1="238.42" y1="479.5" x2="238.42" y2="480.8" stroke="#111" stroke-width="0.7"/>
<line x1="239.68" y1="479.5" x2="239.68" y2="480.8" stroke="#111" stroke-width="0.7"/>
<line x1="240.8" y1="479.5" x2="240.8" y2="480.8" stroke="#111" stroke-width="0.7"/>
<line x1="241.79" y1="479.5" x2="241.79" y2="481.7" stroke="#111" stroke-width="0.9"/>
<line x1="248.35" y1="479.5" x2="248.35" y2="480.8" stroke="#111" stroke-width="0.7"/>
<line x1="252.19" y1="479.5" x2="252.19" y2="480.8" stroke="#111" stroke-width="0.7"/>
<line x1="254.91" y1="479.5" x2="254.91" y2="480.8" stroke="#111" stroke-width="0.7"/>
<line x1="257.02" y1="479.5" x2="257.02" y2="480.8" stroke="#111" stroke-width="0.7"/>
<line x1="258.75" y1="479.5" x2="258.75" y2="480.8" stroke="#111" stroke-width="0.7"/>
<line x1="260.21" y1="479.5" x2="260.21" y2="480.8" stroke="#111" stroke-width="0.7"/>
<line x1="261.47" y1="479.5" x2="261.47" y2="480.8" stroke="#111" stroke-width="0.7"/>
<line x1="262.59" y1="479.5" x2="262.59" y2="480.8" stroke="#111" stroke-width="0.7"/>
<line x1="263.58" y1="479.5" x2="263.58" y2="481.7" stroke="#111" stroke-width="0.9"/>
<line x1="270.15" y1="479.5" x2="270.15" y2="480.8" stroke="#111" stroke-width="0.7"/>
<line x1="273.98" y1="479.5" x2="273.98" y2="480.8" stroke="#111" stroke-width="0.7"/>
<line x1="276.71" y1="479.5" x2="276.71" y2="480.8" stroke="#111" stroke-width="0.7"/>
<line x1="278.82" y1="479.5" x2="278.82" y2="480.8" stroke="#111" stroke-width="0.7"/>
<line x1="280.54" y1="479.5" x2="280.54" y2="480.8" stroke="#111" stroke-width="0.7"/>
<line x1="282" y1="479.5" x2="282" y2="480.8" stroke="#111" stroke-width="0.7"/>
<line x1="283.27" y1="479.5" x2="283.27" y2="480.8" stroke="#111" stroke-width="0.7"/>
<line x1="284.38" y1="479.5" x2="284.38" y2="480.8" stroke="#111" stroke-width="0.7"/>
<line x1="285.38" y1="479.5" x2="285.38" y2="481.7" stroke="#111" stroke-width="0.9"/>
<line x1="291.94" y1="479.5" x2="291.94" y2="480.8" stroke="#111" stroke-width="0.7"/>
<line x1="295.78" y1="479.5" x2="295.78" y2="480.8" stroke="#111" stroke-width="0.7"/>
<line x1="298.5" y1="479.5" x2="298.5" y2="480.8" stroke="#111" stroke-width="0.7"/>
<line x1="300.61" y1="479.5" x2="300.61" y2="480.8" stroke="#111" stroke-width="0.7"/>
<line x1="302.34" y1="479.5" x2="302.34" y2="480.8" stroke="#111" stroke-width="0.7"/>
<line x1="303.79" y1="479.5" x2="303.79" y2="480.8" stroke="#111" stroke-width="0.7"/>
<line x1="305.06" y1="479.5" x2="305.06" y2="480.8" stroke="#111" stroke-width="0.7"/>
<line x1="306.17" y1="479.5" x2="306.17" y2="480.8" stroke="#111" stroke-width="0.7"/>
<line x1="307.17" y1="479.5" x2="307.17" y2="481.7" stroke="#111" stroke-width="0.9"/>
<line x1="313.73" y1="479.5" x2="313.73" y2="480.8" stroke="#111" stroke-width="0.7"/>
<line x1="317.57" y1="479.5" x2="317.57" y2="480.8" stroke="#111" stroke-width="0.7"/>
<line x1="320.29" y1="479.5" x2="320.29" y2="480.8" stroke="#111" stroke-width="0.7"/>
<line x1="322.4" y1="479.5" x2="322.4" y2="480.8" stroke="#111" stroke-width="0.7"/>
<line x1="324.13" y1="479.5" x2="324.13" y2="480.8" stroke="#111" stroke-width="0.7"/>
<line x1="325.59" y1="479.5" x2="325.59" y2="480.8" stroke="#111" stroke-width="0.7"/>
<line x1="326.85" y1="479.5" x2="326.85" y2="480.8" stroke="#111" stroke-width="0.7"/>
<line x1="327.97" y1="479.5" x2="327.97" y2="480.8" stroke="#111" stroke-width="0.7"/>
<line x1="328.96" y1="479.5" x2="328.96" y2="481.7" stroke="#111" stroke-width="0.9"/>
<line x1="208.1" y1="448" x2="208.1" y2="387.4" stroke="#231f20" stroke-width="1.1"/>
<path d="M208.1 383.7L210.3 387.9L205.9 387.9Z" fill="#231f20"/>
<text x="210.2" y="479.6" font-size="8" textLength="27.7" lengthAdjust="spacingAndGlyphs" transform="rotate(-90 210.2 479.6)">% of Max</text>
<text x="224.5" y="493.5" font-size="8.4" textLength="37.5" lengthAdjust="spacingAndGlyphs">FITC (DCFDA)</text>
<line x1="265" y1="490.5" x2="328.2" y2="490.5" stroke="#231f20" stroke-width="1.1"/>
<path d="M331.3 490.5L327.7 492.3L327.7 488.7Z" fill="#231f20"/>
<line x1="308.6" y1="385" x2="315.8" y2="385" stroke="#222" stroke-width="1.5"/>
<text x="319" y="387.3" font-size="8" textLength="18.8" lengthAdjust="spacingAndGlyphs">Fresh</text>
<rect x="309.5" y="394.2" width="5.2" height="5.2" fill="#8cc488" stroke="#1c3a1c" stroke-width="1.3"/>
<text x="319" y="399" font-size="8" textLength="12.4" lengthAdjust="spacingAndGlyphs">Old</text>
<line x1="218.5" y1="524.6" x2="218.5" y2="593.5" stroke="#231f20" stroke-width="1.25"/>
<line x1="215.3" y1="592.9" x2="218.5" y2="592.9" stroke="#231f20" stroke-width="1.1"/>
<text x="212.6" y="595.7" font-size="8.4" text-anchor="end">0</text>
<line x1="215.3" y1="576.3" x2="218.5" y2="576.3" stroke="#231f20" stroke-width="1.1"/>
<text x="212.6" y="579.1" font-size="8.4" text-anchor="end">10</text>
<line x1="215.3" y1="560" x2="218.5" y2="560" stroke="#231f20" stroke-width="1.1"/>
<text x="212.6" y="562.8" font-size="8.4" text-anchor="end">20</text>
<line x1="215.3" y1="543.6" x2="218.5" y2="543.6" stroke="#231f20" stroke-width="1.1"/>
<text x="212.6" y="546.4" font-size="8.4" text-anchor="end">30</text>
<line x1="215.3" y1="527" x2="218.5" y2="527" stroke="#231f20" stroke-width="1.1"/>
<text x="212.6" y="529.8" font-size="8.4" text-anchor="end">40</text>
<line x1="215.3" y1="592.9" x2="315.4" y2="592.9" stroke="#231f20" stroke-width="1.3"/>
<line x1="244.6" y1="592.9" x2="244.6" y2="596.1" stroke="#231f20" stroke-width="1.1"/>
<line x1="293.2" y1="592.9" x2="293.2" y2="596.1" stroke="#231f20" stroke-width="1.1"/>
<text x="197.4" y="558.5" font-size="8.6" text-anchor="middle" textLength="43.6" lengthAdjust="spacingAndGlyphs" transform="rotate(-90 197.4 558.5)">DCFDA<tspan dy="-2.6" font-size="5.6">+</tspan><tspan dy="2.6"> (%)</tspan></text>
<line x1="243" y1="539.2" x2="293.8" y2="539.2" stroke="#231f20" stroke-width="1.3"/>
<circle cx="265.8" cy="535" r="1.2" fill="#1a1a1a"/>
<circle cx="269.7" cy="535" r="1.2" fill="#1a1a1a"/>
<line x1="232.3" y1="566.2" x2="258.5" y2="566.2" stroke="#a3173f" stroke-width="1.2"/>
<line x1="237" y1="561.5" x2="252.3" y2="561.5" stroke="#a3173f" stroke-width="1.1"/>
<line x1="237" y1="571.4" x2="252.3" y2="571.4" stroke="#a3173f" stroke-width="1.1"/>
<line x1="244.6" y1="561.5" x2="244.6" y2="571.4" stroke="#a3173f" stroke-width="1.1"/>
<circle cx="241" cy="561.2" r="1.8" fill="#fff" stroke="#a3173f" stroke-width="1.45"/>
<circle cx="248.2" cy="565.2" r="1.8" fill="#fff" stroke="#a3173f" stroke-width="1.45"/>
<circle cx="243" cy="568" r="1.8" fill="#fff" stroke="#a3173f" stroke-width="1.45"/>
<circle cx="240" cy="572" r="1.8" fill="#fff" stroke="#a3173f" stroke-width="1.45"/>
<line x1="283" y1="553.2" x2="308.6" y2="553.2" stroke="#263b6d" stroke-width="1.2"/>
<line x1="286" y1="547.7" x2="300.6" y2="547.7" stroke="#263b6d" stroke-width="1.1"/>
<line x1="286" y1="559.4" x2="300.6" y2="559.4" stroke="#263b6d" stroke-width="1.1"/>
<line x1="293.2" y1="547.7" x2="293.2" y2="559.4" stroke="#263b6d" stroke-width="1.1"/>
<circle cx="293.2" cy="547.7" r="1.6" fill="#263b6d"/>
<circle cx="293.2" cy="553.2" r="1.6" fill="#263b6d"/>
<circle cx="293.2" cy="559.4" r="1.6" fill="#263b6d"/>
<text x="244.6" y="606.2" font-size="8.3" text-anchor="middle" textLength="20.6" lengthAdjust="spacingAndGlyphs">Fresh</text>
<text x="244.6" y="616.6" font-size="8.3" text-anchor="middle" textLength="20" lengthAdjust="spacingAndGlyphs">RBCs</text>
<text x="293.2" y="606.2" font-size="8.3" text-anchor="middle" textLength="13.5" lengthAdjust="spacingAndGlyphs">Old</text>
<text x="293.4" y="616.6" font-size="8.3" text-anchor="middle" textLength="19.5" lengthAdjust="spacingAndGlyphs">RBCs</text>
<text x="351" y="379.1" font-size="11.2" font-weight="bold" fill="#000">H</text>
<path d="M413.6 479.4L414.6 476.6L418.6 476.6L419.6 479.4Z" fill="#c585c6" stroke="#86208a" stroke-width="0.9"/>
<path d="M434.7 478.4 L435.57 476.53 L436.43 474.44 L437.3 472.6 L438.2 471.42 L439.1 469.17 L440 467.3 L440.85 465.39 L441.7 464.7 L442.6 467.74 L443.5 470 L444.35 469.98 L445.2 467.3 L446.1 464.53 L447 459.4 L447.85 456.17 L448.7 455 L449.6 452.75 L450.5 453.43 L451.4 454.1 L452.25 452.42 L453.1 450.6 L454 444.88 L454.9 446.69 L455.8 445.3 L456.67 440.25 L457.53 438.19 L458.4 436.5 L459.3 432.07 L460.2 429.5 L461.05 421.91 L461.9 415.4 L462.8 406.45 L463.7 396.1 L464.55 392.57 L465.4 385.5 L466.3 391.48 L467.2 397.9 L468.1 410.77 L469 419 L469.7 424.02 L470.4 431.3 L471.6 419 L472.5 412.55 L473.4 404.9 L474.25 404.24 L475.1 400.5 L476 403.31 L476.9 405.8 L477.75 411.14 L478.6 419 L479.5 428.83 L480.4 441.8 L481.25 451.61 L482.1 462.9 L483 468.43 L483.9 473.5 L484.77 470.23 L485.63 468.55 L486.5 466.4 L487.4 468 L488.3 470.45 L489.2 471.7 L490.07 473.33 L490.93 474.87 L491.8 476.1 L492.7 476.54 L493.6 477.58 L494.5 478.4 L494.5 479.4 L434.7 479.4 Z" fill="#c585c6"/>
<path d="M434.7 478.4 L435.57 476.53 L436.43 474.44 L437.3 472.6 L438.2 471.42 L439.1 469.17 L440 467.3 L440.85 465.39 L441.7 464.7 L442.6 467.74 L443.5 470 L444.35 469.98 L445.2 467.3 L446.1 464.53 L447 459.4 L447.85 456.17 L448.7 455 L449.6 452.75 L450.5 453.43 L451.4 454.1 L452.25 452.42 L453.1 450.6 L454 444.88 L454.9 446.69 L455.8 445.3 L456.67 440.25 L457.53 438.19 L458.4 436.5 L459.3 432.07 L460.2 429.5 L461.05 421.91 L461.9 415.4 L462.8 406.45 L463.7 396.1 L464.55 392.57 L465.4 385.5 L466.3 391.48 L467.2 397.9 L468.1 410.77 L469 419 L469.7 424.02 L470.4 431.3 L471.6 419 L472.5 412.55 L473.4 404.9 L474.25 404.24 L475.1 400.5 L476 403.31 L476.9 405.8 L477.75 411.14 L478.6 419 L479.5 428.83 L480.4 441.8 L481.25 451.61 L482.1 462.9 L483 468.43 L483.9 473.5 L484.77 470.23 L485.63 468.55 L486.5 466.4 L487.4 468 L488.3 470.45 L489.2 471.7 L490.07 473.33 L490.93 474.87 L491.8 476.1 L492.7 476.54 L493.6 477.58 L494.5 478.4" fill="none" stroke="#86208a" stroke-width="1.25" stroke-linejoin="round"/>
<path d="M442.6 478.7 L443.48 476.61 L444.35 474.62 L445.23 472.3 L446.1 470 L446.98 464.89 L447.85 461.76 L448.73 457.11 L449.6 452.4 L450.5 444.94 L451.4 438.8 L452.3 431.3 L453.15 421.04 L454 410.2 L454.9 403.39 L455.8 396.1 L456.67 392.59 L457.53 389.47 L458.4 385.5 L459.27 384.91 L460.13 385.37 L461 385.5 L461.9 388.66 L462.8 392.6 L463.7 401.88 L464.6 410.2 L465.47 416.07 L466.33 421.63 L467.2 427.7 L468.07 432.94 L468.93 439.23 L469.8 445.3 L470.7 450.01 L471.6 454.5 L472.5 459.4 L473.38 462.84 L474.25 465.26 L475.12 465.98 L476 470 L476.88 470.75 L477.75 472.99 L478.62 474.44 L479.5 476.1 L480.38 476.73 L481.25 477.3 L482.12 478.21 L483 478.4" fill="none" stroke="#111" stroke-width="1.1" stroke-linejoin="round"/>
<line x1="389.5" y1="380.8" x2="389.5" y2="480" stroke="#111" stroke-width="1.2"/>
<line x1="388.9" y1="479.8" x2="510" y2="479.8" stroke="#111" stroke-width="1.9"/>
<line x1="387.7" y1="474.47" x2="389.5" y2="474.47" stroke="#111" stroke-width="1"/>
<line x1="387.7" y1="469.54" x2="389.5" y2="469.54" stroke="#111" stroke-width="1"/>
<line x1="387.7" y1="464.61" x2="389.5" y2="464.61" stroke="#111" stroke-width="1"/>
<line x1="386.9" y1="459.68" x2="389.5" y2="459.68" stroke="#111" stroke-width="1"/>
<line x1="387.7" y1="454.75" x2="389.5" y2="454.75" stroke="#111" stroke-width="1"/>
<line x1="387.7" y1="449.82" x2="389.5" y2="449.82" stroke="#111" stroke-width="1"/>
<line x1="387.7" y1="444.89" x2="389.5" y2="444.89" stroke="#111" stroke-width="1"/>
<line x1="386.9" y1="439.96" x2="389.5" y2="439.96" stroke="#111" stroke-width="1"/>
<line x1="387.7" y1="435.03" x2="389.5" y2="435.03" stroke="#111" stroke-width="1"/>
<line x1="387.7" y1="430.1" x2="389.5" y2="430.1" stroke="#111" stroke-width="1"/>
<line x1="387.7" y1="425.17" x2="389.5" y2="425.17" stroke="#111" stroke-width="1"/>
<line x1="386.9" y1="420.24" x2="389.5" y2="420.24" stroke="#111" stroke-width="1"/>
<line x1="387.7" y1="415.31" x2="389.5" y2="415.31" stroke="#111" stroke-width="1"/>
<line x1="387.7" y1="410.38" x2="389.5" y2="410.38" stroke="#111" stroke-width="1"/>
<line x1="387.7" y1="405.45" x2="389.5" y2="405.45" stroke="#111" stroke-width="1"/>
<line x1="386.9" y1="400.52" x2="389.5" y2="400.52" stroke="#111" stroke-width="1"/>
<line x1="387.7" y1="395.59" x2="389.5" y2="395.59" stroke="#111" stroke-width="1"/>
<line x1="387.7" y1="390.66" x2="389.5" y2="390.66" stroke="#111" stroke-width="1"/>
<line x1="387.7" y1="385.73" x2="389.5" y2="385.73" stroke="#111" stroke-width="1"/>
<line x1="386.9" y1="380.8" x2="389.5" y2="380.8" stroke="#111" stroke-width="1"/>
<line x1="390.5" y1="479.4" x2="390.5" y2="481.6" stroke="#111" stroke-width="0.9"/>
<line x1="397.34" y1="479.4" x2="397.34" y2="480.7" stroke="#111" stroke-width="0.7"/>
<line x1="401.35" y1="479.4" x2="401.35" y2="480.7" stroke="#111" stroke-width="0.7"/>
<line x1="404.19" y1="479.4" x2="404.19" y2="480.7" stroke="#111" stroke-width="0.7"/>
<line x1="406.39" y1="479.4" x2="406.39" y2="480.7" stroke="#111" stroke-width="0.7"/>
<line x1="408.19" y1="479.4" x2="408.19" y2="480.7" stroke="#111" stroke-width="0.7"/>
<line x1="409.71" y1="479.4" x2="409.71" y2="480.7" stroke="#111" stroke-width="0.7"/>
<line x1="411.03" y1="479.4" x2="411.03" y2="480.7" stroke="#111" stroke-width="0.7"/>
<line x1="412.2" y1="479.4" x2="412.2" y2="480.7" stroke="#111" stroke-width="0.7"/>
<line x1="413.24" y1="479.4" x2="413.24" y2="481.6" stroke="#111" stroke-width="0.9"/>
<line x1="420.08" y1="479.4" x2="420.08" y2="480.7" stroke="#111" stroke-width="0.7"/>
<line x1="424.08" y1="479.4" x2="424.08" y2="480.7" stroke="#111" stroke-width="0.7"/>
<line x1="426.92" y1="479.4" x2="426.92" y2="480.7" stroke="#111" stroke-width="0.7"/>
<line x1="429.13" y1="479.4" x2="429.13" y2="480.7" stroke="#111" stroke-width="0.7"/>
<line x1="430.93" y1="479.4" x2="430.93" y2="480.7" stroke="#111" stroke-width="0.7"/>
<line x1="432.45" y1="479.4" x2="432.45" y2="480.7" stroke="#111" stroke-width="0.7"/>
<line x1="433.77" y1="479.4" x2="433.77" y2="480.7" stroke="#111" stroke-width="0.7"/>
<line x1="434.93" y1="479.4" x2="434.93" y2="480.7" stroke="#111" stroke-width="0.7"/>
<line x1="435.97" y1="479.4" x2="435.97" y2="481.6" stroke="#111" stroke-width="0.9"/>
<line x1="442.82" y1="479.4" x2="442.82" y2="480.7" stroke="#111" stroke-width="0.7"/>
<line x1="446.82" y1="479.4" x2="446.82" y2="480.7" stroke="#111" stroke-width="0.7"/>
<line x1="449.66" y1="479.4" x2="449.66" y2="480.7" stroke="#111" stroke-width="0.7"/>
<line x1="451.86" y1="479.4" x2="451.86" y2="480.7" stroke="#111" stroke-width="0.7"/>
<line x1="453.66" y1="479.4" x2="453.66" y2="480.7" stroke="#111" stroke-width="0.7"/>
<line x1="455.19" y1="479.4" x2="455.19" y2="480.7" stroke="#111" stroke-width="0.7"/>
<line x1="456.5" y1="479.4" x2="456.5" y2="480.7" stroke="#111" stroke-width="0.7"/>
<line x1="457.67" y1="479.4" x2="457.67" y2="480.7" stroke="#111" stroke-width="0.7"/>
<line x1="458.71" y1="479.4" x2="458.71" y2="481.6" stroke="#111" stroke-width="0.9"/>
<line x1="465.55" y1="479.4" x2="465.55" y2="480.7" stroke="#111" stroke-width="0.7"/>
<line x1="469.56" y1="479.4" x2="469.56" y2="480.7" stroke="#111" stroke-width="0.7"/>
<line x1="472.4" y1="479.4" x2="472.4" y2="480.7" stroke="#111" stroke-width="0.7"/>
<line x1="474.6" y1="479.4" x2="474.6" y2="480.7" stroke="#111" stroke-width="0.7"/>
<line x1="476.4" y1="479.4" x2="476.4" y2="480.7" stroke="#111" stroke-width="0.7"/>
<line x1="477.92" y1="479.4" x2="477.92" y2="480.7" stroke="#111" stroke-width="0.7"/>
<line x1="479.24" y1="479.4" x2="479.24" y2="480.7" stroke="#111" stroke-width="0.7"/>
<line x1="480.4" y1="479.4" x2="480.4" y2="480.7" stroke="#111" stroke-width="0.7"/>
<line x1="481.44" y1="479.4" x2="481.44" y2="481.6" stroke="#111" stroke-width="0.9"/>
<line x1="488.29" y1="479.4" x2="488.29" y2="480.7" stroke="#111" stroke-width="0.7"/>
<line x1="492.29" y1="479.4" x2="492.29" y2="480.7" stroke="#111" stroke-width="0.7"/>
<line x1="495.13" y1="479.4" x2="495.13" y2="480.7" stroke="#111" stroke-width="0.7"/>
<line x1="497.34" y1="479.4" x2="497.34" y2="480.7" stroke="#111" stroke-width="0.7"/>
<line x1="499.14" y1="479.4" x2="499.14" y2="480.7" stroke="#111" stroke-width="0.7"/>
<line x1="500.66" y1="479.4" x2="500.66" y2="480.7" stroke="#111" stroke-width="0.7"/>
<line x1="501.98" y1="479.4" x2="501.98" y2="480.7" stroke="#111" stroke-width="0.7"/>
<line x1="503.14" y1="479.4" x2="503.14" y2="480.7" stroke="#111" stroke-width="0.7"/>
<line x1="504.18" y1="479.4" x2="504.18" y2="481.6" stroke="#111" stroke-width="0.9"/>
<line x1="378.7" y1="448.4" x2="378.7" y2="393.2" stroke="#231f20" stroke-width="1.1"/>
<path d="M378.7 389.5L380.9 393.7L376.5 393.7Z" fill="#231f20"/>
<text x="380.8" y="479.2" font-size="8" textLength="27.7" lengthAdjust="spacingAndGlyphs" transform="rotate(-90 380.8 479.2)">% of Max</text>
<text x="395.5" y="493.5" font-size="8.4" textLength="52" lengthAdjust="spacingAndGlyphs">FITC (C11-bodipy)</text>
<line x1="450.5" y1="490.5" x2="498.2" y2="490.5" stroke="#231f20" stroke-width="1.1"/>
<path d="M501.3 490.5L497.7 492.3L497.7 488.7Z" fill="#231f20"/>
<line x1="483.2" y1="384.9" x2="490.4" y2="384.9" stroke="#222" stroke-width="1.5"/>
<text x="493.6" y="387.2" font-size="8" textLength="18.8" lengthAdjust="spacingAndGlyphs">Fresh</text>
<rect x="484.1" y="394.1" width="5.2" height="5.2" fill="#c89ac8" stroke="#4a1a4e" stroke-width="1.3"/>
<text x="493.6" y="398.9" font-size="8" textLength="12.4" lengthAdjust="spacingAndGlyphs">Old</text>
<line x1="389.2" y1="523.5" x2="389.2" y2="593.7" stroke="#231f20" stroke-width="1.25"/>
<line x1="386" y1="593.1" x2="389.2" y2="593.1" stroke="#231f20" stroke-width="1.1"/>
<text x="383.7" y="595.9" font-size="8.4" text-anchor="end">0</text>
<line x1="386" y1="570.9" x2="389.2" y2="570.9" stroke="#231f20" stroke-width="1.1"/>
<text x="383.7" y="573.7" font-size="8.4" text-anchor="end">10</text>
<line x1="386" y1="548.6" x2="389.2" y2="548.6" stroke="#231f20" stroke-width="1.1"/>
<text x="383.7" y="551.4" font-size="8.4" text-anchor="end">20</text>
<line x1="386" y1="526.3" x2="389.2" y2="526.3" stroke="#231f20" stroke-width="1.1"/>
<text x="383.7" y="529.1" font-size="8.4" text-anchor="end">30</text>
<line x1="386" y1="593.1" x2="489.9" y2="593.1" stroke="#231f20" stroke-width="1.3"/>
<line x1="418" y1="593.1" x2="418" y2="596.3" stroke="#231f20" stroke-width="1.1"/>
<line x1="465" y1="593.1" x2="465" y2="596.3" stroke="#231f20" stroke-width="1.1"/>
<text x="367.6" y="559.9" font-size="8.6" text-anchor="middle" textLength="64" lengthAdjust="spacingAndGlyphs" transform="rotate(-90 367.6 559.9)">C11-bodipy<tspan dy="-2.6" font-size="5.6">+</tspan><tspan dy="2.6"> (%)</tspan></text>
<line x1="414.7" y1="533.3" x2="466" y2="533.3" stroke="#231f20" stroke-width="1.3"/>
<circle cx="433.72" cy="529.5" r="1.15" fill="#1a1a1a"/>
<circle cx="437.38" cy="529.5" r="1.15" fill="#1a1a1a"/>
<circle cx="441.02" cy="529.5" r="1.15" fill="#1a1a1a"/>
<circle cx="444.68" cy="529.5" r="1.15" fill="#1a1a1a"/>
<line x1="398.4" y1="588.2" x2="429" y2="588.2" stroke="#a3173f" stroke-width="1.2"/>
<circle cx="407.5" cy="587.6" r="1.7" fill="#a3173f"/>
<circle cx="411.5" cy="588.6" r="1.7" fill="#a3173f"/>
<circle cx="415.5" cy="588.4" r="1.7" fill="#a3173f"/>
<circle cx="421.5" cy="587.4" r="1.5" fill="#fff" stroke="#a3173f" stroke-width="1.45"/>
<line x1="449.7" y1="549" x2="480" y2="549" stroke="#263b6d" stroke-width="1.2"/>
<line x1="456.2" y1="540.2" x2="472.5" y2="540.2" stroke="#263b6d" stroke-width="1.1"/>
<line x1="456.2" y1="558.8" x2="472.5" y2="558.8" stroke="#263b6d" stroke-width="1.1"/>
<line x1="465" y1="540.2" x2="465" y2="558.8" stroke="#263b6d" stroke-width="1.1"/>
<circle cx="466" cy="540" r="1.6" fill="#263b6d"/>
<circle cx="462" cy="543" r="1.6" fill="#263b6d"/>
<circle cx="465" cy="552" r="1.6" fill="#263b6d"/>
<circle cx="464.6" cy="559.6" r="1.6" fill="#263b6d"/>
<text x="414.7" y="606.2" font-size="8.3" text-anchor="middle" textLength="20.6" lengthAdjust="spacingAndGlyphs">Fresh</text>
<text x="414.7" y="616.6" font-size="8.3" text-anchor="middle" textLength="20" lengthAdjust="spacingAndGlyphs">RBCs</text>
<text x="464.4" y="606.2" font-size="8.3" text-anchor="middle" textLength="13.5" lengthAdjust="spacingAndGlyphs">Old</text>
<text x="464.6" y="616.6" font-size="8.3" text-anchor="middle" textLength="19.5" lengthAdjust="spacingAndGlyphs">RBCs</text>
<path d="M1 1H519V624H1Z M2 2V623H518V2Z" fill="#7a7a7a" fill-rule="evenodd"/>
<path d="M0 0H520V625H0Z M1 1V624H519V1Z" fill="#000" fill-rule="evenodd"/>
</svg>
</body></html>
